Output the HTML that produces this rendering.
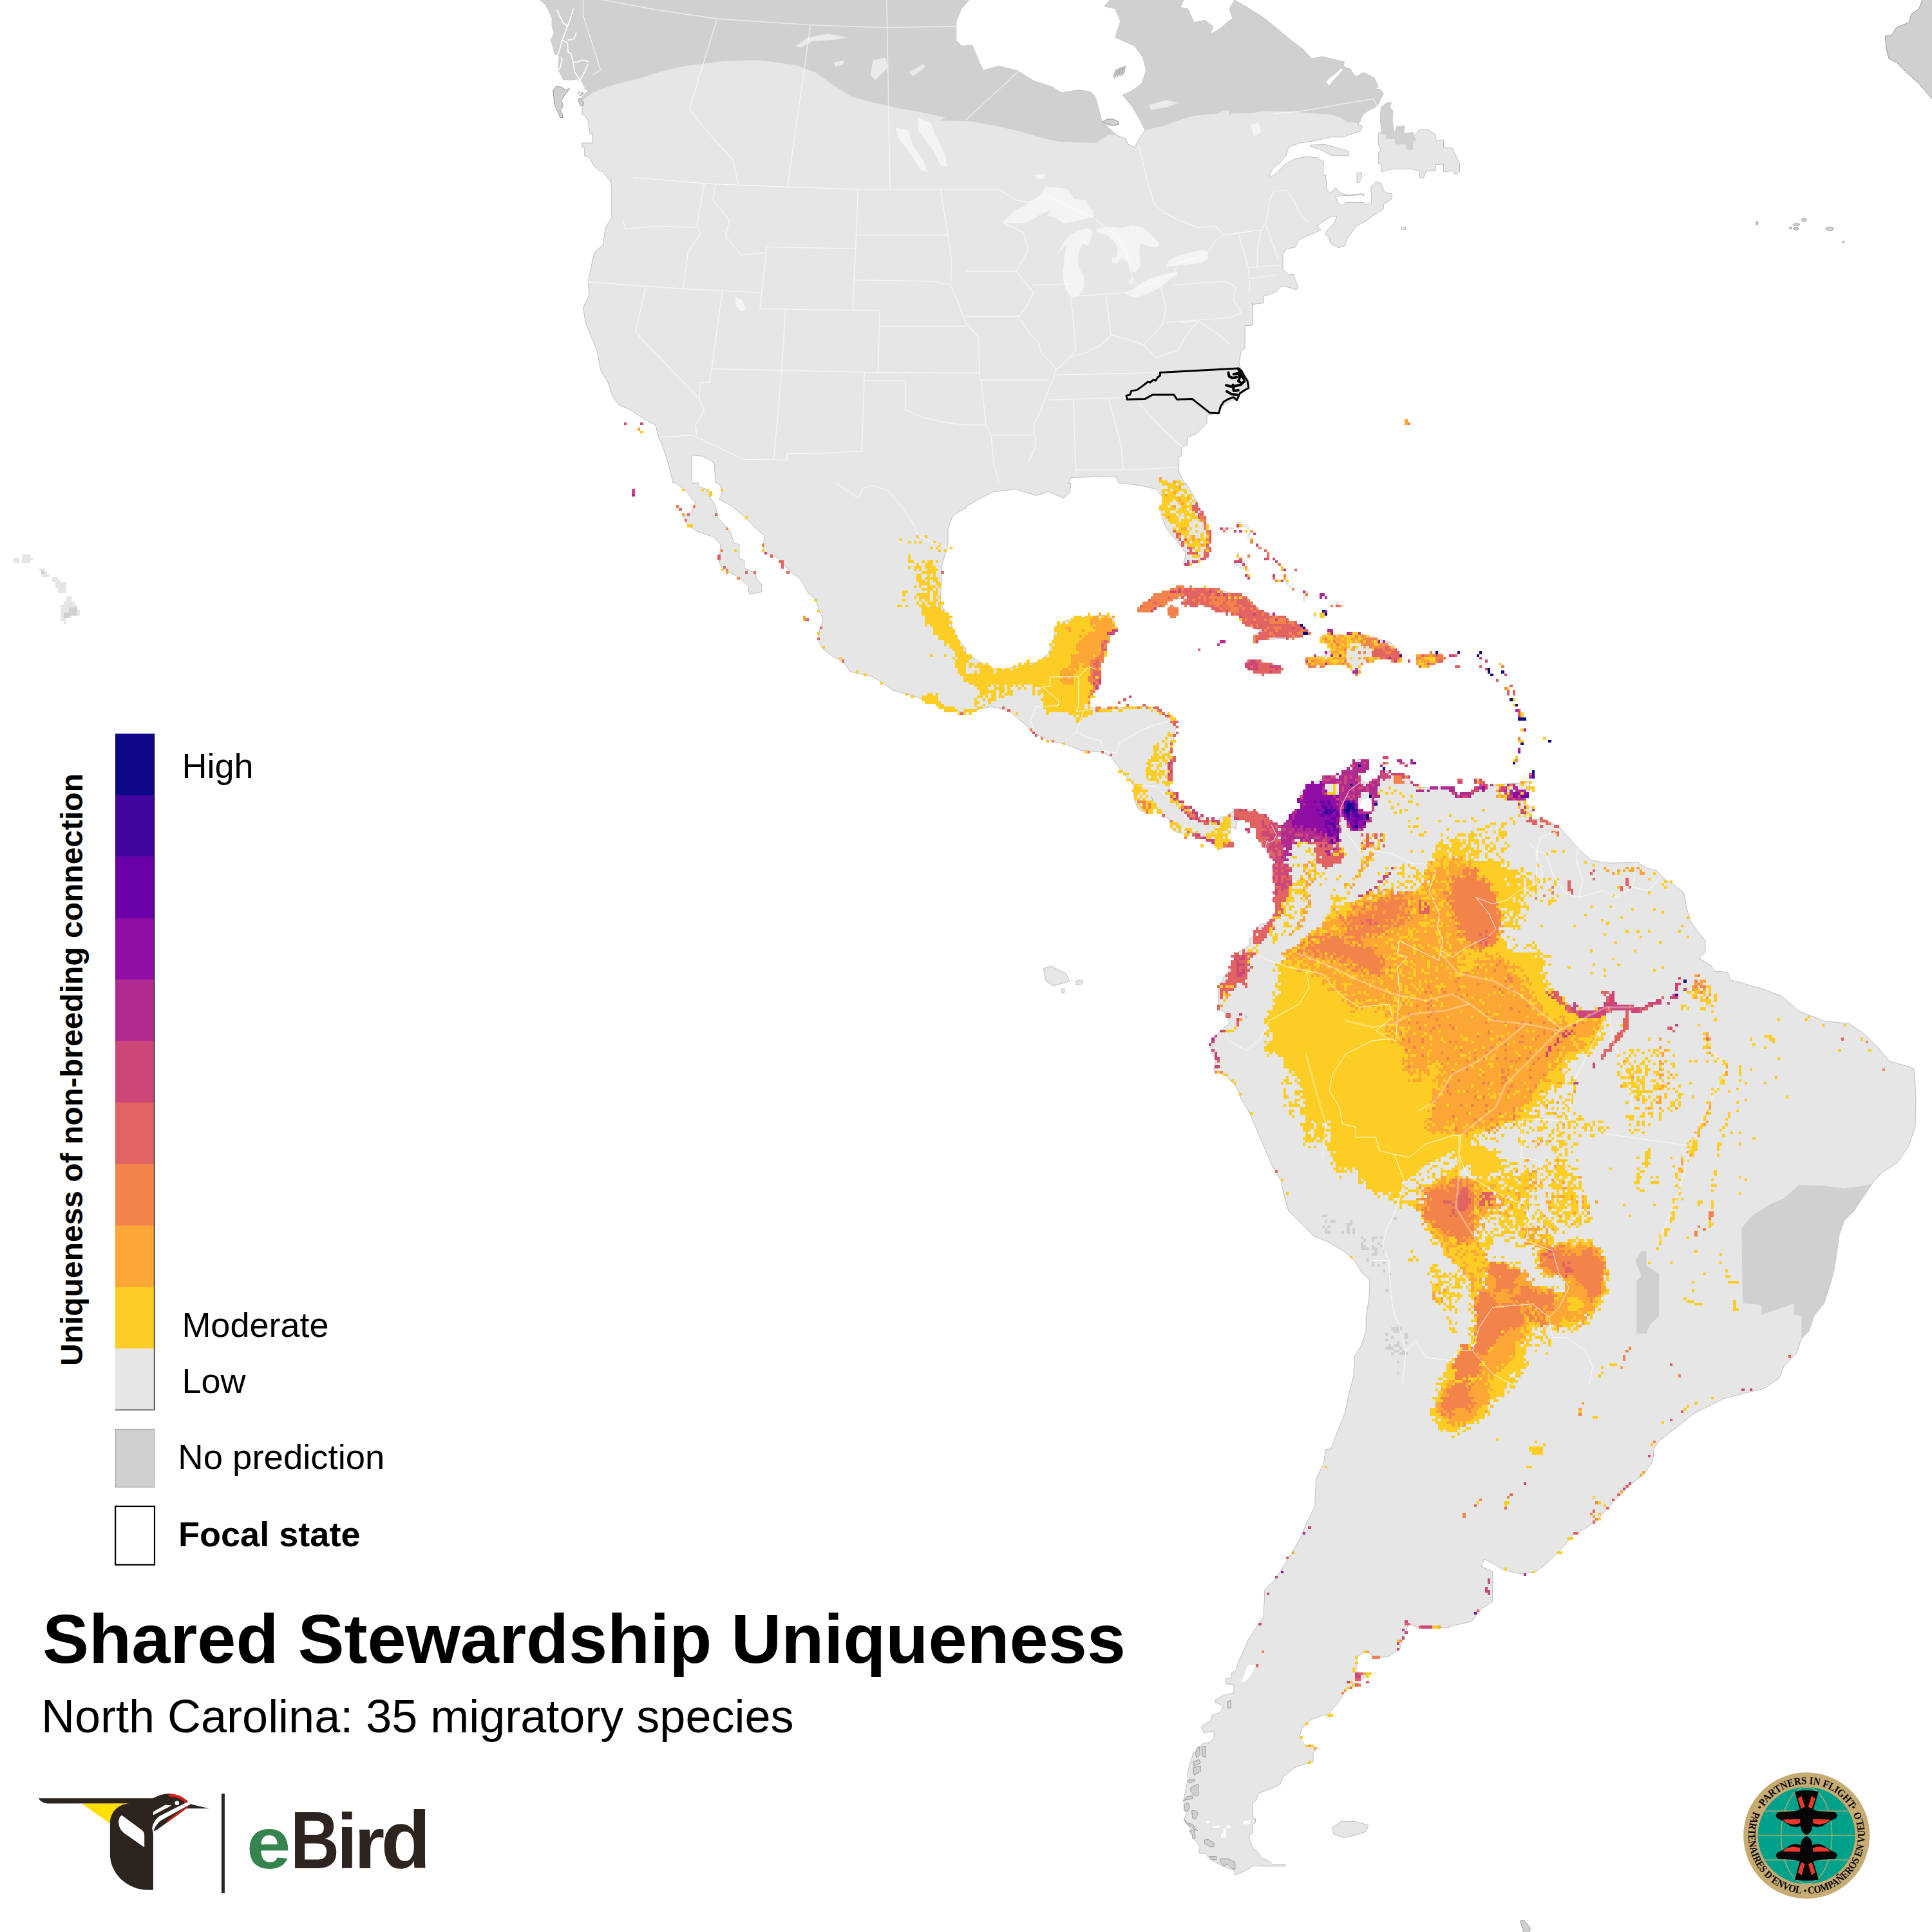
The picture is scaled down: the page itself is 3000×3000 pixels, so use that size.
<!DOCTYPE html>
<html><head><meta charset="utf-8"><title>Shared Stewardship Uniqueness</title>
<style>
html,body{margin:0;padding:0;background:#fff}
body{width:3000px;height:3000px;overflow:hidden}
svg{display:block}
text{font-family:"Liberation Sans",sans-serif;fill:#000}
.b{font-weight:bold}
</style></head><body>
<svg width="3000" height="3000" viewBox="0 0 3000 3000">
<rect width="3000" height="3000" fill="#fff"/>

<defs><clipPath id="landclip"><path d="M837.9,0 846.4,6.2 851.1,15.5 857.3,28 857,40.4 860.4,51.2 855.4,62.1 861.6,83.9 868.1,87 866.6,107.1 874.3,123.4 885.2,124.2 897.6,122.7 903.9,130.4 907.7,138.2 913.2,140.5 907,147.5 900.7,153.7 906.2,159.9 903.9,166.1 903.9,178.6 907.7,178.6 913.2,187.9 916.3,208.1 920.2,208.1 920.2,222 903.9,222 903.9,228.3 907.7,229.8 907.7,242.2 916.3,245.3 920.9,256.2 928.7,264 936.5,267.1 944.2,278 949.7,281.1 948,279.5 949.9,295 949.9,337.7 940.2,353.3 936.3,380.4 922.7,392.1 916.9,419.3 913,438.7 915,458.1 905.3,477.5 909.2,500.8 916.9,520.2 926.6,543.5 932.5,574.5 944.1,593.9 951.9,617.2 961.6,628.9 979,636.6 1002.3,652.2 1017.9,659.9 1021.7,675.5 1029.5,694.9 1037.3,718.2 1045,750 1048.9,750 1064.4,761.6 1080,781.1 1072.2,796.6 1060.6,800.5 1068.3,816 1083.9,825.7 1107.1,833.5 1118.8,845.1 1116.8,874.2 1122.7,883.9 1146,895.6 1161.5,909.2 1163.4,922.7 1182.8,918.9 1182.8,907.2 1175.1,899.5 1173.1,889.8 1155.7,882 1155.7,870.3 1147.9,866.5 1147.9,845.1 1140.1,843.2 1134.3,825.7 1114.9,804.3 1111,784.9 1103.3,773.3 1097.4,759.7 1085.8,755.8 1083.9,750 1074.1,750 1074.1,706.5 1091.6,708.5 1109.1,718.2 1111,750 1114.9,750 1122.7,761.6 1116.8,775.2 1134.3,784.9 1153.7,800.5 1173.1,819.9 1186.7,831.5 1184.8,856.8 1208.1,866.5 1227.5,887.8 1243,899.5 1254.7,920.8 1266.3,930.5 1272.1,948 1278,961.6 1272.1,979 1270.2,994.6 1278,1008.2 1293.5,1019.8 1309,1027.6 1320.7,1043.1 1355.6,1050.9 1371.1,1060.6 1386.6,1072.2 1409.9,1078 1433.2,1085.8 1460.4,1095.5 1475.9,1103.3 1500,1105.2 1500,1105.2 1538.8,1097.4 1566,1103.3 1589.3,1122.7 1604.8,1138.2 1628.1,1149.8 1655.3,1155.7 1678.6,1165.4 1709.6,1167.3 1725.2,1175.1 1740.7,1196.4 1760.1,1219.7 1759.1,1220.8 1761.7,1244.1 1768.2,1257 1779.8,1262.2 1788.9,1258.3 1790.2,1244.1 1787.6,1236.3 1796.7,1254.4 1807,1267.4 1814.9,1271.4 1818.8,1286.9 1826.6,1292.1 1836.9,1293.4 1840.8,1299.9 1843.4,1298.6 1840.8,1292.1 1852.5,1293.4 1855.1,1296 1869.3,1297.3 1873.2,1303.8 1878.3,1306.3 1887.4,1312.8 1891.3,1318 1900.3,1316.7 1914.6,1312.8 1914.6,1308.9 1909.4,1305.1 1904.2,1299.9 1909.4,1293.4 1912,1284.3 1919.8,1286.9 1919.8,1279.2 1922.3,1274 1936.6,1272.7 1946.9,1279.2 1950.8,1286.9 1950.8,1299.9 1956,1307.6 1963.7,1316.7 1967.6,1324.5 1974.1,1332.2 1978,1337.4 1975.4,1346.5 1978,1354.2 1975.4,1363.3 1979.3,1372.3 1979.3,1391.7 1975.4,1396.9 1979.3,1403.4 1987,1406 1984.5,1413.7 1979.3,1416.3 1975.4,1424.1 1971.5,1433.2 1958.6,1434.5 1950.8,1440.9 1948.2,1452.6 1939.2,1457.7 1940.5,1466.8 1930.1,1474.6 1919.8,1480 1915.4,1500 1903.7,1511.6 1892.1,1533 1892.1,1566 1903.7,1573.8 1909.5,1587.3 1899.8,1597 1886.3,1608.7 1878.5,1624.2 1888.2,1647.5 1884.3,1661.1 1903.7,1670.8 1919.3,1686.3 1927,1705.7 1940.6,1729 1952.3,1756.2 1963.9,1783.4 1975.5,1810.6 1989.1,1833.9 1995,1861 2000.8,1880.4 2020.2,1899.8 2039.6,1919.3 2062.9,1929 2086.2,1942.5 2103.6,1958.1 2115.3,1977.5 2126.9,1987.2 2125.8,2016.3 2121.1,2043.5 2121.1,2066.8 2113.4,2090.1 2103.6,2105.6 2101.7,2136.6 2093.9,2167.7 2088.1,2194.9 2078.4,2218.2 2066.8,2250 2059,2250 2055.1,2273.3 2043.5,2296.6 2041.5,2339.3 2028,2366.5 2018.2,2389.8 2004.7,2413 1993,2432.5 1977.5,2455.7 1963.9,2467.4 1962,2510.1 1954.2,2521.7 1938.7,2545 1929,2568.3 1923.2,2580 1919.6,2592.7 1912.3,2598.1 1912.3,2605.4 1903.3,2607.2 1903.3,2614.4 1915.9,2616.2 1915.9,2628.9 1899.6,2632.5 1887,2639.8 1887,2643.4 1899.6,2648.8 1894.2,2659.7 1882.4,2663.3 1879.7,2672.4 1868.8,2677.8 1865.2,2683.3 1869.7,2690.5 1885.1,2688.7 1885.1,2697.8 1879.7,2705 1868.8,2706.8 1859.8,2714.1 1852.5,2723.1 1848.9,2735.8 1844.4,2750.3 1844.4,2763 1841.7,2775.7 1838,2795.6 1838.9,2811.9 1843.5,2813.7 1838.9,2824.6 1847.1,2837.2 1854.3,2855.4 1863.4,2868 1861.6,2877.1 1872.5,2878.9 1879.7,2888 1894.2,2895.2 1901.4,2898.8 1915.9,2904.3 1917.8,2911.5 1926.8,2907.9 1941.3,2900.7 1944.9,2897 1957.6,2897.9 1970.3,2897.9 1995.7,2897.9 1995.7,2895.2 1975.7,2895.2 1970.3,2889.8 1957.6,2884.3 1953.1,2875.3 1944.9,2869.9 1941.3,2859 1939.5,2849.9 1944.9,2846.3 1944.9,2833.6 1949.5,2830 1949.5,2823.7 1944.9,2822.8 1944.9,2801 1950.4,2795.6 1954,2784.7 1973.9,2777.5 1988.4,2770.2 1992,2759.3 2001.1,2752.1 2013.8,2743 2039.1,2735.8 2039.1,2721.3 2046.4,2714.1 2026.4,2710.4 2017.4,2697.8 2021.9,2683.3 2035.5,2670.6 2050,2665.1 2062.9,2661.5 2082.3,2638.2 2090.1,2622.7 2105.6,2614.9 2125,2599.4 2105.6,2595.5 2107.5,2572.2 2121.1,2564.4 2136.6,2574.1 2156.1,2572.2 2173.5,2560.6 2179.3,2541.1 2187.1,2521.7 2202.6,2527.6 2237.6,2527.6 2250,2527.6 2250,2525.6 2284.9,2517.9 2300.5,2498.4 2317.9,2486.8 2317.9,2440.2 2300.5,2432.5 2304.3,2420.8 2319.9,2428.6 2335.4,2438.3 2362.6,2444.1 2385.9,2440.2 2405.3,2424.7 2424.7,2405.3 2444.1,2382 2459.6,2374.2 2479,2362.6 2494.6,2343.2 2514,2323.8 2533.4,2304.3 2552.8,2288.8 2566.4,2269.4 2568.3,2250 2568.3,2250 2576.1,2237.6 2591.6,2225.9 2611,2210.4 2630.4,2194.9 2653.7,2183.2 2677,2171.6 2708.1,2163.8 2739.1,2156.1 2762.4,2140.5 2770.2,2121.1 2789.6,2101.7 2797.4,2078.4 2809,2066.8 2816.8,2043.5 2832.3,2024.1 2840.1,2000.8 2847.8,1973.6 2851.7,1950.3 2855.6,1919.3 2863.4,1896 2878.9,1880.4 2894.4,1857.1 2909.9,1833.9 2925.5,1818.3 2944.9,1806.7 2964.3,1779.5 2974,1748.4 2975.2,1701.9 2972,1659.2 2960.4,1655.3 2933.2,1647.5 2917.7,1628.1 2894.4,1604.8 2871.1,1589.3 2832.3,1585.4 2793.5,1569.9 2766.3,1546.6 2735.2,1534.9 2686.7,1521.4 2682.8,1509.7 2661.5,1507.8 2657.6,1500 2657.6,1500 2638.2,1487.6 2647.9,1477.9 2647.9,1460.4 2638.2,1448.8 2626.6,1433.2 2618.8,1409.9 2614.9,1386.6 2601.3,1375 2587.7,1367.2 2572.2,1351.7 2556.7,1347.8 2543.1,1339.3 2498.4,1340.1 2471.3,1336.2 2451.9,1318.7 2436.3,1301.2 2420.8,1283.8 2397.5,1272.1 2374.2,1272.1 2380,1254.7 2366.5,1246.9 2358.7,1231.4 2376.2,1227.5 2374.2,1212 2362.6,1215.8 2327.6,1217.8 2300.5,1221.7 2284.9,1233.3 2261.6,1235.2 2250,1225.5 2250,1221.7 2222,1223.6 2198.8,1221.7 2179.3,1202.3 2159.9,1200.3 2152.2,1196.4 2140.5,1210 2121.1,1215.8 2109.5,1208.1 2121.1,1192.5 2125,1182.8 2109.5,1179 2097.8,1192.5 2074.5,1208.1 2051.2,1210 2035.7,1217.8 2019.4,1230 2016.8,1237.8 2019.4,1249.4 2018.1,1257.2 2007.7,1259.8 2000,1272.7 1992.2,1288.2 1984.5,1286.9 1979.3,1281.8 1974.1,1275.3 1966.3,1267.5 1958.6,1264.9 1949.5,1259.8 1932.7,1258.5 1927.5,1255.9 1917.2,1255.9 1915.9,1259.8 1909.4,1263.6 1904.2,1267.5 1895.2,1268.8 1890,1274.6 1870.6,1275.3 1868.6,1268.8 1856.3,1267.5 1855.7,1261.1 1848.6,1259.8 1847.3,1255.9 1840.8,1254.6 1838.2,1249.4 1831.8,1244.2 1826.6,1237.8 1822.7,1230 1814.4,1219.7 1820.3,1196.4 1818.3,1169.3 1824.1,1142.1 1826.1,1120.7 1814.4,1113 1798.9,1101.3 1779.5,1095.5 1764,1097.4 1732.9,1099.4 1701.9,1101.3 1690.2,1095.5 1694.1,1080 1701.9,1060.6 1705.7,1041.1 1711.6,1021.7 1717.4,1002.3 1729,979 1729,959.6 1717.4,955 1686.3,957.7 1655.3,963.5 1637.8,973.2 1635.9,994.6 1628.1,1014 1612.6,1027.6 1577.6,1035.3 1550.5,1041.1 1531.1,1033.4 1511.6,1021.7 1500,1017.9 1500,1006.2 1495.3,1002.3 1483.7,986.8 1472,955.7 1460.4,936.3 1462.3,878.1 1472,847 1472,819.9 1479.8,800.5 1500,788.8 1500,786.9 1519.4,775.2 1542.7,763.6 1577.6,759.7 1608.7,769.4 1628.1,763.6 1651.4,773.3 1661.1,765.5 1663,750 1659.2,750 1663,741.5 1732.9,739.5 1736.8,750 1740.7,750 1771.7,753.9 1795,759.7 1806.7,773.3 1802.8,796.6 1810.6,819.9 1826.1,839.3 1841.6,858.7 1837.7,876.2 1857.1,874.2 1872.7,862.6 1878.5,843.2 1876.6,819.9 1864.9,792.7 1853.3,769.4 1841.6,750 1841.1,752.3 1834.9,741.9 1830.7,733.6 1830.7,708.8 1834.9,707.8 1834.9,695.3 1844.2,690.2 1844.2,678.8 1857.7,673.6 1865.9,665.3 1874.2,657 1874.2,644.6 1892.9,641.5 1894.9,632.2 1911.5,621.8 1921.8,619.8 1926,611.5 1939.4,603.2 1939.4,592.9 1932.2,580.4 1926,571.1 1923.9,561.8 1928.1,543.2 1933.2,541.1 1933.2,505.9 1944.6,504.9 1944.6,470.7 1944.5,472.7 1962.1,470.6 1962.1,460.2 1974.5,456.1 1982.8,452 1989,444.7 1999.4,445.8 2012.8,449.9 2015.9,445.8 2011.8,435.4 2007.7,425.1 2001.4,427.1 1997.3,423 1992.1,418.8 1992.1,394 1997.3,386.7 2011.8,383.6 2015.9,373.3 2028.4,367.1 2042.9,360.9 2051.1,356.7 2044.9,350.5 2057.3,342.2 2067.7,336 2076,336 2071.8,346.4 2061.5,356.7 2057.3,362.9 2063.6,369.2 2065.6,377.4 2078.1,384.7 2088.4,381.6 2090.5,373.3 2098.8,360.9 2107,350.5 2119.5,344.3 2127.7,338.1 2140.2,329.8 2148.4,324.6 2148.4,317.4 2160.9,309.1 2161.9,300.8 2150.5,298.8 2144.3,284.3 2136,282.2 2128.8,290.5 2129.8,315.3 2119.5,317.4 2117.4,314.3 2090.5,314.3 2082.2,319.5 2076,311.2 2073.9,305 2086.3,303.9 2115.3,300.8 2117.4,305 2118.4,301.9 2094.6,303.9 2080.1,298.8 2073.9,291.5 2065.6,299.8 2060.5,294.6 2059.4,282.2 2058.4,271.8 2054.2,271.8 2055.3,251.1 2044.9,244.9 2028.4,242.9 2009.7,247 1993.2,257.3 1982.8,267.7 1972.5,276 1971.4,271.8 1976.6,261.5 1987,253.2 1997.3,240.8 1999.4,232.5 2005.6,226.3 2018,222.2 2044.9,218 2065.6,212.8 2086.3,212.8 2098.8,207.7 2113.3,203.5 2115.3,195.2 2109.1,194.2 2117.4,176.6 2125.7,171.4 2138.1,165.2 2148.4,145.5 2144.3,139.3 2134,137.3 2140.2,135.2 2134,120.7 2117.4,112.4 2107,118.6 2102.9,116.6 2096.7,107.2 2087.4,104.1 2086.3,100 2087.7,96.1 2066.2,91.1 2053,87.8 2036.4,91.1 2023.1,76.2 2003.3,61.3 1983.4,44.7 1963.5,28.2 1937,11.6 1917.1,0 1917.1,0 1908.9,13.3 1913.8,28.2 1894,44.7 1879,53 1884,41.4 1870.8,31.5 1854.2,34.8 1844.3,13.3 1832.7,11.6 1837.6,0 1723.4,0 1715.1,9.9 1731.6,13.3 1739.9,33.1 1731.6,58 1761.4,71.2 1774.7,89.4 1779.7,109.3 1773,129.2 1758.1,140.8 1743.2,147.4 1758.1,165.6 1769.7,185.5 1778,202.1 1771.4,212 1761.4,228.6 1751.5,223.6 1748.2,215.3 1734.9,210.4 1721.7,198.8 1710.1,185.5 1705.1,165.6 1700.2,149.1 1691.9,141.8 1672,139.8 1648.8,144.1 1632.3,134.2 1605.8,125.9 1579.3,109.3 1551.1,102.7 1526.3,109.3 1509.7,70.2 1493.1,71.2 1484.8,62.9 1484.8,33.1 1493.1,13.3 1504.7,0Z M2144.3,166.3 2152.6,160 2160.9,159 2157.8,166.3 2162.9,172.5 2161.9,187 2165,207.7 2169.2,196.3 2181.6,195.2 2179.5,207.7 2194,205.6 2195,211.8 2204.3,201.4 2216.8,201.4 2229.2,208.7 2229.2,218 2241.6,217 2241.6,229.4 2255.1,229.4 2260.2,240.8 2266.5,253.2 2266.5,266.7 2260.2,271.8 2256.1,265.6 2241.6,266.7 2241.6,255.3 2229.2,255.3 2229.2,265.6 2214.7,265.6 2210.6,276 2204.3,276 2204.3,265.6 2191.9,262.5 2160.9,262.5 2145.3,266.7 2145.3,255.3 2140.2,254.2 2140.2,236.6 2144.3,234.6 2140.2,224.2 2140.2,207.7 2145.3,203.5 2143.3,187Z M2034.6,225.3 2057.3,224.2 2086.3,232.5 2093.6,234.6 2093.6,241.8 2068.7,241.8 2051.1,232.5 2034.6,227.3Z M2107,268.7 2114.3,267.7 2114.3,276 2110.8,283.2 2107,283.2Z M2175.4,352.6 2182.6,352.2 2182.6,356.3 2176.4,356.7Z M1767.9,948 1783.4,932.5 1806.7,918.9 1833.9,913 1868.8,913 1896,916.9 1919.3,922.7 1938.7,934.4 1958.1,948 1985.2,957.7 2008.5,967.4 2031.8,979 2031.8,982.9 2004.7,990.7 1973.6,992.6 1946.4,994.6 1946.4,986.8 1958.1,979 1938.7,973.2 1927,955.7 1903.7,948 1884.3,944.1 1861,938.3 1837.7,934.4 1837.7,928.6 1818.3,932.5 1795,940.2 1787.3,948.8Z M1812.5,944.1 1822.2,941 1830,948 1828,955.7 1814.4,955.7Z M1934.8,1027.6 1950.3,1026.4 1977.5,1031.4 1991.1,1039.2 1973.6,1043.1 1954.2,1045 1938.7,1037.3Z M2049.3,988.7 2062.9,982.9 2090.1,986.8 2117.2,984.9 2136.6,990.7 2159.9,998.4 2175.5,1014 2171.6,1027.6 2152.2,1021.7 2128.9,1025.6 2109.5,1029.5 2109.5,1045 2101.7,1041.1 2090.1,1027.6 2070.7,1025.6 2043.5,1033.4 2028,1027.6 2028,1021.7 2059,1017.9 2066.8,1006.2 2051.2,994.6Z M2202.6,1017.9 2237.6,1014 2245.3,1021.7 2237.6,1029.5 2202.6,1031.4Z M2068.7,2838.1 2082.3,2828.4 2105.6,2828.4 2125,2834.2 2121.1,2843.9 2105.6,2849.8 2086.2,2853.6 2070.7,2847.8Z M1620.3,1503.9 1632,1500 1655.3,1511.6 1661.1,1523.3 1635.9,1531.1 1624.2,1523.3Z M1670.8,1523.3 1680.5,1521.4 1680.5,1528 1670.8,1529.1Z M1648.7,1534.9 1652.6,1534.9 1652.6,1541.9 1648.7,1541.9Z"/></clipPath></defs>
<path d="M837.9,0 846.4,6.2 851.1,15.5 857.3,28 857,40.4 860.4,51.2 855.4,62.1 861.6,83.9 868.1,87 866.6,107.1 874.3,123.4 885.2,124.2 897.6,122.7 903.9,130.4 907.7,138.2 913.2,140.5 907,147.5 900.7,153.7 906.2,159.9 903.9,166.1 903.9,178.6 907.7,178.6 913.2,187.9 916.3,208.1 920.2,208.1 920.2,222 903.9,222 903.9,228.3 907.7,229.8 907.7,242.2 916.3,245.3 920.9,256.2 928.7,264 936.5,267.1 944.2,278 949.7,281.1 948,279.5 949.9,295 949.9,337.7 940.2,353.3 936.3,380.4 922.7,392.1 916.9,419.3 913,438.7 915,458.1 905.3,477.5 909.2,500.8 916.9,520.2 926.6,543.5 932.5,574.5 944.1,593.9 951.9,617.2 961.6,628.9 979,636.6 1002.3,652.2 1017.9,659.9 1021.7,675.5 1029.5,694.9 1037.3,718.2 1045,750 1048.9,750 1064.4,761.6 1080,781.1 1072.2,796.6 1060.6,800.5 1068.3,816 1083.9,825.7 1107.1,833.5 1118.8,845.1 1116.8,874.2 1122.7,883.9 1146,895.6 1161.5,909.2 1163.4,922.7 1182.8,918.9 1182.8,907.2 1175.1,899.5 1173.1,889.8 1155.7,882 1155.7,870.3 1147.9,866.5 1147.9,845.1 1140.1,843.2 1134.3,825.7 1114.9,804.3 1111,784.9 1103.3,773.3 1097.4,759.7 1085.8,755.8 1083.9,750 1074.1,750 1074.1,706.5 1091.6,708.5 1109.1,718.2 1111,750 1114.9,750 1122.7,761.6 1116.8,775.2 1134.3,784.9 1153.7,800.5 1173.1,819.9 1186.7,831.5 1184.8,856.8 1208.1,866.5 1227.5,887.8 1243,899.5 1254.7,920.8 1266.3,930.5 1272.1,948 1278,961.6 1272.1,979 1270.2,994.6 1278,1008.2 1293.5,1019.8 1309,1027.6 1320.7,1043.1 1355.6,1050.9 1371.1,1060.6 1386.6,1072.2 1409.9,1078 1433.2,1085.8 1460.4,1095.5 1475.9,1103.3 1500,1105.2 1500,1105.2 1538.8,1097.4 1566,1103.3 1589.3,1122.7 1604.8,1138.2 1628.1,1149.8 1655.3,1155.7 1678.6,1165.4 1709.6,1167.3 1725.2,1175.1 1740.7,1196.4 1760.1,1219.7 1759.1,1220.8 1761.7,1244.1 1768.2,1257 1779.8,1262.2 1788.9,1258.3 1790.2,1244.1 1787.6,1236.3 1796.7,1254.4 1807,1267.4 1814.9,1271.4 1818.8,1286.9 1826.6,1292.1 1836.9,1293.4 1840.8,1299.9 1843.4,1298.6 1840.8,1292.1 1852.5,1293.4 1855.1,1296 1869.3,1297.3 1873.2,1303.8 1878.3,1306.3 1887.4,1312.8 1891.3,1318 1900.3,1316.7 1914.6,1312.8 1914.6,1308.9 1909.4,1305.1 1904.2,1299.9 1909.4,1293.4 1912,1284.3 1919.8,1286.9 1919.8,1279.2 1922.3,1274 1936.6,1272.7 1946.9,1279.2 1950.8,1286.9 1950.8,1299.9 1956,1307.6 1963.7,1316.7 1967.6,1324.5 1974.1,1332.2 1978,1337.4 1975.4,1346.5 1978,1354.2 1975.4,1363.3 1979.3,1372.3 1979.3,1391.7 1975.4,1396.9 1979.3,1403.4 1987,1406 1984.5,1413.7 1979.3,1416.3 1975.4,1424.1 1971.5,1433.2 1958.6,1434.5 1950.8,1440.9 1948.2,1452.6 1939.2,1457.7 1940.5,1466.8 1930.1,1474.6 1919.8,1480 1915.4,1500 1903.7,1511.6 1892.1,1533 1892.1,1566 1903.7,1573.8 1909.5,1587.3 1899.8,1597 1886.3,1608.7 1878.5,1624.2 1888.2,1647.5 1884.3,1661.1 1903.7,1670.8 1919.3,1686.3 1927,1705.7 1940.6,1729 1952.3,1756.2 1963.9,1783.4 1975.5,1810.6 1989.1,1833.9 1995,1861 2000.8,1880.4 2020.2,1899.8 2039.6,1919.3 2062.9,1929 2086.2,1942.5 2103.6,1958.1 2115.3,1977.5 2126.9,1987.2 2125.8,2016.3 2121.1,2043.5 2121.1,2066.8 2113.4,2090.1 2103.6,2105.6 2101.7,2136.6 2093.9,2167.7 2088.1,2194.9 2078.4,2218.2 2066.8,2250 2059,2250 2055.1,2273.3 2043.5,2296.6 2041.5,2339.3 2028,2366.5 2018.2,2389.8 2004.7,2413 1993,2432.5 1977.5,2455.7 1963.9,2467.4 1962,2510.1 1954.2,2521.7 1938.7,2545 1929,2568.3 1923.2,2580 1919.6,2592.7 1912.3,2598.1 1912.3,2605.4 1903.3,2607.2 1903.3,2614.4 1915.9,2616.2 1915.9,2628.9 1899.6,2632.5 1887,2639.8 1887,2643.4 1899.6,2648.8 1894.2,2659.7 1882.4,2663.3 1879.7,2672.4 1868.8,2677.8 1865.2,2683.3 1869.7,2690.5 1885.1,2688.7 1885.1,2697.8 1879.7,2705 1868.8,2706.8 1859.8,2714.1 1852.5,2723.1 1848.9,2735.8 1844.4,2750.3 1844.4,2763 1841.7,2775.7 1838,2795.6 1838.9,2811.9 1843.5,2813.7 1838.9,2824.6 1847.1,2837.2 1854.3,2855.4 1863.4,2868 1861.6,2877.1 1872.5,2878.9 1879.7,2888 1894.2,2895.2 1901.4,2898.8 1915.9,2904.3 1917.8,2911.5 1926.8,2907.9 1941.3,2900.7 1944.9,2897 1957.6,2897.9 1970.3,2897.9 1995.7,2897.9 1995.7,2895.2 1975.7,2895.2 1970.3,2889.8 1957.6,2884.3 1953.1,2875.3 1944.9,2869.9 1941.3,2859 1939.5,2849.9 1944.9,2846.3 1944.9,2833.6 1949.5,2830 1949.5,2823.7 1944.9,2822.8 1944.9,2801 1950.4,2795.6 1954,2784.7 1973.9,2777.5 1988.4,2770.2 1992,2759.3 2001.1,2752.1 2013.8,2743 2039.1,2735.8 2039.1,2721.3 2046.4,2714.1 2026.4,2710.4 2017.4,2697.8 2021.9,2683.3 2035.5,2670.6 2050,2665.1 2062.9,2661.5 2082.3,2638.2 2090.1,2622.7 2105.6,2614.9 2125,2599.4 2105.6,2595.5 2107.5,2572.2 2121.1,2564.4 2136.6,2574.1 2156.1,2572.2 2173.5,2560.6 2179.3,2541.1 2187.1,2521.7 2202.6,2527.6 2237.6,2527.6 2250,2527.6 2250,2525.6 2284.9,2517.9 2300.5,2498.4 2317.9,2486.8 2317.9,2440.2 2300.5,2432.5 2304.3,2420.8 2319.9,2428.6 2335.4,2438.3 2362.6,2444.1 2385.9,2440.2 2405.3,2424.7 2424.7,2405.3 2444.1,2382 2459.6,2374.2 2479,2362.6 2494.6,2343.2 2514,2323.8 2533.4,2304.3 2552.8,2288.8 2566.4,2269.4 2568.3,2250 2568.3,2250 2576.1,2237.6 2591.6,2225.9 2611,2210.4 2630.4,2194.9 2653.7,2183.2 2677,2171.6 2708.1,2163.8 2739.1,2156.1 2762.4,2140.5 2770.2,2121.1 2789.6,2101.7 2797.4,2078.4 2809,2066.8 2816.8,2043.5 2832.3,2024.1 2840.1,2000.8 2847.8,1973.6 2851.7,1950.3 2855.6,1919.3 2863.4,1896 2878.9,1880.4 2894.4,1857.1 2909.9,1833.9 2925.5,1818.3 2944.9,1806.7 2964.3,1779.5 2974,1748.4 2975.2,1701.9 2972,1659.2 2960.4,1655.3 2933.2,1647.5 2917.7,1628.1 2894.4,1604.8 2871.1,1589.3 2832.3,1585.4 2793.5,1569.9 2766.3,1546.6 2735.2,1534.9 2686.7,1521.4 2682.8,1509.7 2661.5,1507.8 2657.6,1500 2657.6,1500 2638.2,1487.6 2647.9,1477.9 2647.9,1460.4 2638.2,1448.8 2626.6,1433.2 2618.8,1409.9 2614.9,1386.6 2601.3,1375 2587.7,1367.2 2572.2,1351.7 2556.7,1347.8 2543.1,1339.3 2498.4,1340.1 2471.3,1336.2 2451.9,1318.7 2436.3,1301.2 2420.8,1283.8 2397.5,1272.1 2374.2,1272.1 2380,1254.7 2366.5,1246.9 2358.7,1231.4 2376.2,1227.5 2374.2,1212 2362.6,1215.8 2327.6,1217.8 2300.5,1221.7 2284.9,1233.3 2261.6,1235.2 2250,1225.5 2250,1221.7 2222,1223.6 2198.8,1221.7 2179.3,1202.3 2159.9,1200.3 2152.2,1196.4 2140.5,1210 2121.1,1215.8 2109.5,1208.1 2121.1,1192.5 2125,1182.8 2109.5,1179 2097.8,1192.5 2074.5,1208.1 2051.2,1210 2035.7,1217.8 2019.4,1230 2016.8,1237.8 2019.4,1249.4 2018.1,1257.2 2007.7,1259.8 2000,1272.7 1992.2,1288.2 1984.5,1286.9 1979.3,1281.8 1974.1,1275.3 1966.3,1267.5 1958.6,1264.9 1949.5,1259.8 1932.7,1258.5 1927.5,1255.9 1917.2,1255.9 1915.9,1259.8 1909.4,1263.6 1904.2,1267.5 1895.2,1268.8 1890,1274.6 1870.6,1275.3 1868.6,1268.8 1856.3,1267.5 1855.7,1261.1 1848.6,1259.8 1847.3,1255.9 1840.8,1254.6 1838.2,1249.4 1831.8,1244.2 1826.6,1237.8 1822.7,1230 1814.4,1219.7 1820.3,1196.4 1818.3,1169.3 1824.1,1142.1 1826.1,1120.7 1814.4,1113 1798.9,1101.3 1779.5,1095.5 1764,1097.4 1732.9,1099.4 1701.9,1101.3 1690.2,1095.5 1694.1,1080 1701.9,1060.6 1705.7,1041.1 1711.6,1021.7 1717.4,1002.3 1729,979 1729,959.6 1717.4,955 1686.3,957.7 1655.3,963.5 1637.8,973.2 1635.9,994.6 1628.1,1014 1612.6,1027.6 1577.6,1035.3 1550.5,1041.1 1531.1,1033.4 1511.6,1021.7 1500,1017.9 1500,1006.2 1495.3,1002.3 1483.7,986.8 1472,955.7 1460.4,936.3 1462.3,878.1 1472,847 1472,819.9 1479.8,800.5 1500,788.8 1500,786.9 1519.4,775.2 1542.7,763.6 1577.6,759.7 1608.7,769.4 1628.1,763.6 1651.4,773.3 1661.1,765.5 1663,750 1659.2,750 1663,741.5 1732.9,739.5 1736.8,750 1740.7,750 1771.7,753.9 1795,759.7 1806.7,773.3 1802.8,796.6 1810.6,819.9 1826.1,839.3 1841.6,858.7 1837.7,876.2 1857.1,874.2 1872.7,862.6 1878.5,843.2 1876.6,819.9 1864.9,792.7 1853.3,769.4 1841.6,750 1841.1,752.3 1834.9,741.9 1830.7,733.6 1830.7,708.8 1834.9,707.8 1834.9,695.3 1844.2,690.2 1844.2,678.8 1857.7,673.6 1865.9,665.3 1874.2,657 1874.2,644.6 1892.9,641.5 1894.9,632.2 1911.5,621.8 1921.8,619.8 1926,611.5 1939.4,603.2 1939.4,592.9 1932.2,580.4 1926,571.1 1923.9,561.8 1928.1,543.2 1933.2,541.1 1933.2,505.9 1944.6,504.9 1944.6,470.7 1944.5,472.7 1962.1,470.6 1962.1,460.2 1974.5,456.1 1982.8,452 1989,444.7 1999.4,445.8 2012.8,449.9 2015.9,445.8 2011.8,435.4 2007.7,425.1 2001.4,427.1 1997.3,423 1992.1,418.8 1992.1,394 1997.3,386.7 2011.8,383.6 2015.9,373.3 2028.4,367.1 2042.9,360.9 2051.1,356.7 2044.9,350.5 2057.3,342.2 2067.7,336 2076,336 2071.8,346.4 2061.5,356.7 2057.3,362.9 2063.6,369.2 2065.6,377.4 2078.1,384.7 2088.4,381.6 2090.5,373.3 2098.8,360.9 2107,350.5 2119.5,344.3 2127.7,338.1 2140.2,329.8 2148.4,324.6 2148.4,317.4 2160.9,309.1 2161.9,300.8 2150.5,298.8 2144.3,284.3 2136,282.2 2128.8,290.5 2129.8,315.3 2119.5,317.4 2117.4,314.3 2090.5,314.3 2082.2,319.5 2076,311.2 2073.9,305 2086.3,303.9 2115.3,300.8 2117.4,305 2118.4,301.9 2094.6,303.9 2080.1,298.8 2073.9,291.5 2065.6,299.8 2060.5,294.6 2059.4,282.2 2058.4,271.8 2054.2,271.8 2055.3,251.1 2044.9,244.9 2028.4,242.9 2009.7,247 1993.2,257.3 1982.8,267.7 1972.5,276 1971.4,271.8 1976.6,261.5 1987,253.2 1997.3,240.8 1999.4,232.5 2005.6,226.3 2018,222.2 2044.9,218 2065.6,212.8 2086.3,212.8 2098.8,207.7 2113.3,203.5 2115.3,195.2 2109.1,194.2 2117.4,176.6 2125.7,171.4 2138.1,165.2 2148.4,145.5 2144.3,139.3 2134,137.3 2140.2,135.2 2134,120.7 2117.4,112.4 2107,118.6 2102.9,116.6 2096.7,107.2 2087.4,104.1 2086.3,100 2087.7,96.1 2066.2,91.1 2053,87.8 2036.4,91.1 2023.1,76.2 2003.3,61.3 1983.4,44.7 1963.5,28.2 1937,11.6 1917.1,0 1917.1,0 1908.9,13.3 1913.8,28.2 1894,44.7 1879,53 1884,41.4 1870.8,31.5 1854.2,34.8 1844.3,13.3 1832.7,11.6 1837.6,0 1723.4,0 1715.1,9.9 1731.6,13.3 1739.9,33.1 1731.6,58 1761.4,71.2 1774.7,89.4 1779.7,109.3 1773,129.2 1758.1,140.8 1743.2,147.4 1758.1,165.6 1769.7,185.5 1778,202.1 1771.4,212 1761.4,228.6 1751.5,223.6 1748.2,215.3 1734.9,210.4 1721.7,198.8 1710.1,185.5 1705.1,165.6 1700.2,149.1 1691.9,141.8 1672,139.8 1648.8,144.1 1632.3,134.2 1605.8,125.9 1579.3,109.3 1551.1,102.7 1526.3,109.3 1509.7,70.2 1493.1,71.2 1484.8,62.9 1484.8,33.1 1493.1,13.3 1504.7,0Z M2144.3,166.3 2152.6,160 2160.9,159 2157.8,166.3 2162.9,172.5 2161.9,187 2165,207.7 2169.2,196.3 2181.6,195.2 2179.5,207.7 2194,205.6 2195,211.8 2204.3,201.4 2216.8,201.4 2229.2,208.7 2229.2,218 2241.6,217 2241.6,229.4 2255.1,229.4 2260.2,240.8 2266.5,253.2 2266.5,266.7 2260.2,271.8 2256.1,265.6 2241.6,266.7 2241.6,255.3 2229.2,255.3 2229.2,265.6 2214.7,265.6 2210.6,276 2204.3,276 2204.3,265.6 2191.9,262.5 2160.9,262.5 2145.3,266.7 2145.3,255.3 2140.2,254.2 2140.2,236.6 2144.3,234.6 2140.2,224.2 2140.2,207.7 2145.3,203.5 2143.3,187Z M2034.6,225.3 2057.3,224.2 2086.3,232.5 2093.6,234.6 2093.6,241.8 2068.7,241.8 2051.1,232.5 2034.6,227.3Z M2107,268.7 2114.3,267.7 2114.3,276 2110.8,283.2 2107,283.2Z M2175.4,352.6 2182.6,352.2 2182.6,356.3 2176.4,356.7Z M1767.9,948 1783.4,932.5 1806.7,918.9 1833.9,913 1868.8,913 1896,916.9 1919.3,922.7 1938.7,934.4 1958.1,948 1985.2,957.7 2008.5,967.4 2031.8,979 2031.8,982.9 2004.7,990.7 1973.6,992.6 1946.4,994.6 1946.4,986.8 1958.1,979 1938.7,973.2 1927,955.7 1903.7,948 1884.3,944.1 1861,938.3 1837.7,934.4 1837.7,928.6 1818.3,932.5 1795,940.2 1787.3,948.8Z M1812.5,944.1 1822.2,941 1830,948 1828,955.7 1814.4,955.7Z M1934.8,1027.6 1950.3,1026.4 1977.5,1031.4 1991.1,1039.2 1973.6,1043.1 1954.2,1045 1938.7,1037.3Z M2049.3,988.7 2062.9,982.9 2090.1,986.8 2117.2,984.9 2136.6,990.7 2159.9,998.4 2175.5,1014 2171.6,1027.6 2152.2,1021.7 2128.9,1025.6 2109.5,1029.5 2109.5,1045 2101.7,1041.1 2090.1,1027.6 2070.7,1025.6 2043.5,1033.4 2028,1027.6 2028,1021.7 2059,1017.9 2066.8,1006.2 2051.2,994.6Z M2202.6,1017.9 2237.6,1014 2245.3,1021.7 2237.6,1029.5 2202.6,1031.4Z M2068.7,2838.1 2082.3,2828.4 2105.6,2828.4 2125,2834.2 2121.1,2843.9 2105.6,2849.8 2086.2,2853.6 2070.7,2847.8Z M1620.3,1503.9 1632,1500 1655.3,1511.6 1661.1,1523.3 1635.9,1531.1 1624.2,1523.3Z M1670.8,1523.3 1680.5,1521.4 1680.5,1528 1670.8,1529.1Z M1648.7,1534.9 1652.6,1534.9 1652.6,1541.9 1648.7,1541.9Z" fill="#e6e6e6" stroke="#8a8a8a" stroke-opacity="0.55" stroke-width="0.9"/>
<g clip-path="url(#landclip)">
<path d="M750,0 750,160 878.1,163 889.8,161.1 901.4,157.2 905.3,155.3 920.8,143.6 951.9,132 990.7,122.3 1021.7,112.6 1060.6,102.9 1122.7,95.1 1177,93.2 1235.2,100.9 1266.3,112.6 1293.5,132 1320.7,149.5 1355.6,159.2 1390.5,166.9 1433.2,174.7 1468.2,182.5 1460,187.2 1509.7,188.8 1546.1,195.4 1582.6,203.7 1622.3,215.3 1645.5,220.3 1701.8,221.9 1721.7,208.7 1734.9,210.4 1758.1,218.6 1778,202.1 1807.8,195.4 1824.4,188.8 1850.9,180.5 1877.4,177.2 1890.6,176.6 1900,171.4 1908.3,171.4 1908.3,180.7 1912.4,176.6 1945.5,175.6 1962.1,172.5 2015.9,173.5 2028.4,175.6 2065.6,177.6 2082.2,182.8 2090.5,189 2107,191.1 2109.1,194.2 2127.7,194.2 2169.2,162.1 2300,180 2300,0Z" fill="#d0d0d0"/>
<path d="M2142.2,164.2 2152.6,158 2162.9,158 2165,172.5 2164,187 2166,203.5 2169.2,194.2 2182.6,193.2 2181.6,205.6 2195,203.5 2196.1,211.8 2200.2,218 2194,220.1 2194,232.5 2183.6,232.5 2182.6,224.2 2167.1,224.2 2165,215.9 2152.6,215.9 2151.6,209.7 2143.3,207.7Z" fill="#d0d0d0"/>
<path d="M2793.5,1839.7 2832.3,1841.6 2863.4,1845.5 2894.4,1841.6 2917.7,1833.9 2909.9,2004.7 2832.3,2024.1 2809,2066.8 2797.4,2078.4 2797.4,2043.5 2785.7,2041.5 2785.7,2024.1 2735.2,2041.5 2735.2,2026 2706.1,2024.1 2704.2,1907.6 2719.7,1888.2 2750.8,1868.8 2770.2,1861Z" fill="#d0d0d0"/>
<path d="M2548.9,1942.5 2556.7,1942.5 2556.7,1965.8 2576.1,1977.5 2576.1,2043.5 2560.6,2059 2556.7,2070.7 2541.1,2070.7 2541.1,1989.1 2548.9,1981.4 2539.2,1958.1Z" fill="#d0d0d0"/>
</g>
<path d="M2059.4,126.9 2065.6,120.7 2076,112.4 2082.2,106.2 2084.7,108.3 2078.1,116.6 2069.8,124.8 2063.6,133.1Z" fill="#fff"/>
<path d="M2115.3,1241.1 2125,1239.9 2130.8,1250.8 2126.9,1264.4 2117.2,1262.4 2111.4,1252.7Z" fill="#fff"/>
<path d="M1930.4,2828.2 1941.3,2826.4 1941.3,2832.2 1930.4,2833.1Z" fill="#fff"/>
<path d="M1899.6,2839.1 1903.6,2839.1 1903.6,2853.6 1896,2853.6 1896,2848.1 1899.6,2848.1Z" fill="#fff"/>
<path d="M1937.7,2585.4 1950.4,2585.4 1943.1,2599.9 1934.1,2610.8 1926.8,2612.6 1932.2,2599.9Z" fill="#fff"/>
<path d="M1872.5,2828.6 1877.9,2827.8 1877.9,2830.9 1873.4,2831.4Z" fill="#fff"/>
<path d="M1882.4,2835.4 1894.2,2834.5 1893.3,2838.2 1883.3,2838.7Z" fill="#fff"/>
<path d="M1904.2,2834.5 1910.5,2834.5 1910.9,2838.2 1904.7,2838.7Z" fill="#fff"/>
<path d="M2985.6,-1.9 2979.8,13.6 2968.2,21.4 2964.3,34.9 2944.9,42.7 2937.1,54.3 2927.4,56.3 2929.3,77.6 2933.2,91.2 2944.9,97 2960.4,112.6 2979.8,130 3003.1,157.2 3003.1,-1.9Z" fill="#d0d0d0" stroke="#9a9a9a" stroke-width="1"/>
<path d="M1712.4,188.8 1718.4,185.5 1728.3,184.8 1736.6,188.8 1737.6,192.8 1730,194.8 1720,193.5Z" fill="#d0d0d0" stroke="#9a9a9a" stroke-width="1"/>
<path d="M1729,118.6 1732.3,109.3 1734.9,106.7 1733.6,114.3 1731,121.2Z" fill="#d0d0d0" stroke="#9a9a9a" stroke-width="1"/>
<path d="M1733.6,116.6 1736.9,107.3 1739.6,104.7 1738.3,112.3 1735.6,119.3Z" fill="#d0d0d0" stroke="#9a9a9a" stroke-width="1"/>
<path d="M1737.6,115.3 1740.9,106 1743.6,103.4 1742.2,111 1739.6,117.9Z" fill="#d0d0d0" stroke="#9a9a9a" stroke-width="1"/>
<path d="M1741.6,114 1744.9,104.7 1747.5,102 1746.2,109.6 1743.6,116.6Z" fill="#d0d0d0" stroke="#9a9a9a" stroke-width="1"/>
<path d="M858.8,139.8 863.5,134.3 871.2,135.1 879,139.8 884.4,137.4 875.9,149.1 871.2,156.8 874.3,161.5 873.6,166.1 869.7,170.8 872.8,175.5 874.3,182.5 869.7,182.5 865,170.8 861.9,164.6 860.4,156.8 859.6,147.5Z" fill="#d0d0d0" stroke="#9a9a9a" stroke-width="1"/>
<path d="M896.9,146 900.7,142.1 905.4,143.6 904.6,147.5 899.2,148.3Z" fill="#d0d0d0" stroke="#9a9a9a" stroke-width="1"/>
<path d="M897.6,153.7 900.7,152.2 907,159.9 904.6,164.6 900.7,163Z" fill="#d0d0d0" stroke="#9a9a9a" stroke-width="1"/>
<path d="M2797,341.6 2799.1,339.3 2803.8,339.8 2805.5,341.6 2803,343.9 2798.7,343.5Z" fill="#d0d0d0" stroke="#9a9a9a" stroke-width="1"/>
<path d="M2784.2,348.6 2786.9,347 2792.9,347.4 2795,348.6 2791.8,350.2 2786.3,349.8Z" fill="#d0d0d0" stroke="#9a9a9a" stroke-width="1"/>
<path d="M2784.2,355.2 2786.5,353.3 2791.6,353.6 2793.5,355.2 2790.7,357.1 2786,356.8Z" fill="#d0d0d0" stroke="#9a9a9a" stroke-width="1"/>
<path d="M2778,354 2779.1,352.5 2781.7,352.8 2782.6,354 2781.2,355.6 2778.9,355.3Z" fill="#d0d0d0" stroke="#9a9a9a" stroke-width="1"/>
<path d="M2834.6,355.2 2837.9,352.5 2845.2,353 2847.8,355.2 2843.9,357.9 2837.3,357.4Z" fill="#d0d0d0" stroke="#9a9a9a" stroke-width="1"/>
<path d="M2726.7,346.3 2727.5,343.6 2729.2,344.1 2729.8,346.3 2728.9,349 2727.3,348.4Z" fill="#d0d0d0" stroke="#9a9a9a" stroke-width="1"/>
<path d="M2861,375.8 2861.8,374.2 2863.5,374.5 2864.1,375.8 2863.2,377.3 2861.6,377Z" fill="#d0d0d0" stroke="#9a9a9a" stroke-width="1"/>
<path d="M1858.9,2714.1 1862.5,2712.2 1863.4,2724.9 1858,2729.5 1856.2,2723.1Z" fill="#d0d0d0" stroke="#9a9a9a" stroke-width="1"/>
<path d="M1866.1,2712.2 1872.5,2711.3 1872.5,2728.6 1867,2726.7Z" fill="#d0d0d0" stroke="#9a9a9a" stroke-width="1"/>
<path d="M1852.5,2735.8 1861.6,2732.2 1864.3,2737.6 1854.3,2742.1Z" fill="#d0d0d0" stroke="#9a9a9a" stroke-width="1"/>
<path d="M1852.5,2744.9 1864.3,2742.1 1864.3,2750.3 1854.3,2756.6Z" fill="#d0d0d0" stroke="#9a9a9a" stroke-width="1"/>
<path d="M1844.4,2764.8 1854.3,2762.1 1856.2,2764.8 1847.1,2768.4Z" fill="#d0d0d0" stroke="#9a9a9a" stroke-width="1"/>
<path d="M1848.9,2775.7 1856.2,2772 1860.7,2770.2 1860.7,2788.3 1854.3,2787.4 1848.9,2781.1Z" fill="#d0d0d0" stroke="#9a9a9a" stroke-width="1"/>
<path d="M1837.1,2796.5 1842.6,2790.1 1852.5,2788.3 1851.6,2792.9 1841.7,2794.7Z" fill="#d0d0d0" stroke="#9a9a9a" stroke-width="1"/>
<path d="M1838.9,2802.8 1844.4,2799.2 1847.5,2806.4 1842.6,2813.7 1838.9,2810.1Z" fill="#d0d0d0" stroke="#9a9a9a" stroke-width="1"/>
<path d="M1850.7,2811 1856.2,2811.9 1860.7,2815.5 1856.2,2824.6 1851.6,2822.8Z" fill="#d0d0d0" stroke="#9a9a9a" stroke-width="1"/>
<path d="M1838,2824.6 1843.5,2830 1852.5,2833.6 1858,2840.9 1859.8,2842.7 1854.3,2840.9 1850.7,2836.3 1842.6,2832.7Z" fill="#d0d0d0" stroke="#9a9a9a" stroke-width="1"/>
<path d="M1847.1,2843.6 1854.3,2840.9 1856.2,2853.6 1852.5,2855.4 1850.7,2848.1Z" fill="#d0d0d0" stroke="#9a9a9a" stroke-width="1"/>
<path d="M1869.7,2857.2 1876.1,2856.3 1885.1,2861.7 1885.1,2867.1 1879.7,2868 1870.7,2862.6Z" fill="#d0d0d0" stroke="#9a9a9a" stroke-width="1"/>
<path d="M1894.2,2886.2 1906.9,2886.2 1917.8,2891.6 1917.8,2902.5 1913.2,2901.6 1906.9,2895.2 1899.6,2897 1895.1,2891.6Z" fill="#d0d0d0" stroke="#9a9a9a" stroke-width="1"/>
<path d="M1877.9,2882.5 1888.8,2882.5 1888.8,2888 1881.5,2887.1Z" fill="#d0d0d0" stroke="#9a9a9a" stroke-width="1"/>
<path d="M1906,2641.6 1911.4,2640.7 1911.4,2651.6 1906.9,2652.5Z" fill="#d0d0d0" stroke="#9a9a9a" stroke-width="1"/>
<path d="M2360.6,2982.9 2366.5,2981.8 2376.2,2993.4 2375,3001.2 2366.5,3001.2Z" fill="#d0d0d0" stroke="#9a9a9a" stroke-width="1"/>
<g fill="none" stroke="#fff" stroke-width="1.7" stroke-linejoin="round" stroke-linecap="round">
<path d="M871.2,28 874.3,35.7 881.3,40.4 885.2,31.1 889.9,14"/>
<path d="M881.3,40.4 877.5,51.2 872.8,62.1 868.1,80.7 865,87"/>
<path d="M882.1,62.1 891.4,60.6 894.5,51.2"/>
<path d="M872.8,62.1 881.3,66.8 882.1,80.7 886.8,83.9 889.9,96.3 892.2,111.8 900.7,124.2 907,136.6 897.6,149.1"/>
<path d="M871.2,88.5 872.8,93.2 869.7,105.6 866.6,108.7"/>
<path d="M889.9,96.3 897.6,96.3 903.9,93.2 913.2,95.5"/>
<path d="M900.7,124.2 904.6,118 913.2,99.4"/>
<path d="M865,15.5 868.1,23.3 871.2,28"/>
</g>
<path d="M1557.7,344.5 1577.3,325.9 1601.5,313.8 1614.5,303.5 1623.9,289.6 1657.4,293.3 1668.6,309.1 1687.2,311 1689.1,320.3 1696.5,325.9 1698.4,337.1 1689.1,338.9 1666.7,344.5 1651.8,346.4 1636.9,337.1 1625.7,335.2 1633.2,325 1614.5,333.4 1601.5,341.7 1590.3,346.4 1580.1,346.4 1558.6,345.5Z" fill="#fff" fill-opacity="0.55"/>
<path d="M1642.5,392 1651.8,376.2 1659.3,366.9 1674.2,357.6 1689.1,354.8 1696.5,359.4 1694.7,370.6 1689.1,381.8 1681.6,378.1 1676,389.3 1673.2,404.2 1676,417.2 1683.5,430.2 1682.5,447 1674.2,460.1 1663,461 1654.6,448.9 1649.9,430.2 1651.8,407.9 1653.7,389.3 1656.5,379.9 1644.3,391.1Z" fill="#fff" fill-opacity="0.55"/>
<path d="M1702.1,355.7 1718.9,352 1737.5,353.9 1758,350.1 1774.8,352.9 1787.8,365 1800.9,378.1 1795.3,384.6 1780.4,381.8 1771.1,378.1 1769.2,391.1 1771.1,413.5 1763.6,422.8 1758,421.9 1752.4,407.9 1741.2,400.4 1733.8,409.8 1726.3,407.9 1726.3,402.3 1733.8,398.6 1735.7,385.5 1730.1,374.3 1718.9,365 1704,361.3Z" fill="#fff" fill-opacity="0.55"/>
<path d="M1745,454.5 1759.9,448.9 1774.8,437.7 1787.8,432.1 1804.6,426.5 1827.9,421.9 1827.9,426.5 1813.9,435.8 1800.9,447 1782.2,456.3 1763.6,461.9 1752.4,459.1Z" fill="#fff" fill-opacity="0.55"/>
<path d="M1751.5,437.7 1756.1,433 1760.8,437.7 1756.1,442.4Z" fill="#fff" fill-opacity="0.55"/>
<path d="M1810.2,413.5 1815.8,404.2 1830.7,396.7 1853,391.1 1869.8,387.4 1876.3,392 1875.4,402.3 1864.2,408.8 1845.6,410.7 1827,412.5 1812,414.4Z" fill="#fff" fill-opacity="0.55"/>
<path d="M1605.2,271.9 1622,270 1622,277.5 1610.8,278.4Z" fill="#fff" fill-opacity="0.55"/>
<path d="M1235.2,71.8 1254.7,58.2 1285.7,52.4 1316.8,58.2 1293.5,62.1 1262.4,64.1 1243,73.8Z" fill="#fff" fill-opacity="0.55"/>
<path d="M1425.5,182.5 1444.9,190.2 1452.6,209.6 1468.2,240.7 1470.1,260.1 1460.4,256.2 1448.8,232.9 1437.1,217.4 1425.5,201.9Z" fill="#fff" fill-opacity="0.55"/>
<path d="M1390.5,198 1409.9,201.9 1417.7,225.2 1433.2,248.4 1441,267.9 1429.3,264 1417.7,244.6 1406.1,229 1394.4,213.5Z" fill="#fff" fill-opacity="0.55"/>
<path d="M1355.6,93.2 1375,89.3 1378.9,104.8 1367.2,116.5 1359.5,124.2 1351.7,116.5Z" fill="#fff" fill-opacity="0.55"/>
<path d="M1142.1,462 1153.7,465.8 1157.6,481.4 1149.8,483.3 1142.1,473.6Z" fill="#fff" fill-opacity="0.55"/>
<path d="M1295.4,97 1310.9,93.2 1309,100.2 1297.4,104Z" fill="#fff" fill-opacity="0.55"/>
<path d="M1411.9,112.6 1433.2,99 1437.1,104 1417.7,118.4Z" fill="#fff" fill-opacity="0.55"/>
<path d="M1783.4,163 1810.6,155.3 1830,159.2 1810.6,166.9 1787.3,170.8Z" fill="#fff" fill-opacity="0.55"/>
<path d="M1942.5,194.1 1954.2,190.2 1958.1,205.7 1946.4,211.6Z" fill="#fff" fill-opacity="0.55"/>
<g clip-path="url(#landclip)">
</g>
<path d="M994,669h5v4h-5zM1800,746h13v4h-13zM1826,746h8v4h-8zM1804,750h22v4h-22zM1830,750h9v4h-9zM1813,754h17v5h-17zM1059,759h4v4h-4zM1089,759h4v4h-4zM1097,759h4v4h-4zM1119,759h4v4h-4zM1804,759h13v4h-13zM1821,759h22v4h-22zM1101,763h5v4h-5zM1804,763h5v4h-5zM1813,763h8v4h-8zM1826,763h4v4h-4zM1839,763h4v4h-4zM1101,767h5v4h-5zM1804,767h5v4h-5zM1813,767h13v4h-13zM1834,767h5v4h-5zM1843,767h8v4h-8zM1804,771h26v5h-26zM1834,771h9v5h-9zM1847,771h4v5h-4zM1804,776h17v4h-17zM1826,776h4v4h-4zM1834,776h13v4h-13zM1851,776h5v4h-5zM1804,780h13v4h-13zM1830,780h4v4h-4zM1839,780h4v4h-4zM1847,780h4v4h-4zM1800,784h13v5h-13zM1817,784h4v5h-4zM1834,784h17v5h-17zM1800,789h26v4h-26zM1830,789h13v4h-13zM1847,789h4v4h-4zM1809,793h8v4h-8zM1826,793h21v4h-21zM1851,793h5v4h-5zM1804,797h22v4h-22zM1830,797h4v4h-4zM1839,797h17v4h-17zM1157,801h4v5h-4zM1809,801h4v5h-4zM1817,801h13v5h-13zM1839,801h4v5h-4zM1847,801h13v5h-13zM1813,806h17v4h-17zM1834,806h17v4h-17zM1860,806h4v4h-4zM1817,810h30v4h-30zM1067,814h9v5h-9zM1826,814h21v5h-21zM1856,814h4v5h-4zM1873,814h4v5h-4zM1924,814h5v5h-5zM1821,819h5v4h-5zM1830,819h4v4h-4zM1847,819h4v4h-4zM1873,819h4v4h-4zM1826,823h21v4h-21zM1856,823h4v4h-4zM1933,823h4v4h-4zM1834,827h13v4h-13zM1864,827h5v4h-5zM1423,831h4v5h-4zM1436,831h4v5h-4zM1839,831h4v5h-4zM1847,831h4v5h-4zM1864,831h5v5h-5zM1873,831h4v5h-4zM1397,836h4v4h-4zM1843,836h8v4h-8zM1856,836h4v4h-4zM1864,836h9v4h-9zM1410,840h4v4h-4zM1419,840h4v4h-4zM1427,840h4v4h-4zM1449,840h4v4h-4zM1839,840h4v4h-4zM1851,840h13v4h-13zM1869,840h8v4h-8zM1457,844h4v5h-4zM1843,844h21v5h-21zM1869,844h4v5h-4zM1444,849h5v4h-5zM1453,849h4v4h-4zM1474,849h5v4h-5zM1860,849h4v4h-4zM1140,853h4v4h-4zM1183,853h4v4h-4zM1457,853h4v4h-4zM1466,853h4v4h-4zM1856,853h8v4h-8zM1873,853h4v4h-4zM1410,861h4v5h-4zM1851,861h13v5h-13zM1920,861h4v5h-4zM1410,866h4v4h-4zM1410,870h9v4h-9zM1431,870h5v4h-5zM1440,870h9v4h-9zM1453,870h4v4h-4zM1860,870h4v4h-4zM1423,874h4v5h-4zM1436,874h13v5h-13zM1847,874h4v5h-4zM1410,879h4v4h-4zM1419,879h12v4h-12zM1436,879h17v4h-17zM1989,879h4v4h-4zM1119,883h4v4h-4zM1419,883h4v4h-4zM1427,883h4v4h-4zM1440,883h17v4h-17zM1933,883h4v4h-4zM1989,883h4v4h-4zM1431,887h22v4h-22zM1423,891h8v5h-8zM1440,891h4v5h-4zM1449,891h4v5h-4zM1937,891h4v5h-4zM1423,896h8v4h-8zM1436,896h21v4h-21zM1423,900h13v4h-13zM1440,900h4v4h-4zM1449,900h8v4h-8zM1984,900h5v4h-5zM1997,900h4v4h-4zM1427,904h17v5h-17zM1453,904h8v5h-8zM1419,909h4v4h-4zM1427,909h4v4h-4zM1440,909h13v4h-13zM1457,909h4v4h-4zM1869,909h4v4h-4zM1431,913h18v4h-18zM1453,913h4v4h-4zM1401,917h9v4h-9zM1440,917h4v4h-4zM1449,917h8v4h-8zM1890,917h4v4h-4zM1401,921h5v5h-5zM1423,921h21v5h-21zM1449,921h8v5h-8zM1419,926h4v4h-4zM1427,926h17v4h-17zM1449,926h4v4h-4zM1457,926h4v4h-4zM1907,926h4v4h-4zM1916,926h4v4h-4zM1924,926h5v4h-5zM1264,930h5v4h-5zM1401,930h5v4h-5zM1427,930h4v4h-4zM1436,930h8v4h-8zM1449,930h8v4h-8zM1423,934h4v5h-4zM1431,934h5v5h-5zM1440,934h13v5h-13zM1457,934h9v5h-9zM1393,939h8v4h-8zM1406,939h4v4h-4zM1427,939h13v4h-13zM1444,939h9v4h-9zM1457,939h4v4h-4zM1431,943h30v4h-30zM1269,947h4v4h-4zM1431,947h35v4h-35zM1431,951h43v5h-43zM1689,951h4v5h-4zM1719,951h4v5h-4zM2040,951h4v5h-4zM2049,951h8v5h-8zM1436,956h43v4h-43zM1667,956h13v4h-13zM1684,956h13v4h-13zM1710,956h4v4h-4zM1719,956h4v4h-4zM2049,956h8v4h-8zM1436,960h38v4h-38zM1663,960h30v4h-30zM1706,960h4v4h-4zM1924,960h5v4h-5zM1436,964h43v5h-43zM1641,964h5v5h-5zM1650,964h4v5h-4zM1659,964h34v5h-34zM1727,964h4v5h-4zM1436,969h4v4h-4zM1444,969h30v4h-30zM1641,969h52v4h-52zM1697,969h4v4h-4zM1449,973h30v4h-30zM1637,973h17v4h-17zM1663,973h34v4h-34zM1727,973h9v4h-9zM1449,977h34v4h-34zM1637,977h22v4h-22zM1663,977h17v4h-17zM1684,977h17v4h-17zM1269,981h4v5h-4zM1449,981h34v5h-34zM1641,981h48v5h-48zM2100,981h9v5h-9zM1457,986h30v4h-30zM1637,986h39v4h-39zM1680,986h4v4h-4zM2053,986h17v4h-17zM2074,986h5v4h-5zM2087,986h17v4h-17zM2109,986h4v4h-4zM2121,986h5v4h-5zM1457,990h30v4h-30zM1637,990h43v4h-43zM2049,990h4v4h-4zM2061,990h9v4h-9zM2083,990h4v4h-4zM2091,990h5v4h-5zM2109,990h4v4h-4zM1466,994h25v5h-25zM1633,994h43v5h-43zM2049,994h8v5h-8zM2066,994h4v5h-4zM2091,994h9v5h-9zM2104,994h5v5h-5zM2117,994h4v5h-4zM2134,994h5v5h-5zM1466,999h4v4h-4zM1474,999h17v4h-17zM1629,999h4v4h-4zM1637,999h34v4h-34zM2061,999h5v4h-5zM2070,999h4v4h-4zM2083,999h4v4h-4zM2091,999h5v4h-5zM2134,999h5v4h-5zM1277,1003h4v4h-4zM1474,1003h22v4h-22zM1633,1003h38v4h-38zM2061,1003h5v4h-5zM2070,1003h4v4h-4zM2079,1003h4v4h-4zM2091,1003h5v4h-5zM2104,1003h5v4h-5zM2160,1003h4v4h-4zM1479,1007h17v4h-17zM1633,1007h38v4h-38zM1706,1007h4v4h-4zM2066,1007h8v4h-8zM2096,1007h4v4h-4zM2130,1007h4v4h-4zM1483,1011h17v5h-17zM1629,1011h47v5h-47zM1714,1011h5v5h-5zM2079,1011h8v5h-8zM1444,1016h5v4h-5zM1466,1016h4v4h-4zM1483,1016h26v4h-26zM1629,1016h34v4h-34zM1697,1016h4v4h-4zM1714,1016h5v4h-5zM2070,1016h9v4h-9zM2083,1016h8v4h-8zM1303,1020h4v4h-4zM1479,1020h4v4h-4zM1487,1020h22v4h-22zM1620,1020h43v4h-43zM2036,1020h4v4h-4zM2044,1020h13v4h-13zM2061,1020h9v4h-9zM2096,1020h4v4h-4zM2126,1020h8v4h-8zM2139,1020h4v4h-4zM2211,1020h18v4h-18zM1483,1024h21v5h-21zM1594,1024h5v5h-5zM1611,1024h52v5h-52zM2031,1024h5v5h-5zM2053,1024h4v5h-4zM2066,1024h13v5h-13zM2083,1024h4v5h-4zM2126,1024h4v5h-4zM2173,1024h4v5h-4zM2203,1024h4v5h-4zM2220,1024h9v5h-9zM1483,1029h17v4h-17zM1504,1029h9v4h-9zM1517,1029h9v4h-9zM1530,1029h4v4h-4zM1581,1029h5v4h-5zM1590,1029h9v4h-9zM1603,1029h60v4h-60zM1676,1029h8v4h-8zM2036,1029h4v4h-4zM2070,1029h4v4h-4zM2203,1029h8v4h-8zM2327,1029h4v4h-4zM1483,1033h17v4h-17zM1504,1033h5v4h-5zM1513,1033h26v4h-26zM1573,1033h4v4h-4zM1581,1033h78v4h-78zM1676,1033h4v4h-4zM2096,1033h4v4h-4zM2109,1033h4v4h-4zM2207,1033h9v4h-9zM1487,1037h13v4h-13zM1521,1037h22v4h-22zM1547,1037h9v4h-9zM1560,1037h9v4h-9zM1573,1037h77v4h-77zM1659,1037h4v4h-4zM1667,1037h4v4h-4zM1676,1037h17v4h-17zM1706,1037h4v4h-4zM2096,1037h4v4h-4zM1329,1041h4v5h-4zM1487,1041h13v5h-13zM1513,1041h4v5h-4zM1521,1041h22v5h-22zM1547,1041h99v5h-99zM1671,1041h22v5h-22zM1341,1046h5v4h-5zM1491,1046h155v4h-155zM1667,1046h26v4h-26zM1496,1050h154v4h-154zM1659,1050h4v4h-4zM1667,1050h22v4h-22zM1701,1050h5v4h-5zM1496,1054h150v5h-150zM1667,1054h22v5h-22zM1367,1059h4v4h-4zM1504,1059h146v4h-146zM1667,1059h26v4h-26zM1513,1063h26v4h-26zM1543,1063h4v4h-4zM1551,1063h9v4h-9zM1564,1063h9v4h-9zM1577,1063h4v4h-4zM1586,1063h4v4h-4zM1603,1063h94v4h-94zM1517,1067h17v4h-17zM1543,1067h17v4h-17zM1564,1067h5v4h-5zM1581,1067h5v4h-5zM1590,1067h4v4h-4zM1603,1067h4v4h-4zM1616,1067h81v4h-81zM2340,1067h4v4h-4zM1521,1071h26v5h-26zM1551,1071h9v5h-9zM1564,1071h9v5h-9zM1603,1071h4v5h-4zM1611,1071h82v5h-82zM1406,1076h4v4h-4zM1440,1076h9v4h-9zM1453,1076h4v4h-4zM1521,1076h13v4h-13zM1539,1076h8v4h-8zM1551,1076h5v4h-5zM1560,1076h13v4h-13zM1603,1076h4v4h-4zM1611,1076h5v4h-5zM1620,1076h73v4h-73zM1414,1080h5v4h-5zM1431,1080h26v4h-26zM1517,1080h9v4h-9zM1530,1080h4v4h-4zM1539,1080h8v4h-8zM1551,1080h9v4h-9zM1620,1080h69v4h-69zM1693,1080h8v4h-8zM1431,1084h26v5h-26zM1513,1084h4v5h-4zM1526,1084h4v5h-4zM1534,1084h13v5h-13zM1616,1084h77v5h-77zM2349,1084h4v5h-4zM1436,1089h25v4h-25zM1513,1089h8v4h-8zM1534,1089h5v4h-5zM1620,1089h69v4h-69zM1453,1093h13v4h-13zM1513,1093h4v4h-4zM1526,1093h4v4h-4zM1620,1093h64v4h-64zM1689,1093h4v4h-4zM2349,1093h4v4h-4zM1457,1097h26v4h-26zM1517,1097h9v4h-9zM1620,1097h64v4h-64zM1689,1097h4v4h-4zM1727,1097h4v4h-4zM1744,1097h22v4h-22zM1770,1097h4v4h-4zM1783,1097h4v4h-4zM1466,1101h21v5h-21zM1496,1101h21v5h-21zM1624,1101h73v5h-73zM1706,1101h21v5h-21zM1736,1101h8v5h-8zM1787,1101h4v5h-4zM1487,1106h4v4h-4zM1496,1106h4v4h-4zM1504,1106h5v4h-5zM1577,1106h4v4h-4zM1624,1106h5v4h-5zM1659,1106h38v4h-38zM1800,1106h4v4h-4zM1813,1106h4v4h-4zM2361,1106h5v4h-5zM1667,1110h4v4h-4zM1676,1110h13v4h-13zM1817,1110h4v4h-4zM2361,1110h5v4h-5zM1671,1114h9v5h-9zM1817,1114h9v5h-9zM1671,1119h5v4h-5zM2361,1131h5v5h-5zM1813,1136h4v4h-4zM1813,1140h8v4h-8zM1809,1144h4v5h-4zM2396,1144h4v5h-4zM1624,1149h5v4h-5zM1804,1149h5v4h-5zM1817,1149h9v4h-9zM2357,1149h9v4h-9zM1650,1153h4v4h-4zM1796,1153h4v4h-4zM1809,1153h4v4h-4zM1791,1157h9v4h-9zM1809,1157h4v4h-4zM1817,1157h4v4h-4zM1791,1161h9v5h-9zM1804,1161h5v5h-5zM1684,1166h5v4h-5zM1791,1166h5v4h-5zM1800,1166h4v4h-4zM1813,1166h4v4h-4zM1791,1170h9v4h-9zM1804,1170h13v4h-13zM1787,1174h22v5h-22zM1813,1174h8v5h-8zM2353,1174h4v5h-4zM1783,1179h17v4h-17zM1804,1179h9v4h-9zM2349,1179h4v4h-4zM1779,1183h8v4h-8zM1800,1183h4v4h-4zM1809,1183h4v4h-4zM1783,1187h8v4h-8zM1796,1187h8v4h-8zM1779,1191h8v5h-8zM1796,1191h4v5h-4zM1736,1196h8v4h-8zM1779,1196h17v4h-17zM1800,1196h9v4h-9zM1813,1196h4v4h-4zM1744,1200h9v4h-9zM1779,1200h30v4h-30zM1779,1204h4v5h-4zM1787,1204h9v5h-9zM1800,1204h4v5h-4zM1809,1204h4v5h-4zM1749,1209h8v4h-8zM1783,1209h17v4h-17zM2293,1209h4v4h-4zM1757,1213h4v4h-4zM1796,1213h4v4h-4zM1804,1213h17v4h-17zM2366,1213h4v4h-4zM2374,1213h5v4h-5zM1761,1217h13v4h-13zM1809,1217h8v4h-8zM2070,1217h4v4h-4zM2323,1217h13v4h-13zM2361,1217h5v4h-5zM1761,1221h13v5h-13zM2070,1221h4v5h-4zM2156,1221h4v5h-4zM2203,1221h4v5h-4zM2340,1221h4v5h-4zM2370,1221h13v5h-13zM1757,1226h26v4h-26zM2070,1226h4v4h-4zM2143,1226h4v4h-4zM2164,1226h5v4h-5zM2379,1226h4v4h-4zM1761,1230h9v4h-9zM1774,1230h5v4h-5zM1809,1230h12v4h-12zM2061,1230h13v4h-13zM2139,1230h4v4h-4zM2151,1230h5v4h-5zM2160,1230h4v4h-4zM2173,1230h4v4h-4zM2327,1230h4v4h-4zM2340,1230h4v4h-4zM2361,1230h5v4h-5zM1761,1234h5v5h-5zM1770,1234h4v5h-4zM1779,1234h4v5h-4zM1821,1234h5v5h-5zM2177,1234h4v5h-4zM2190,1234h4v5h-4zM2327,1234h4v5h-4zM2336,1234h4v5h-4zM1761,1239h9v4h-9zM1774,1239h5v4h-5zM1817,1239h4v4h-4zM2336,1239h4v4h-4zM1779,1243h12v4h-12zM1817,1243h13v4h-13zM2156,1243h4v4h-4zM2186,1243h8v4h-8zM2357,1243h4v4h-4zM2366,1243h4v4h-4zM1766,1247h4v4h-4zM1779,1247h4v4h-4zM1787,1247h9v4h-9zM1826,1247h4v4h-4zM1834,1247h5v4h-5zM2169,1247h4v4h-4zM2199,1247h4v4h-4zM2366,1247h4v4h-4zM1770,1251h4v5h-4zM1779,1251h4v5h-4zM1787,1251h9v5h-9zM1830,1251h4v5h-4zM2160,1251h4v5h-4zM2357,1251h4v5h-4zM2370,1251h4v5h-4zM2379,1251h4v5h-4zM1774,1256h5v4h-5zM1783,1256h8v4h-8zM1796,1256h8v4h-8zM1839,1256h8v4h-8zM2173,1256h4v4h-4zM2181,1256h5v4h-5zM2301,1256h5v4h-5zM2366,1256h4v4h-4zM1783,1260h8v4h-8zM1796,1260h8v4h-8zM2164,1260h5v4h-5zM2173,1260h4v4h-4zM2370,1260h4v4h-4zM2250,1264h4v5h-4zM2357,1264h4v5h-4zM2366,1264h4v5h-4zM2374,1264h5v5h-5zM1899,1269h12v4h-12zM2199,1269h4v4h-4zM2284,1269h5v4h-5zM2344,1269h5v4h-5zM1877,1273h4v4h-4zM1899,1273h12v4h-12zM2186,1273h4v4h-4zM2233,1273h4v4h-4zM2259,1273h8v4h-8zM2271,1273h5v4h-5zM2289,1273h4v4h-4zM2349,1273h4v4h-4zM1817,1277h13v4h-13zM1881,1277h9v4h-9zM1894,1277h17v4h-17zM2314,1277h9v4h-9zM2331,1277h9v4h-9zM2349,1277h4v4h-4zM1817,1281h4v5h-4zM1826,1281h8v5h-8zM1894,1281h17v5h-17zM2186,1281h4v5h-4zM2194,1281h9v5h-9zM2306,1281h8v5h-8zM2331,1281h5v5h-5zM1821,1286h5v4h-5zM1830,1286h4v4h-4zM1839,1286h12v4h-12zM1886,1286h21v4h-21zM2246,1286h4v4h-4zM2293,1286h13v4h-13zM2327,1286h4v4h-4zM1830,1290h4v4h-4zM1847,1290h4v4h-4zM1856,1290h4v4h-4zM1881,1290h5v4h-5zM1890,1290h9v4h-9zM1907,1290h4v4h-4zM2190,1290h4v4h-4zM2211,1290h5v4h-5zM2284,1290h5v4h-5zM2306,1290h4v4h-4zM2319,1290h4v4h-4zM2327,1290h13v4h-13zM1839,1294h8v5h-8zM1873,1294h34v5h-34zM2147,1294h4v5h-4zM2203,1294h8v5h-8zM2237,1294h4v5h-4zM2263,1294h13v5h-13zM2280,1294h13v5h-13zM2297,1294h4v5h-4zM2327,1294h13v5h-13zM1873,1299h8v4h-8zM1886,1299h13v4h-13zM1903,1299h4v4h-4zM2126,1299h4v4h-4zM2147,1299h4v4h-4zM2246,1299h4v4h-4zM2259,1299h4v4h-4zM2280,1299h9v4h-9zM2306,1299h8v4h-8zM2323,1299h4v4h-4zM2331,1299h5v4h-5zM1886,1303h25v4h-25zM2117,1303h4v4h-4zM2139,1303h4v4h-4zM2147,1303h4v4h-4zM2237,1303h4v4h-4zM2250,1303h17v4h-17zM2271,1303h5v4h-5zM2280,1303h17v4h-17zM2301,1303h5v4h-5zM2323,1303h4v4h-4zM1886,1307h13v4h-13zM1903,1307h4v4h-4zM2014,1307h9v4h-9zM2027,1307h4v4h-4zM2139,1307h4v4h-4zM2233,1307h8v4h-8zM2254,1307h22v4h-22zM2280,1307h4v4h-4zM2289,1307h8v4h-8zM2301,1307h5v4h-5zM2314,1307h5v4h-5zM2336,1307h4v4h-4zM1864,1311h5v5h-5zM1886,1311h13v5h-13zM2014,1311h5v5h-5zM2113,1311h4v5h-4zM2139,1311h4v5h-4zM2229,1311h21v5h-21zM2254,1311h17v5h-17zM2276,1311h8v5h-8zM2293,1311h4v5h-4zM2306,1311h8v5h-8zM2319,1311h4v5h-4zM2340,1311h4v5h-4zM1890,1316h4v4h-4zM2031,1316h5v4h-5zM2083,1316h4v4h-4zM2134,1316h5v4h-5zM2229,1316h4v4h-4zM2237,1316h30v4h-30zM2271,1316h18v4h-18zM2293,1316h4v4h-4zM2306,1316h4v4h-4zM2314,1316h9v4h-9zM2331,1316h9v4h-9zM2027,1320h9v4h-9zM2079,1320h8v4h-8zM2113,1320h4v4h-4zM2126,1320h4v4h-4zM2190,1320h4v4h-4zM2207,1320h4v4h-4zM2229,1320h17v4h-17zM2250,1320h30v4h-30zM2284,1320h17v4h-17zM2310,1320h9v4h-9zM2331,1320h5v4h-5zM2409,1320h8v4h-8zM2426,1320h4v4h-4zM2036,1324h4v5h-4zM2070,1324h9v5h-9zM2087,1324h4v5h-4zM2224,1324h26v5h-26zM2254,1324h22v5h-22zM2280,1324h17v5h-17zM2306,1324h4v5h-4zM2323,1324h4v5h-4zM2400,1324h4v5h-4zM2006,1329h8v4h-8zM2117,1329h4v4h-4zM2224,1329h17v4h-17zM2246,1329h4v4h-4zM2263,1329h4v4h-4zM2271,1329h5v4h-5zM2280,1329h4v4h-4zM2289,1329h8v4h-8zM2306,1329h4v4h-4zM2327,1329h4v4h-4zM2040,1333h4v4h-4zM2113,1333h4v4h-4zM2126,1333h8v4h-8zM2233,1333h4v4h-4zM2241,1333h13v4h-13zM2271,1333h5v4h-5zM2280,1333h9v4h-9zM2310,1333h9v4h-9zM2331,1333h5v4h-5zM2036,1337h4v4h-4zM2113,1337h4v4h-4zM2121,1337h5v4h-5zM2216,1337h4v4h-4zM2224,1337h13v4h-13zM2241,1337h9v4h-9zM2259,1337h4v4h-4zM2267,1337h13v4h-13zM2284,1337h52v4h-52zM2340,1337h4v4h-4zM2460,1337h4v4h-4zM2006,1341h4v5h-4zM2014,1341h5v5h-5zM2040,1341h4v5h-4zM2177,1341h4v5h-4zM2186,1341h4v5h-4zM2216,1341h4v5h-4zM2224,1341h13v5h-13zM2241,1341h9v5h-9zM2263,1341h4v5h-4zM2276,1341h4v5h-4zM2284,1341h47v5h-47zM2340,1341h4v5h-4zM2387,1341h4v5h-4zM2473,1341h4v5h-4zM2023,1346h8v4h-8zM2040,1346h4v4h-4zM2117,1346h4v4h-4zM2151,1346h5v4h-5zM2164,1346h5v4h-5zM2173,1346h8v4h-8zM2190,1346h9v4h-9zM2216,1346h8v4h-8zM2241,1346h5v4h-5zM2284,1346h5v4h-5zM2293,1346h47v4h-47zM2361,1346h5v4h-5zM2031,1350h9v4h-9zM2177,1350h4v4h-4zM2199,1350h4v4h-4zM2211,1350h5v4h-5zM2220,1350h9v4h-9zM2246,1350h4v4h-4zM2297,1350h60v4h-60zM2361,1350h5v4h-5zM2031,1354h5v5h-5zM2040,1354h9v5h-9zM2053,1354h4v5h-4zM2109,1354h4v5h-4zM2139,1354h4v5h-4zM2151,1354h5v5h-5zM2169,1354h12v5h-12zM2199,1354h8v5h-8zM2246,1354h4v5h-4zM2293,1354h68v5h-68zM2370,1354h9v5h-9zM2511,1354h5v5h-5zM2567,1354h4v5h-4zM2019,1359h4v4h-4zM2040,1359h4v4h-4zM2049,1359h4v4h-4zM2079,1359h4v4h-4zM2109,1359h4v4h-4zM2177,1359h4v4h-4zM2186,1359h4v4h-4zM2194,1359h9v4h-9zM2207,1359h13v4h-13zM2224,1359h5v4h-5zM2267,1359h4v4h-4zM2297,1359h4v4h-4zM2306,1359h47v4h-47zM2361,1359h9v4h-9zM2383,1359h4v4h-4zM2023,1363h4v4h-4zM2031,1363h9v4h-9zM2057,1363h4v4h-4zM2074,1363h5v4h-5zM2100,1363h4v4h-4zM2199,1363h8v4h-8zM2211,1363h5v4h-5zM2224,1363h5v4h-5zM2250,1363h4v4h-4zM2293,1363h4v4h-4zM2310,1363h26v4h-26zM2340,1363h26v4h-26zM2370,1363h4v4h-4zM2383,1363h8v4h-8zM2396,1363h4v4h-4zM2404,1363h5v4h-5zM2417,1363h4v4h-4zM2559,1363h4v4h-4zM2014,1367h13v4h-13zM2151,1367h5v4h-5zM2169,1367h4v4h-4zM2181,1367h13v4h-13zM2203,1367h4v4h-4zM2229,1367h4v4h-4zM2237,1367h9v4h-9zM2250,1367h4v4h-4zM2306,1367h4v4h-4zM2314,1367h52v4h-52zM2370,1367h9v4h-9zM2383,1367h8v4h-8zM2396,1367h4v4h-4zM2413,1367h4v4h-4zM2584,1367h5v4h-5zM2593,1367h4v4h-4zM2006,1371h17v5h-17zM2049,1371h4v5h-4zM2091,1371h5v5h-5zM2147,1371h4v5h-4zM2160,1371h4v5h-4zM2173,1371h8v5h-8zM2194,1371h5v5h-5zM2216,1371h8v5h-8zM2246,1371h4v5h-4zM2319,1371h21v5h-21zM2344,1371h13v5h-13zM2361,1371h5v5h-5zM2370,1371h9v5h-9zM2383,1371h4v5h-4zM2413,1371h4v5h-4zM2580,1371h4v5h-4zM2001,1376h5v4h-5zM2023,1376h8v4h-8zM2087,1376h4v4h-4zM2139,1376h4v4h-4zM2160,1376h4v4h-4zM2169,1376h4v4h-4zM2181,1376h5v4h-5zM2190,1376h4v4h-4zM2203,1376h8v4h-8zM2246,1376h4v4h-4zM2314,1376h52v4h-52zM2370,1376h17v4h-17zM2391,1376h5v4h-5zM2511,1376h5v4h-5zM2584,1376h5v4h-5zM2001,1380h22v4h-22zM2070,1380h4v4h-4zM2156,1380h4v4h-4zM2199,1380h8v4h-8zM2224,1380h5v4h-5zM2233,1380h8v4h-8zM2246,1380h4v4h-4zM2314,1380h52v4h-52zM2374,1380h13v4h-13zM2404,1380h5v4h-5zM2001,1384h5v5h-5zM2010,1384h21v5h-21zM2091,1384h5v5h-5zM2126,1384h8v5h-8zM2151,1384h5v5h-5zM2177,1384h4v5h-4zM2194,1384h5v5h-5zM2203,1384h13v5h-13zM2224,1384h5v5h-5zM2250,1384h4v5h-4zM2327,1384h39v5h-39zM2370,1384h4v5h-4zM2383,1384h4v5h-4zM2559,1384h4v5h-4zM2001,1389h5v4h-5zM2027,1389h4v4h-4zM2066,1389h4v4h-4zM2074,1389h5v4h-5zM2117,1389h4v4h-4zM2126,1389h4v4h-4zM2139,1389h12v4h-12zM2216,1389h4v4h-4zM2229,1389h4v4h-4zM2327,1389h34v4h-34zM2366,1389h4v4h-4zM2374,1389h5v4h-5zM2417,1389h4v4h-4zM2503,1389h4v4h-4zM1997,1393h13v4h-13zM2019,1393h4v4h-4zM2066,1393h25v4h-25zM2113,1393h4v4h-4zM2121,1393h5v4h-5zM2134,1393h5v4h-5zM2207,1393h13v4h-13zM2224,1393h5v4h-5zM2323,1393h26v4h-26zM2353,1393h13v4h-13zM2409,1393h4v4h-4zM1997,1397h13v4h-13zM2023,1397h4v4h-4zM2070,1397h13v4h-13zM2104,1397h5v4h-5zM2130,1397h9v4h-9zM2186,1397h4v4h-4zM2194,1397h5v4h-5zM2237,1397h9v4h-9zM2323,1397h26v4h-26zM2353,1397h4v4h-4zM2361,1397h5v4h-5zM2391,1397h5v4h-5zM2404,1397h13v4h-13zM1989,1401h4v5h-4zM1997,1401h4v5h-4zM2070,1401h4v5h-4zM2087,1401h9v5h-9zM2100,1401h4v5h-4zM2109,1401h8v5h-8zM2186,1401h4v5h-4zM2207,1401h4v5h-4zM2216,1401h4v5h-4zM2233,1401h8v5h-8zM2246,1401h4v5h-4zM2327,1401h34v5h-34zM2366,1401h4v5h-4zM2404,1401h5v5h-5zM1989,1406h8v4h-8zM2001,1406h9v4h-9zM2031,1406h5v4h-5zM2066,1406h30v4h-30zM2121,1406h5v4h-5zM2229,1406h4v4h-4zM2237,1406h4v4h-4zM2250,1406h4v4h-4zM2323,1406h51v4h-51zM2469,1406h4v4h-4zM2499,1406h4v4h-4zM1993,1410h4v4h-4zM2001,1410h5v4h-5zM2019,1410h4v4h-4zM2066,1410h4v4h-4zM2079,1410h21v4h-21zM2194,1410h5v4h-5zM2207,1410h4v4h-4zM2224,1410h5v4h-5zM2233,1410h4v4h-4zM2327,1410h4v4h-4zM2340,1410h21v4h-21zM2370,1410h4v4h-4zM2533,1410h4v4h-4zM2567,1410h4v4h-4zM1984,1414h5v5h-5zM1993,1414h4v5h-4zM2010,1414h4v5h-4zM2019,1414h4v5h-4zM2066,1414h8v5h-8zM2079,1414h12v5h-12zM2100,1414h4v5h-4zM2190,1414h9v5h-9zM2246,1414h4v5h-4zM2331,1414h13v5h-13zM2349,1414h12v5h-12zM2580,1414h4v5h-4zM1993,1419h13v4h-13zM2019,1419h4v4h-4zM2061,1419h18v4h-18zM2083,1419h8v4h-8zM2211,1419h5v4h-5zM2246,1419h8v4h-8zM2340,1419h4v4h-4zM2349,1419h8v4h-8zM2366,1419h4v4h-4zM2460,1419h4v4h-4zM1976,1423h13v4h-13zM2001,1423h9v4h-9zM2057,1423h4v4h-4zM2066,1423h8v4h-8zM2087,1423h4v4h-4zM2186,1423h4v4h-4zM2211,1423h5v4h-5zM2331,1423h9v4h-9zM2344,1423h9v4h-9zM2357,1423h9v4h-9zM2516,1423h4v4h-4zM2619,1423h4v4h-4zM2057,1427h9v4h-9zM2220,1427h9v4h-9zM2233,1427h4v4h-4zM2250,1427h4v4h-4zM2331,1427h5v4h-5zM2344,1427h5v4h-5zM2353,1427h4v4h-4zM2366,1427h4v4h-4zM2486,1427h4v4h-4zM1993,1431h8v5h-8zM2203,1431h17v5h-17zM2237,1431h4v5h-4zM2259,1431h4v5h-4zM2336,1431h13v5h-13zM2353,1431h4v5h-4zM2494,1431h5v5h-5zM1976,1436h4v4h-4zM1993,1436h13v4h-13zM2070,1436h4v4h-4zM2139,1436h4v4h-4zM2207,1436h9v4h-9zM2220,1436h9v4h-9zM2233,1436h8v4h-8zM2246,1436h4v4h-4zM2336,1436h25v4h-25zM2391,1436h5v4h-5zM2443,1436h4v4h-4zM2610,1436h4v4h-4zM1971,1440h5v4h-5zM2010,1440h9v4h-9zM2049,1440h4v4h-4zM2066,1440h13v4h-13zM2087,1440h4v4h-4zM2173,1440h4v4h-4zM2186,1440h4v4h-4zM2194,1440h5v4h-5zM2349,1440h4v4h-4zM2357,1440h4v4h-4zM1971,1444h5v5h-5zM1993,1444h4v5h-4zM2036,1444h8v5h-8zM2049,1444h12v5h-12zM2079,1444h4v5h-4zM2151,1444h5v5h-5zM2160,1444h4v5h-4zM2186,1444h8v5h-8zM2199,1444h4v5h-4zM2211,1444h5v5h-5zM2229,1444h8v5h-8zM2263,1444h4v5h-4zM2327,1444h4v5h-4zM2524,1444h5v5h-5zM2541,1444h5v5h-5zM2559,1444h4v5h-4zM2606,1444h4v5h-4zM1971,1449h5v4h-5zM1980,1449h4v4h-4zM1989,1449h4v4h-4zM2036,1449h4v4h-4zM2049,1449h4v4h-4zM2066,1449h4v4h-4zM2121,1449h5v4h-5zM2147,1449h4v4h-4zM2169,1449h4v4h-4zM2186,1449h8v4h-8zM2229,1449h8v4h-8zM2246,1449h8v4h-8zM2490,1449h4v4h-4zM1976,1453h8v4h-8zM2027,1453h4v4h-4zM2079,1453h4v4h-4zM2096,1453h4v4h-4zM2130,1453h4v4h-4zM2139,1453h8v4h-8zM2173,1453h13v4h-13zM2190,1453h4v4h-4zM2237,1453h4v4h-4zM2246,1453h4v4h-4zM2323,1453h8v4h-8zM2340,1453h4v4h-4zM2546,1453h4v4h-4zM2619,1453h4v4h-4zM1976,1457h8v4h-8zM2019,1457h4v4h-4zM2027,1457h4v4h-4zM2036,1457h8v4h-8zM2156,1457h8v4h-8zM2173,1457h4v4h-4zM2186,1457h4v4h-4zM2194,1457h9v4h-9zM2233,1457h4v4h-4zM2263,1457h13v4h-13zM2327,1457h9v4h-9zM2349,1457h4v4h-4zM1976,1461h4v5h-4zM2027,1461h4v5h-4zM2044,1461h5v5h-5zM2100,1461h4v5h-4zM2151,1461h5v5h-5zM2169,1461h4v5h-4zM2177,1461h4v5h-4zM2233,1461h4v5h-4zM2246,1461h4v5h-4zM2267,1461h4v5h-4zM2323,1461h17v5h-17zM2379,1461h4v5h-4zM2507,1461h4v5h-4zM2576,1461h4v5h-4zM1950,1466h4v4h-4zM2027,1466h4v4h-4zM2109,1466h4v4h-4zM2134,1466h5v4h-5zM2160,1466h4v4h-4zM2194,1466h5v4h-5zM2203,1466h4v4h-4zM2216,1466h4v4h-4zM2250,1466h4v4h-4zM2319,1466h21v4h-21zM2353,1466h4v4h-4zM2370,1466h9v4h-9zM2383,1466h4v4h-4zM1946,1470h4v4h-4zM2014,1470h5v4h-5zM2023,1470h4v4h-4zM2160,1470h9v4h-9zM2194,1470h5v4h-5zM2207,1470h4v4h-4zM2224,1470h9v4h-9zM2237,1470h4v4h-4zM2250,1470h4v4h-4zM2306,1470h34v4h-34zM2349,1470h4v4h-4zM2366,1470h4v4h-4zM2379,1470h8v4h-8zM1937,1474h9v5h-9zM1950,1474h4v5h-4zM2006,1474h8v5h-8zM2169,1474h4v5h-4zM2194,1474h5v5h-5zM2229,1474h8v5h-8zM2241,1474h5v5h-5zM2271,1474h18v5h-18zM2293,1474h4v5h-4zM2301,1474h48v5h-48zM2387,1474h4v5h-4zM2469,1474h4v5h-4zM2537,1474h4v5h-4zM1950,1479h4v4h-4zM2001,1479h5v4h-5zM2023,1479h4v4h-4zM2057,1479h4v4h-4zM2164,1479h5v4h-5zM2194,1479h5v4h-5zM2233,1479h4v4h-4zM2246,1479h8v4h-8zM2259,1479h4v4h-4zM2271,1479h9v4h-9zM2284,1479h22v4h-22zM2310,1479h13v4h-13zM2327,1479h69v4h-69zM1937,1483h4v4h-4zM1993,1483h8v4h-8zM2066,1483h4v4h-4zM2147,1483h4v4h-4zM2156,1483h4v4h-4zM2169,1483h12v4h-12zM2207,1483h4v4h-4zM2224,1483h5v4h-5zM2241,1483h9v4h-9zM2263,1483h8v4h-8zM2276,1483h30v4h-30zM2319,1483h8v4h-8zM2331,1483h52v4h-52zM2387,1483h4v4h-4zM2396,1483h13v4h-13zM2010,1487h4v4h-4zM2023,1487h4v4h-4zM2031,1487h5v4h-5zM2044,1487h5v4h-5zM2151,1487h5v4h-5zM2160,1487h9v4h-9zM2263,1487h4v4h-4zM2276,1487h17v4h-17zM2297,1487h17v4h-17zM2319,1487h4v4h-4zM2336,1487h60v4h-60zM2503,1487h4v4h-4zM1937,1491h4v5h-4zM1993,1491h13v5h-13zM2014,1491h9v5h-9zM2044,1491h5v5h-5zM2053,1491h4v5h-4zM2061,1491h5v5h-5zM2070,1491h4v5h-4zM2177,1491h9v5h-9zM2190,1491h4v5h-4zM2216,1491h4v5h-4zM2263,1491h26v5h-26zM2336,1491h4v5h-4zM2344,1491h56v5h-56zM1980,1496h17v4h-17zM2001,1496h5v4h-5zM2010,1496h9v4h-9zM2023,1496h8v4h-8zM2040,1496h9v4h-9zM2079,1496h4v4h-4zM2087,1496h4v4h-4zM2100,1496h4v4h-4zM2164,1496h5v4h-5zM2181,1496h5v4h-5zM2194,1496h5v4h-5zM2216,1496h4v4h-4zM2237,1496h4v4h-4zM2276,1496h21v4h-21zM2301,1496h5v4h-5zM2314,1496h5v4h-5zM2344,1496h5v4h-5zM2353,1496h47v4h-47zM2404,1496h5v4h-5zM2473,1496h4v4h-4zM2511,1496h5v4h-5zM1984,1500h35v4h-35zM2031,1500h5v4h-5zM2044,1500h5v4h-5zM2061,1500h5v4h-5zM2169,1500h4v4h-4zM2190,1500h4v4h-4zM2216,1500h4v4h-4zM2229,1500h4v4h-4zM2246,1500h4v4h-4zM2263,1500h26v4h-26zM2297,1500h4v4h-4zM2361,1500h35v4h-35zM2434,1500h5v4h-5zM2580,1500h4v4h-4zM1976,1504h4v5h-4zM1984,1504h30v5h-30zM2023,1504h13v5h-13zM2040,1504h4v5h-4zM2074,1504h5v5h-5zM2091,1504h5v5h-5zM2117,1504h4v5h-4zM2151,1504h5v5h-5zM2160,1504h9v5h-9zM2173,1504h4v5h-4zM2194,1504h5v5h-5zM2207,1504h4v5h-4zM2229,1504h4v5h-4zM2267,1504h17v5h-17zM2306,1504h4v5h-4zM2340,1504h9v5h-9zM2353,1504h8v5h-8zM2366,1504h30v5h-30zM2490,1504h4v5h-4zM2567,1504h4v5h-4zM1989,1509h51v4h-51zM2070,1509h4v4h-4zM2079,1509h4v4h-4zM2087,1509h4v4h-4zM2121,1509h5v4h-5zM2151,1509h5v4h-5zM2173,1509h4v4h-4zM2186,1509h4v4h-4zM2194,1509h5v4h-5zM2211,1509h9v4h-9zM2250,1509h4v4h-4zM2259,1509h4v4h-4zM2267,1509h4v4h-4zM2284,1509h5v4h-5zM2293,1509h4v4h-4zM2349,1509h42v4h-42zM2396,1509h8v4h-8zM2469,1509h4v4h-4zM1984,1513h52v4h-52zM2040,1513h4v4h-4zM2049,1513h4v4h-4zM2057,1513h4v4h-4zM2083,1513h4v4h-4zM2091,1513h5v4h-5zM2100,1513h9v4h-9zM2113,1513h4v4h-4zM2130,1513h4v4h-4zM2156,1513h8v4h-8zM2177,1513h4v4h-4zM2194,1513h5v4h-5zM2259,1513h12v4h-12zM2357,1513h9v4h-9zM2370,1513h30v4h-30zM2490,1513h4v4h-4zM1984,1517h73v4h-73zM2061,1517h5v4h-5zM2096,1517h8v4h-8zM2139,1517h4v4h-4zM2160,1517h4v4h-4zM2169,1517h4v4h-4zM2186,1517h8v4h-8zM2229,1517h4v4h-4zM2250,1517h4v4h-4zM2306,1517h4v4h-4zM2314,1517h5v4h-5zM2336,1517h4v4h-4zM2361,1517h9v4h-9zM2374,1517h26v4h-26zM1984,1521h69v5h-69zM2070,1521h4v5h-4zM2117,1521h4v5h-4zM2130,1521h4v5h-4zM2143,1521h4v5h-4zM2203,1521h4v5h-4zM2211,1521h5v5h-5zM2220,1521h4v5h-4zM2366,1521h4v5h-4zM2374,1521h22v5h-22zM2400,1521h4v5h-4zM1980,1526h4v4h-4zM1989,1526h64v4h-64zM2057,1526h9v4h-9zM2070,1526h4v4h-4zM2083,1526h17v4h-17zM2126,1526h4v4h-4zM2143,1526h4v4h-4zM2169,1526h8v4h-8zM2190,1526h4v4h-4zM2203,1526h4v4h-4zM2237,1526h4v4h-4zM2361,1526h13v4h-13zM2379,1526h30v4h-30zM1894,1530h5v4h-5zM1903,1530h4v4h-4zM1911,1530h5v4h-5zM1980,1530h94v4h-94zM2087,1530h4v4h-4zM2126,1530h4v4h-4zM2173,1530h4v4h-4zM2181,1530h5v4h-5zM2194,1530h5v4h-5zM2203,1530h4v4h-4zM2229,1530h17v4h-17zM2267,1530h9v4h-9zM2344,1530h5v4h-5zM2370,1530h34v4h-34zM2649,1530h8v4h-8zM1984,1534h77v5h-77zM2087,1534h4v5h-4zM2151,1534h5v5h-5zM2173,1534h4v5h-4zM2181,1534h5v5h-5zM2199,1534h4v5h-4zM2207,1534h4v5h-4zM2233,1534h4v5h-4zM2361,1534h5v5h-5zM2374,1534h26v5h-26zM2404,1534h9v5h-9zM2636,1534h4v5h-4zM2653,1534h4v5h-4zM1899,1539h4v4h-4zM1976,1539h4v4h-4zM1989,1539h94v4h-94zM2109,1539h4v4h-4zM2117,1539h4v4h-4zM2156,1539h4v4h-4zM2181,1539h9v4h-9zM2203,1539h4v4h-4zM2233,1539h4v4h-4zM2319,1539h4v4h-4zM2327,1539h4v4h-4zM2340,1539h4v4h-4zM2374,1539h5v4h-5zM2383,1539h17v4h-17zM2404,1539h5v4h-5zM2619,1539h8v4h-8zM2631,1539h5v4h-5zM2644,1539h5v4h-5zM2653,1539h4v4h-4zM1899,1543h4v4h-4zM1976,1543h4v4h-4zM1984,1543h95v4h-95zM2083,1543h8v4h-8zM2100,1543h4v4h-4zM2121,1543h5v4h-5zM2147,1543h4v4h-4zM2190,1543h9v4h-9zM2220,1543h4v4h-4zM2271,1543h5v4h-5zM2310,1543h4v4h-4zM2331,1543h5v4h-5zM2349,1543h4v4h-4zM2361,1543h5v4h-5zM2379,1543h25v4h-25zM2409,1543h4v4h-4zM2627,1543h9v4h-9zM2644,1543h5v4h-5zM2661,1543h5v4h-5zM1980,1547h107v4h-107zM2147,1547h4v4h-4zM2164,1547h5v4h-5zM2177,1547h9v4h-9zM2190,1547h9v4h-9zM2220,1547h4v4h-4zM2284,1547h5v4h-5zM2361,1547h5v4h-5zM2379,1547h4v4h-4zM2387,1547h22v4h-22zM2426,1547h4v4h-4zM2627,1547h4v4h-4zM2640,1547h4v4h-4zM2661,1547h5v4h-5zM1899,1551h4v5h-4zM1976,1551h107v5h-107zM2087,1551h4v5h-4zM2104,1551h5v5h-5zM2121,1551h9v5h-9zM2134,1551h5v5h-5zM2164,1551h9v5h-9zM2177,1551h4v5h-4zM2186,1551h4v5h-4zM2211,1551h5v5h-5zM2229,1551h4v5h-4zM2297,1551h4v5h-4zM2374,1551h5v5h-5zM2387,1551h30v5h-30zM2426,1551h4v5h-4zM2640,1551h17v5h-17zM2661,1551h5v5h-5zM1980,1556h111v4h-111zM2100,1556h17v4h-17zM2143,1556h8v4h-8zM2173,1556h4v4h-4zM2181,1556h5v4h-5zM2190,1556h4v4h-4zM2237,1556h4v4h-4zM2301,1556h5v4h-5zM2374,1556h13v4h-13zM2391,1556h30v4h-30zM2430,1556h4v4h-4zM2649,1556h8v4h-8zM1976,1560h120v4h-120zM2104,1560h5v4h-5zM2117,1560h4v4h-4zM2134,1560h13v4h-13zM2151,1560h5v4h-5zM2160,1560h9v4h-9zM2173,1560h4v4h-4zM2190,1560h4v4h-4zM2224,1560h5v4h-5zM2237,1560h4v4h-4zM2327,1560h4v4h-4zM2396,1560h34v4h-34zM2610,1560h9v4h-9zM2657,1560h4v4h-4zM1976,1564h128v5h-128zM2109,1564h4v5h-4zM2117,1564h22v5h-22zM2143,1564h4v5h-4zM2151,1564h13v5h-13zM2169,1564h4v5h-4zM2379,1564h4v5h-4zM2396,1564h34v5h-34zM2451,1564h5v5h-5zM2477,1564h4v5h-4zM2610,1564h4v5h-4zM2619,1564h4v5h-4zM2640,1564h9v5h-9zM1967,1569h129v4h-129zM2104,1569h30v4h-30zM2139,1569h12v4h-12zM2160,1569h9v4h-9zM2203,1569h4v4h-4zM2267,1569h4v4h-4zM2297,1569h4v4h-4zM2310,1569h4v4h-4zM2396,1569h38v4h-38zM2657,1569h4v4h-4zM1971,1573h180v4h-180zM2160,1573h4v4h-4zM2169,1573h4v4h-4zM2301,1573h5v4h-5zM2319,1573h8v4h-8zM2387,1573h13v4h-13zM2404,1573h43v4h-43zM1967,1577h184v4h-184zM2156,1577h4v4h-4zM2177,1577h4v4h-4zM2246,1577h4v4h-4zM2284,1577h5v4h-5zM2370,1577h4v4h-4zM2404,1577h17v4h-17zM2430,1577h21v4h-21zM2486,1577h8v4h-8zM2807,1577h4v4h-4zM1963,1581h201v5h-201zM2173,1581h4v5h-4zM2186,1581h4v5h-4zM2310,1581h4v5h-4zM2404,1581h9v5h-9zM2417,1581h9v5h-9zM2430,1581h34v5h-34zM2473,1581h8v5h-8zM2486,1581h8v5h-8zM2661,1581h5v5h-5zM2760,1581h4v5h-4zM2803,1581h4v5h-4zM1963,1586h193v4h-193zM2413,1586h4v4h-4zM2421,1586h5v4h-5zM2434,1586h9v4h-9zM2447,1586h4v4h-4zM2486,1586h4v4h-4zM1967,1590h184v4h-184zM2156,1590h13v4h-13zM2211,1590h5v4h-5zM2336,1590h4v4h-4zM2434,1590h5v4h-5zM2481,1590h9v4h-9zM2494,1590h5v4h-5zM2516,1590h4v4h-4zM2636,1590h4v4h-4zM2829,1590h4v4h-4zM2863,1590h4v4h-4zM1916,1594h4v5h-4zM1971,1594h180v5h-180zM2156,1594h4v5h-4zM2173,1594h8v5h-8zM2186,1594h4v5h-4zM2259,1594h4v5h-4zM2421,1594h5v5h-5zM2473,1594h4v5h-4zM2486,1594h4v5h-4zM1903,1599h13v4h-13zM1967,1599h184v4h-184zM2160,1599h4v4h-4zM2177,1599h9v4h-9zM2233,1599h4v4h-4zM2314,1599h5v4h-5zM2370,1599h4v4h-4zM2379,1599h4v4h-4zM2477,1599h9v4h-9zM1963,1603h8v4h-8zM1976,1603h184v4h-184zM2164,1603h9v4h-9zM2177,1603h4v4h-4zM2194,1603h5v4h-5zM2211,1603h5v4h-5zM2293,1603h4v4h-4zM2340,1603h4v4h-4zM2413,1603h4v4h-4zM2477,1603h4v4h-4zM2486,1603h8v4h-8zM2644,1603h5v4h-5zM1967,1607h4v4h-4zM1976,1607h175v4h-175zM2160,1607h4v4h-4zM2169,1607h4v4h-4zM2177,1607h4v4h-4zM2207,1607h4v4h-4zM2220,1607h4v4h-4zM2267,1607h4v4h-4zM2323,1607h4v4h-4zM2331,1607h5v4h-5zM2443,1607h4v4h-4zM2469,1607h12v4h-12zM2486,1607h4v4h-4zM2739,1607h12v4h-12zM1976,1611h188v5h-188zM2169,1611h8v5h-8zM2220,1611h4v5h-4zM2237,1611h4v5h-4zM2271,1611h9v5h-9zM2314,1611h5v5h-5zM2379,1611h4v5h-4zM2439,1611h4v5h-4zM2451,1611h22v5h-22zM2477,1611h13v5h-13zM2559,1611h4v5h-4zM2644,1611h5v5h-5zM2717,1611h4v5h-4zM2747,1611h9v5h-9zM2889,1611h4v5h-4zM1963,1616h4v4h-4zM1971,1616h189v4h-189zM2164,1616h5v4h-5zM2241,1616h5v4h-5zM2284,1616h5v4h-5zM2327,1616h4v4h-4zM2349,1616h4v4h-4zM2443,1616h4v4h-4zM2460,1616h9v4h-9zM2473,1616h8v4h-8zM2589,1616h4v4h-4zM2649,1616h4v4h-4zM2751,1616h5v4h-5zM1967,1620h206v4h-206zM2220,1620h4v4h-4zM2323,1620h4v4h-4zM2340,1620h4v4h-4zM2443,1620h8v4h-8zM2464,1620h17v4h-17zM2649,1620h8v4h-8zM2721,1620h5v4h-5zM1963,1624h218v5h-218zM2207,1624h4v5h-4zM2259,1624h4v5h-4zM2267,1624h4v5h-4zM2301,1624h5v5h-5zM2366,1624h4v5h-4zM2374,1624h5v5h-5zM2426,1624h4v5h-4zM2447,1624h4v5h-4zM2460,1624h17v5h-17zM2644,1624h9v5h-9zM2739,1624h4v5h-4zM1963,1629h218v4h-218zM2186,1629h4v4h-4zM2220,1629h4v4h-4zM2289,1629h4v4h-4zM2383,1629h4v4h-4zM2451,1629h18v4h-18zM2529,1629h8v4h-8zM2541,1629h5v4h-5zM2559,1629h4v4h-4zM2567,1629h9v4h-9zM2589,1629h4v4h-4zM2854,1629h5v4h-5zM2901,1629h5v4h-5zM1971,1633h5v4h-5zM1980,1633h201v4h-201zM2216,1633h4v4h-4zM2280,1633h4v4h-4zM2353,1633h4v4h-4zM2421,1633h5v4h-5zM2434,1633h22v4h-22zM2460,1633h13v4h-13zM2520,1633h4v4h-4zM2533,1633h4v4h-4zM2550,1633h4v4h-4zM2567,1633h4v4h-4zM2576,1633h4v4h-4zM2649,1633h4v4h-4zM1967,1637h4v4h-4zM1984,1637h202v4h-202zM2190,1637h9v4h-9zM2216,1637h4v4h-4zM2267,1637h9v4h-9zM2319,1637h4v4h-4zM2357,1637h4v4h-4zM2421,1637h5v4h-5zM2430,1637h17v4h-17zM2464,1637h5v4h-5zM2511,1637h5v4h-5zM2529,1637h4v4h-4zM2537,1637h4v4h-4zM2563,1637h4v4h-4zM2571,1637h5v4h-5zM2597,1637h4v4h-4zM2657,1637h4v4h-4zM1993,1641h184v5h-184zM2181,1641h5v5h-5zM2280,1641h4v5h-4zM2293,1641h4v5h-4zM2306,1641h4v5h-4zM2314,1641h5v5h-5zM2417,1641h4v5h-4zM2426,1641h25v5h-25zM2524,1641h5v5h-5zM2554,1641h5v5h-5zM2666,1641h4v5h-4zM2760,1641h4v5h-4zM1993,1646h184v4h-184zM2216,1646h4v4h-4zM2229,1646h4v4h-4zM2293,1646h4v4h-4zM2413,1646h8v4h-8zM2426,1646h4v4h-4zM2434,1646h5v4h-5zM2524,1646h5v4h-5zM2537,1646h4v4h-4zM2550,1646h4v4h-4zM2559,1646h4v4h-4zM2584,1646h5v4h-5zM2623,1646h4v4h-4zM2631,1646h5v4h-5zM2649,1646h4v4h-4zM2661,1646h5v4h-5zM2674,1646h5v4h-5zM1993,1650h184v4h-184zM2181,1650h5v4h-5zM2190,1650h4v4h-4zM2224,1650h13v4h-13zM2246,1650h4v4h-4zM2259,1650h4v4h-4zM2310,1650h9v4h-9zM2404,1650h5v4h-5zM2421,1650h13v4h-13zM2511,1650h5v4h-5zM2520,1650h4v4h-4zM2529,1650h4v4h-4zM2546,1650h8v4h-8zM2567,1650h4v4h-4zM2593,1650h8v4h-8zM2674,1650h9v4h-9zM1993,1654h188v5h-188zM2216,1654h13v5h-13zM2233,1654h8v5h-8zM2284,1654h5v5h-5zM2314,1654h5v5h-5zM2344,1654h5v5h-5zM2370,1654h4v5h-4zM2404,1654h5v5h-5zM2417,1654h17v5h-17zM2516,1654h4v5h-4zM2533,1654h4v5h-4zM2541,1654h5v5h-5zM2554,1654h5v5h-5zM2576,1654h4v5h-4zM2597,1654h4v5h-4zM2700,1654h4v5h-4zM2001,1659h176v4h-176zM2190,1659h4v4h-4zM2199,1659h4v4h-4zM2220,1659h13v4h-13zM2254,1659h5v4h-5zM2297,1659h4v4h-4zM2353,1659h4v4h-4zM2413,1659h8v4h-8zM2434,1659h5v4h-5zM2524,1659h13v4h-13zM2541,1659h9v4h-9zM2554,1659h9v4h-9zM2580,1659h4v4h-4zM2700,1659h4v4h-4zM2717,1659h4v4h-4zM1890,1663h4v4h-4zM2001,1663h5v4h-5zM2010,1663h176v4h-176zM2199,1663h4v4h-4zM2207,1663h4v4h-4zM2220,1663h17v4h-17zM2241,1663h5v4h-5zM2301,1663h5v4h-5zM2404,1663h22v4h-22zM2430,1663h4v4h-4zM2511,1663h5v4h-5zM2524,1663h9v4h-9zM2537,1663h13v4h-13zM2554,1663h5v4h-5zM2567,1663h9v4h-9zM2589,1663h4v4h-4zM2700,1663h4v4h-4zM1899,1667h8v4h-8zM2006,1667h184v4h-184zM2194,1667h9v4h-9zM2207,1667h9v4h-9zM2220,1667h13v4h-13zM2237,1667h4v4h-4zM2297,1667h4v4h-4zM2327,1667h4v4h-4zM2404,1667h26v4h-26zM2511,1667h5v4h-5zM2529,1667h8v4h-8zM2554,1667h5v4h-5zM2571,1667h5v4h-5zM2601,1667h5v4h-5zM2674,1667h5v4h-5zM2700,1667h4v4h-4zM1997,1671h4v5h-4zM2014,1671h189v5h-189zM2207,1671h22v5h-22zM2250,1671h4v5h-4zM2340,1671h4v5h-4zM2400,1671h30v5h-30zM2439,1671h4v5h-4zM2516,1671h17v5h-17zM2541,1671h5v5h-5zM2550,1671h4v5h-4zM2589,1671h4v5h-4zM2597,1671h4v5h-4zM2670,1671h4v5h-4zM2756,1671h4v5h-4zM1911,1676h5v4h-5zM1993,1676h8v4h-8zM2010,1676h4v4h-4zM2019,1676h167v4h-167zM2190,1676h4v4h-4zM2207,1676h17v4h-17zM2229,1676h4v4h-4zM2241,1676h5v4h-5zM2344,1676h5v4h-5zM2391,1676h5v4h-5zM2409,1676h21v4h-21zM2439,1676h8v4h-8zM2533,1676h4v4h-4zM2541,1676h13v4h-13zM2563,1676h8v4h-8zM2580,1676h4v4h-4zM2670,1676h9v4h-9zM2700,1676h4v4h-4zM1916,1680h4v4h-4zM1989,1680h4v4h-4zM1997,1680h9v4h-9zM2014,1680h219v4h-219zM2314,1680h5v4h-5zM2366,1680h4v4h-4zM2391,1680h26v4h-26zM2426,1680h4v4h-4zM2434,1680h9v4h-9zM2520,1680h21v4h-21zM2546,1680h8v4h-8zM2571,1680h5v4h-5zM2623,1680h4v4h-4zM2670,1680h9v4h-9zM2709,1680h4v4h-4zM2739,1680h4v4h-4zM2019,1684h214v5h-214zM2237,1684h4v5h-4zM2284,1684h5v5h-5zM2387,1684h22v5h-22zM2413,1684h13v5h-13zM2443,1684h4v5h-4zM2520,1684h9v5h-9zM2533,1684h13v5h-13zM2550,1684h4v5h-4zM2567,1684h13v5h-13zM2584,1684h5v5h-5zM2606,1684h4v5h-4zM1993,1689h4v4h-4zM2023,1689h201v4h-201zM2229,1689h8v4h-8zM2310,1689h4v4h-4zM2370,1689h4v4h-4zM2387,1689h22v4h-22zM2413,1689h4v4h-4zM2443,1689h4v4h-4zM2529,1689h4v4h-4zM2541,1689h5v4h-5zM2550,1689h4v4h-4zM2567,1689h9v4h-9zM2580,1689h4v4h-4zM2589,1689h4v4h-4zM2597,1689h4v4h-4zM2657,1689h4v4h-4zM2666,1689h4v4h-4zM2696,1689h4v4h-4zM1993,1693h4v4h-4zM2010,1693h214v4h-214zM2263,1693h4v4h-4zM2271,1693h5v4h-5zM2293,1693h4v4h-4zM2353,1693h8v4h-8zM2383,1693h8v4h-8zM2396,1693h8v4h-8zM2413,1693h4v4h-4zM2533,1693h34v4h-34zM2601,1693h5v4h-5zM2661,1693h5v4h-5zM2683,1693h4v4h-4zM1924,1697h5v4h-5zM1993,1697h4v4h-4zM2010,1697h9v4h-9zM2023,1697h201v4h-201zM2233,1697h8v4h-8zM2310,1697h4v4h-4zM2319,1697h4v4h-4zM2327,1697h4v4h-4zM2349,1697h4v4h-4zM2379,1697h12v4h-12zM2400,1697h4v4h-4zM2434,1697h9v4h-9zM2529,1697h4v4h-4zM2541,1697h9v4h-9zM2584,1697h5v4h-5zM2606,1697h8v4h-8zM2657,1697h4v4h-4zM1993,1701h8v5h-8zM2019,1701h205v5h-205zM2293,1701h8v5h-8zM2314,1701h9v5h-9zM2340,1701h4v5h-4zM2366,1701h4v5h-4zM2379,1701h21v5h-21zM2421,1701h5v5h-5zM2439,1701h4v5h-4zM2537,1701h9v5h-9zM2550,1701h4v5h-4zM2559,1701h4v5h-4zM2571,1701h5v5h-5zM2584,1701h5v5h-5zM2606,1701h4v5h-4zM2627,1701h4v5h-4zM2773,1701h4v5h-4zM2010,1706h9v4h-9zM2027,1706h197v4h-197zM2379,1706h17v4h-17zM2400,1706h4v4h-4zM2409,1706h4v4h-4zM2430,1706h13v4h-13zM2550,1706h9v4h-9zM2567,1706h4v4h-4zM2601,1706h5v4h-5zM2709,1706h4v4h-4zM2001,1710h5v4h-5zM2010,1710h4v4h-4zM2023,1710h197v4h-197zM2374,1710h13v4h-13zM2391,1710h9v4h-9zM2404,1710h9v4h-9zM2426,1710h4v4h-4zM2439,1710h4v4h-4zM2524,1710h5v4h-5zM2550,1710h4v4h-4zM2563,1710h4v4h-4zM2593,1710h8v4h-8zM2606,1710h4v4h-4zM2649,1710h4v4h-4zM2696,1710h4v4h-4zM1993,1714h4v5h-4zM2001,1714h18v5h-18zM2027,1714h202v5h-202zM2246,1714h4v5h-4zM2276,1714h4v5h-4zM2366,1714h25v5h-25zM2396,1714h4v5h-4zM2430,1714h4v5h-4zM2563,1714h4v5h-4zM2593,1714h8v5h-8zM2606,1714h4v5h-4zM2019,1719h205v4h-205zM2353,1719h4v4h-4zM2361,1719h18v4h-18zM2400,1719h4v4h-4zM2409,1719h4v4h-4zM2417,1719h4v4h-4zM2426,1719h4v4h-4zM2434,1719h5v4h-5zM2537,1719h9v4h-9zM2554,1719h5v4h-5zM2563,1719h4v4h-4zM2589,1719h4v4h-4zM2001,1723h9v4h-9zM2019,1723h197v4h-197zM2220,1723h4v4h-4zM2310,1723h4v4h-4zM2353,1723h4v4h-4zM2370,1723h9v4h-9zM2387,1723h4v4h-4zM2434,1723h5v4h-5zM2580,1723h4v4h-4zM2593,1723h4v4h-4zM2649,1723h4v4h-4zM2696,1723h4v4h-4zM1941,1727h5v4h-5zM2001,1727h5v4h-5zM2019,1727h205v4h-205zM2280,1727h4v4h-4zM2336,1727h4v4h-4zM2353,1727h21v4h-21zM2387,1727h4v4h-4zM2400,1727h13v4h-13zM2426,1727h4v4h-4zM2443,1727h4v4h-4zM2550,1727h4v4h-4zM2559,1727h8v4h-8zM2576,1727h4v4h-4zM2653,1727h4v4h-4zM2683,1727h4v4h-4zM2006,1731h4v5h-4zM2027,1731h197v5h-197zM2327,1731h9v5h-9zM2344,1731h5v5h-5zM2361,1731h30v5h-30zM2417,1731h9v5h-9zM2430,1731h4v5h-4zM2451,1731h5v5h-5zM2524,1731h13v5h-13zM2546,1731h8v5h-8zM2563,1731h4v5h-4zM2576,1731h4v5h-4zM2644,1731h5v5h-5zM2683,1731h4v5h-4zM2027,1736h189v4h-189zM2259,1736h4v4h-4zM2297,1736h4v4h-4zM2353,1736h30v4h-30zM2391,1736h5v4h-5zM2430,1736h4v4h-4zM2447,1736h13v4h-13zM2529,1736h8v4h-8zM2576,1736h4v4h-4zM2644,1736h5v4h-5zM2679,1736h4v4h-4zM2027,1740h9v4h-9zM2040,1740h21v4h-21zM2066,1740h145v4h-145zM2216,1740h8v4h-8zM2246,1740h4v4h-4zM2301,1740h5v4h-5zM2327,1740h9v4h-9zM2340,1740h9v4h-9zM2353,1740h4v4h-4zM2366,1740h4v4h-4zM2374,1740h5v4h-5zM2391,1740h5v4h-5zM2400,1740h4v4h-4zM2421,1740h5v4h-5zM2434,1740h13v4h-13zM2473,1740h4v4h-4zM2481,1740h9v4h-9zM2541,1740h5v4h-5zM2550,1740h4v4h-4zM2019,1744h21v5h-21zM2044,1744h9v5h-9zM2061,1744h155v5h-155zM2224,1744h5v5h-5zM2254,1744h5v5h-5zM2276,1744h4v5h-4zM2314,1744h9v5h-9zM2327,1744h9v5h-9zM2353,1744h4v5h-4zM2361,1744h9v5h-9zM2396,1744h4v5h-4zM2417,1744h4v5h-4zM2434,1744h5v5h-5zM2447,1744h4v5h-4zM2460,1744h9v5h-9zM2473,1744h4v5h-4zM2529,1744h4v5h-4zM2541,1744h5v5h-5zM2550,1744h4v5h-4zM2559,1744h4v5h-4zM2640,1744h4v5h-4zM2679,1744h4v5h-4zM2023,1749h17v4h-17zM2044,1749h13v4h-13zM2066,1749h145v4h-145zM2216,1749h4v4h-4zM2241,1749h18v4h-18zM2271,1749h5v4h-5zM2284,1749h5v4h-5zM2293,1749h4v4h-4zM2301,1749h5v4h-5zM2310,1749h4v4h-4zM2336,1749h4v4h-4zM2344,1749h5v4h-5zM2357,1749h4v4h-4zM2374,1749h5v4h-5zM2387,1749h17v4h-17zM2417,1749h4v4h-4zM2426,1749h4v4h-4zM2434,1749h5v4h-5zM2443,1749h4v4h-4zM2456,1749h8v4h-8zM2469,1749h4v4h-4zM2481,1749h9v4h-9zM2494,1749h5v4h-5zM2640,1749h4v4h-4zM2674,1749h5v4h-5zM2023,1753h13v4h-13zM2040,1753h176v4h-176zM2250,1753h4v4h-4zM2289,1753h17v4h-17zM2314,1753h5v4h-5zM2361,1753h5v4h-5zM2379,1753h4v4h-4zM2387,1753h9v4h-9zM2409,1753h4v4h-4zM2417,1753h4v4h-4zM2460,1753h4v4h-4zM2469,1753h4v4h-4zM2481,1753h5v4h-5zM2490,1753h4v4h-4zM2529,1753h4v4h-4zM2537,1753h9v4h-9zM2670,1753h4v4h-4zM2027,1757h4v4h-4zM2040,1757h17v4h-17zM2066,1757h158v4h-158zM2229,1757h8v4h-8zM2241,1757h5v4h-5zM2254,1757h5v4h-5zM2280,1757h21v4h-21zM2361,1757h5v4h-5zM2370,1757h4v4h-4zM2409,1757h4v4h-4zM2421,1757h9v4h-9zM2443,1757h4v4h-4zM2486,1757h4v4h-4zM2533,1757h4v4h-4zM2550,1757h4v4h-4zM2636,1757h4v4h-4zM2687,1757h4v4h-4zM2700,1757h4v4h-4zM2027,1761h9v5h-9zM2040,1761h21v5h-21zM2066,1761h210v5h-210zM2280,1761h9v5h-9zM2293,1761h4v5h-4zM2301,1761h5v5h-5zM2331,1761h5v5h-5zM2404,1761h5v5h-5zM2417,1761h9v5h-9zM2434,1761h5v5h-5zM2451,1761h5v5h-5zM2469,1761h8v5h-8zM2674,1761h5v5h-5zM2023,1766h21v4h-21zM2049,1766h8v4h-8zM2066,1766h227v4h-227zM2306,1766h4v4h-4zM2314,1766h9v4h-9zM2357,1766h4v4h-4zM2387,1766h9v4h-9zM2409,1766h4v4h-4zM2434,1766h5v4h-5zM2627,1766h4v4h-4zM2721,1766h5v4h-5zM2027,1770h13v4h-13zM2044,1770h9v4h-9zM2057,1770h4v4h-4zM2066,1770h218v4h-218zM2289,1770h8v4h-8zM2323,1770h4v4h-4zM2357,1770h13v4h-13zM2383,1770h4v4h-4zM2400,1770h4v4h-4zM2417,1770h13v4h-13zM2623,1770h13v4h-13zM2023,1774h4v5h-4zM2057,1774h227v5h-227zM2293,1774h4v5h-4zM2361,1774h5v5h-5zM2400,1774h4v5h-4zM2421,1774h13v5h-13zM2443,1774h8v5h-8zM2619,1774h4v5h-4zM2627,1774h9v5h-9zM2666,1774h8v5h-8zM2700,1774h4v5h-4zM2031,1779h5v4h-5zM2040,1779h4v4h-4zM2061,1779h245v4h-245zM2370,1779h4v4h-4zM2383,1779h4v4h-4zM2409,1779h8v4h-8zM2421,1779h5v4h-5zM2439,1779h4v4h-4zM2619,1779h17v4h-17zM2666,1779h4v4h-4zM2061,1783h249v4h-249zM2319,1783h4v4h-4zM2409,1783h12v4h-12zM2430,1783h4v4h-4zM2559,1783h4v4h-4zM2623,1783h13v4h-13zM2666,1783h4v4h-4zM2066,1787h4v4h-4zM2074,1787h180v4h-180zM2259,1787h72v4h-72zM2413,1787h4v4h-4zM2430,1787h4v4h-4zM2439,1787h4v4h-4zM2554,1787h9v4h-9zM2623,1787h8v4h-8zM2066,1791h180v5h-180zM2254,1791h69v5h-69zM2421,1791h5v5h-5zM2430,1791h4v5h-4zM2554,1791h9v5h-9zM2627,1791h4v5h-4zM2666,1791h4v5h-4zM2070,1796h167v4h-167zM2250,1796h9v4h-9zM2263,1796h64v4h-64zM2417,1796h4v4h-4zM2541,1796h5v4h-5zM2554,1796h9v4h-9zM2593,1796h4v4h-4zM2610,1796h4v4h-4zM2070,1800h159v4h-159zM2233,1800h4v4h-4zM2263,1800h77v4h-77zM2366,1800h4v4h-4zM2400,1800h4v4h-4zM2413,1800h4v4h-4zM2421,1800h13v4h-13zM2447,1800h4v4h-4zM2554,1800h5v4h-5zM2619,1800h4v4h-4zM2066,1804h4v5h-4zM2074,1804h146v5h-146zM2241,1804h9v5h-9zM2263,1804h68v5h-68zM2344,1804h13v5h-13zM2404,1804h5v5h-5zM2417,1804h4v5h-4zM2426,1804h4v5h-4zM2550,1804h13v5h-13zM2074,1809h137v4h-137zM2224,1809h9v4h-9zM2259,1809h17v4h-17zM2284,1809h60v4h-60zM2366,1809h4v4h-4zM2379,1809h4v4h-4zM2396,1809h8v4h-8zM2417,1809h13v4h-13zM2434,1809h5v4h-5zM2554,1809h5v4h-5zM2597,1809h4v4h-4zM2070,1813h9v4h-9zM2083,1813h4v4h-4zM2091,1813h9v4h-9zM2104,1813h103v4h-103zM2220,1813h4v4h-4zM2237,1813h4v4h-4zM2254,1813h17v4h-17zM2280,1813h56v4h-56zM2349,1813h8v4h-8zM2370,1813h4v4h-4zM2387,1813h9v4h-9zM2400,1813h4v4h-4zM2413,1813h17v4h-17zM2439,1813h12v4h-12zM2499,1813h4v4h-4zM2541,1813h5v4h-5zM2610,1813h4v4h-4zM2074,1817h17v4h-17zM2096,1817h4v4h-4zM2109,1817h94v4h-94zM2216,1817h4v4h-4zM2237,1817h22v4h-22zM2263,1817h4v4h-4zM2284,1817h43v4h-43zM2331,1817h5v4h-5zM2344,1817h5v4h-5zM2366,1817h8v4h-8zM2400,1817h13v4h-13zM2417,1817h17v4h-17zM2546,1817h8v4h-8zM2606,1817h4v4h-4zM2661,1817h5v4h-5zM2109,1821h90v5h-90zM2203,1821h4v5h-4zM2224,1821h5v5h-5zM2237,1821h4v5h-4zM2246,1821h21v5h-21zM2284,1821h30v5h-30zM2331,1821h18v5h-18zM2361,1821h13v5h-13zM2379,1821h8v5h-8zM2391,1821h5v5h-5zM2404,1821h5v5h-5zM2413,1821h30v5h-30zM2541,1821h5v5h-5zM2601,1821h5v5h-5zM2661,1821h5v5h-5zM2079,1826h4v4h-4zM2109,1826h81v4h-81zM2216,1826h4v4h-4zM2224,1826h5v4h-5zM2246,1826h13v4h-13zM2267,1826h4v4h-4zM2293,1826h4v4h-4zM2301,1826h9v4h-9zM2314,1826h5v4h-5zM2323,1826h4v4h-4zM2336,1826h4v4h-4zM2344,1826h43v4h-43zM2400,1826h4v4h-4zM2413,1826h8v4h-8zM2426,1826h8v4h-8zM2439,1826h12v4h-12zM2541,1826h9v4h-9zM2563,1826h4v4h-4zM2571,1826h5v4h-5zM2601,1826h5v4h-5zM2700,1826h4v4h-4zM1989,1830h4v4h-4zM2109,1830h4v4h-4zM2117,1830h69v4h-69zM2190,1830h9v4h-9zM2207,1830h4v4h-4zM2233,1830h4v4h-4zM2246,1830h4v4h-4zM2284,1830h26v4h-26zM2314,1830h39v4h-39zM2361,1830h13v4h-13zM2383,1830h4v4h-4zM2391,1830h9v4h-9zM2417,1830h13v4h-13zM2439,1830h8v4h-8zM2541,1830h5v4h-5zM2606,1830h4v4h-4zM2657,1830h4v4h-4zM2709,1830h4v4h-4zM2109,1834h8v5h-8zM2121,1834h56v5h-56zM2199,1834h4v5h-4zM2224,1834h9v5h-9zM2246,1834h4v5h-4zM2297,1834h30v5h-30zM2336,1834h21v5h-21zM2361,1834h13v5h-13zM2409,1834h8v5h-8zM2421,1834h5v5h-5zM2434,1834h9v5h-9zM2451,1834h5v5h-5zM2537,1834h9v5h-9zM2563,1834h13v5h-13zM2121,1839h60v4h-60zM2207,1839h17v4h-17zM2289,1839h4v4h-4zM2297,1839h17v4h-17zM2323,1839h13v4h-13zM2340,1839h34v4h-34zM2379,1839h4v4h-4zM2387,1839h9v4h-9zM2404,1839h22v4h-22zM2434,1839h5v4h-5zM2443,1839h4v4h-4zM2451,1839h5v4h-5zM2601,1839h5v4h-5zM2657,1839h9v4h-9zM2121,1843h56v4h-56zM2181,1843h5v4h-5zM2199,1843h4v4h-4zM2289,1843h8v4h-8zM2301,1843h5v4h-5zM2319,1843h12v4h-12zM2336,1843h8v4h-8zM2349,1843h17v4h-17zM2374,1843h9v4h-9zM2391,1843h5v4h-5zM2409,1843h17v4h-17zM2434,1843h22v4h-22zM2541,1843h5v4h-5zM2606,1843h4v4h-4zM2130,1847h47v4h-47zM2186,1847h17v4h-17zM2301,1847h39v4h-39zM2344,1847h9v4h-9zM2357,1847h13v4h-13zM2374,1847h5v4h-5zM2383,1847h4v4h-4zM2417,1847h4v4h-4zM2426,1847h4v4h-4zM2434,1847h9v4h-9zM2456,1847h4v4h-4zM2546,1847h8v4h-8zM2657,1847h4v4h-4zM1997,1851h4v5h-4zM2134,1851h5v5h-5zM2147,1851h9v5h-9zM2160,1851h13v5h-13zM2181,1851h5v5h-5zM2199,1851h4v5h-4zM2207,1851h4v5h-4zM2289,1851h4v5h-4zM2327,1851h26v5h-26zM2361,1851h13v5h-13zM2409,1851h4v5h-4zM2417,1851h4v5h-4zM2426,1851h21v5h-21zM2606,1851h4v5h-4zM2700,1851h4v5h-4zM2139,1856h4v4h-4zM2156,1856h25v4h-25zM2207,1856h4v4h-4zM2293,1856h4v4h-4zM2323,1856h4v4h-4zM2331,1856h5v4h-5zM2344,1856h13v4h-13zM2361,1856h18v4h-18zM2383,1856h4v4h-4zM2400,1856h4v4h-4zM2413,1856h8v4h-8zM2430,1856h9v4h-9zM2443,1856h8v4h-8zM2460,1856h4v4h-4zM2156,1860h8v4h-8zM2173,1860h4v4h-4zM2289,1860h4v4h-4zM2297,1860h4v4h-4zM2336,1860h4v4h-4zM2349,1860h8v4h-8zM2370,1860h4v4h-4zM2383,1860h4v4h-4zM2409,1860h4v4h-4zM2417,1860h4v4h-4zM2426,1860h13v4h-13zM2443,1860h4v4h-4zM2456,1860h8v4h-8zM2597,1860h9v4h-9zM2610,1860h4v4h-4zM2164,1864h5v5h-5zM2173,1864h30v5h-30zM2306,1864h4v5h-4zM2314,1864h5v5h-5zM2336,1864h25v5h-25zM2366,1864h8v5h-8zM2409,1864h4v5h-4zM2417,1864h17v5h-17zM2439,1864h8v5h-8zM2460,1864h4v5h-4zM2597,1864h4v5h-4zM2636,1864h8v5h-8zM2657,1864h4v5h-4zM2173,1869h4v4h-4zM2186,1869h13v4h-13zM2306,1869h4v4h-4zM2336,1869h4v4h-4zM2349,1869h8v4h-8zM2366,1869h13v4h-13zM2383,1869h8v4h-8zM2404,1869h13v4h-13zM2421,1869h9v4h-9zM2434,1869h17v4h-17zM2456,1869h13v4h-13zM2520,1869h4v4h-4zM2567,1869h4v4h-4zM2636,1869h4v4h-4zM2657,1869h4v4h-4zM2173,1873h4v4h-4zM2194,1873h5v4h-5zM2203,1873h4v4h-4zM2289,1873h4v4h-4zM2323,1873h4v4h-4zM2340,1873h4v4h-4zM2349,1873h8v4h-8zM2361,1873h9v4h-9zM2409,1873h25v4h-25zM2439,1873h12v4h-12zM2460,1873h4v4h-4zM2597,1873h9v4h-9zM2657,1873h4v4h-4zM2203,1877h4v4h-4zM2289,1877h8v4h-8zM2314,1877h5v4h-5zM2323,1877h4v4h-4zM2336,1877h30v4h-30zM2370,1877h4v4h-4zM2387,1877h4v4h-4zM2404,1877h5v4h-5zM2417,1877h9v4h-9zM2439,1877h12v4h-12zM2460,1877h4v4h-4zM2207,1881h4v5h-4zM2289,1881h8v5h-8zM2310,1881h4v5h-4zM2319,1881h8v5h-8zM2331,1881h5v5h-5zM2340,1881h4v5h-4zM2349,1881h17v5h-17zM2383,1881h4v5h-4zM2391,1881h5v5h-5zM2409,1881h12v5h-12zM2426,1881h17v5h-17zM2447,1881h4v5h-4zM2456,1881h4v5h-4zM2593,1881h8v5h-8zM2297,1886h4v4h-4zM2306,1886h8v4h-8zM2331,1886h9v4h-9zM2344,1886h26v4h-26zM2379,1886h4v4h-4zM2391,1886h5v4h-5zM2417,1886h4v4h-4zM2430,1886h9v4h-9zM2443,1886h4v4h-4zM2451,1886h5v4h-5zM2460,1886h4v4h-4zM2529,1886h4v4h-4zM2597,1886h4v4h-4zM2207,1890h4v4h-4zM2306,1890h4v4h-4zM2314,1890h9v4h-9zM2327,1890h4v4h-4zM2336,1890h8v4h-8zM2353,1890h21v4h-21zM2379,1890h4v4h-4zM2387,1890h9v4h-9zM2400,1890h4v4h-4zM2409,1890h4v4h-4zM2421,1890h5v4h-5zM2430,1890h9v4h-9zM2447,1890h9v4h-9zM2464,1890h9v4h-9zM2593,1890h8v4h-8zM2289,1894h4v5h-4zM2310,1894h4v5h-4zM2327,1894h22v5h-22zM2353,1894h13v5h-13zM2370,1894h4v5h-4zM2387,1894h4v5h-4zM2396,1894h13v5h-13zM2417,1894h17v5h-17zM2443,1894h13v5h-13zM2460,1894h9v5h-9zM2593,1894h4v5h-4zM2653,1894h4v5h-4zM2216,1899h4v4h-4zM2297,1899h4v4h-4zM2319,1899h4v4h-4zM2327,1899h9v4h-9zM2340,1899h9v4h-9zM2353,1899h17v4h-17zM2374,1899h5v4h-5zM2396,1899h17v4h-17zM2430,1899h4v4h-4zM2443,1899h4v4h-4zM2451,1899h5v4h-5zM2653,1899h8v4h-8zM2216,1903h8v4h-8zM2289,1903h4v4h-4zM2331,1903h9v4h-9zM2344,1903h13v4h-13zM2361,1903h5v4h-5zM2370,1903h4v4h-4zM2379,1903h4v4h-4zM2404,1903h13v4h-13zM2434,1903h5v4h-5zM2447,1903h4v4h-4zM2653,1903h4v4h-4zM2211,1907h18v4h-18zM2301,1907h5v4h-5zM2319,1907h8v4h-8zM2336,1907h8v4h-8zM2353,1907h4v4h-4zM2391,1907h5v4h-5zM2413,1907h8v4h-8zM2584,1907h9v4h-9zM2229,1911h4v5h-4zM2297,1911h4v5h-4zM2306,1911h4v5h-4zM2314,1911h5v5h-5zM2331,1911h22v5h-22zM2357,1911h13v5h-13zM2379,1911h4v5h-4zM2413,1911h4v5h-4zM2426,1911h4v5h-4zM2584,1911h5v5h-5zM2224,1916h5v4h-5zM2233,1916h4v4h-4zM2297,1916h4v4h-4zM2310,1916h4v4h-4zM2319,1916h17v4h-17zM2357,1916h9v4h-9zM2370,1916h4v4h-4zM2387,1916h4v4h-4zM2396,1916h13v4h-13zM2576,1916h4v4h-4zM2584,1916h5v4h-5zM2224,1920h5v4h-5zM2237,1920h4v4h-4zM2250,1920h9v4h-9zM2293,1920h8v4h-8zM2306,1920h13v4h-13zM2344,1920h9v4h-9zM2361,1920h5v4h-5zM2391,1920h5v4h-5zM2400,1920h13v4h-13zM2447,1920h4v4h-4zM2576,1920h4v4h-4zM2619,1920h4v4h-4zM2220,1924h4v5h-4zM2233,1924h8v5h-8zM2250,1924h13v5h-13zM2293,1924h4v5h-4zM2306,1924h13v5h-13zM2336,1924h8v5h-8zM2374,1924h5v5h-5zM2383,1924h8v5h-8zM2404,1924h9v5h-9zM2434,1924h13v5h-13zM2451,1924h9v5h-9zM2464,1924h9v5h-9zM2576,1924h4v5h-4zM2224,1929h9v4h-9zM2241,1929h9v4h-9zM2254,1929h5v4h-5zM2271,1929h5v4h-5zM2284,1929h9v4h-9zM2297,1929h22v4h-22zM2353,1929h4v4h-4zM2379,1929h8v4h-8zM2396,1929h4v4h-4zM2404,1929h9v4h-9zM2417,1929h4v4h-4zM2426,1929h8v4h-8zM2439,1929h4v4h-4zM2447,1929h4v4h-4zM2456,1929h13v4h-13zM2576,1929h4v4h-4zM2241,1933h5v4h-5zM2263,1933h13v4h-13zM2280,1933h13v4h-13zM2297,1933h17v4h-17zM2353,1933h17v4h-17zM2439,1933h8v4h-8zM2464,1933h5v4h-5zM2473,1933h4v4h-4zM2241,1937h5v4h-5zM2250,1937h17v4h-17zM2271,1937h26v4h-26zM2306,1937h8v4h-8zM2391,1937h5v4h-5zM2571,1937h5v4h-5zM2190,1941h4v5h-4zM2241,1941h5v5h-5zM2250,1941h13v5h-13zM2267,1941h9v5h-9zM2280,1941h4v5h-4zM2293,1941h13v5h-13zM2387,1941h4v5h-4zM2481,1941h9v5h-9zM2631,1941h5v5h-5zM2241,1946h18v4h-18zM2263,1946h8v4h-8zM2276,1946h13v4h-13zM2297,1946h4v4h-4zM2379,1946h4v4h-4zM2670,1946h4v4h-4zM2096,1950h4v4h-4zM2194,1950h5v4h-5zM2246,1950h4v4h-4zM2254,1950h13v4h-13zM2271,1950h35v4h-35zM2319,1950h4v4h-4zM2331,1950h5v4h-5zM2387,1950h4v4h-4zM2490,1950h4v4h-4zM2186,1954h8v5h-8zM2199,1954h4v5h-4zM2259,1954h30v5h-30zM2293,1954h13v5h-13zM2383,1954h8v5h-8zM2490,1954h4v5h-4zM2254,1959h17v4h-17zM2276,1959h25v4h-25zM2306,1959h8v4h-8zM2323,1959h8v4h-8zM2336,1959h4v4h-4zM2344,1959h5v4h-5zM2353,1959h8v4h-8zM2383,1959h4v4h-4zM2559,1959h4v4h-4zM2593,1959h4v4h-4zM2670,1959h4v4h-4zM2224,1963h9v4h-9zM2263,1963h13v4h-13zM2280,1963h30v4h-30zM2349,1963h4v4h-4zM2220,1967h9v4h-9zM2276,1967h17v4h-17zM2297,1967h4v4h-4zM2344,1967h5v4h-5zM2353,1967h8v4h-8zM2383,1967h8v4h-8zM2220,1971h17v5h-17zM2263,1971h4v5h-4zM2276,1971h17v5h-17zM2301,1971h5v5h-5zM2490,1971h9v5h-9zM2679,1971h4v5h-4zM2216,1976h4v4h-4zM2229,1976h4v4h-4zM2241,1976h5v4h-5zM2250,1976h4v4h-4zM2259,1976h4v4h-4zM2276,1976h4v4h-4zM2289,1976h17v4h-17zM2391,1976h9v4h-9zM2644,1976h5v4h-5zM2224,1980h26v4h-26zM2254,1980h9v4h-9zM2267,1980h4v4h-4zM2276,1980h8v4h-8zM2289,1980h21v4h-21zM2396,1980h4v4h-4zM2404,1980h5v4h-5zM2494,1980h5v4h-5zM2679,1980h8v4h-8zM2233,1984h4v5h-4zM2250,1984h4v5h-4zM2259,1984h17v5h-17zM2293,1984h4v5h-4zM2494,1984h5v5h-5zM2220,1989h4v4h-4zM2233,1989h17v4h-17zM2259,1989h8v4h-8zM2271,1989h5v4h-5zM2289,1989h8v4h-8zM2301,1989h5v4h-5zM2434,1989h5v4h-5zM2490,1989h4v4h-4zM2627,1989h4v4h-4zM2683,1989h17v4h-17zM2224,1993h5v4h-5zM2233,1993h8v4h-8zM2250,1993h4v4h-4zM2259,1993h8v4h-8zM2280,1993h4v4h-4zM2289,1993h12v4h-12zM2490,1993h4v4h-4zM2224,1997h13v4h-13zM2246,1997h4v4h-4zM2254,1997h17v4h-17zM2276,1997h4v4h-4zM2289,1997h12v4h-12zM2391,1997h13v4h-13zM2409,1997h4v4h-4zM2417,1997h4v4h-4zM2224,2001h13v5h-13zM2246,2001h4v5h-4zM2280,2001h4v5h-4zM2289,2001h4v5h-4zM2396,2001h4v5h-4zM2494,2001h5v5h-5zM2627,2001h4v5h-4zM2237,2006h22v4h-22zM2263,2006h4v4h-4zM2284,2006h9v4h-9zM2400,2006h4v4h-4zM2413,2006h13v4h-13zM2490,2006h9v4h-9zM2241,2010h5v4h-5zM2250,2010h21v4h-21zM2280,2010h13v4h-13zM2421,2010h5v4h-5zM2486,2010h4v4h-4zM2229,2014h8v5h-8zM2246,2014h8v5h-8zM2263,2014h4v5h-4zM2284,2014h5v5h-5zM2413,2014h8v5h-8zM2434,2014h17v5h-17zM2477,2014h9v5h-9zM2614,2014h5v5h-5zM2233,2019h4v4h-4zM2250,2019h4v4h-4zM2259,2019h4v4h-4zM2434,2019h22v4h-22zM2481,2019h9v4h-9zM2619,2019h12v4h-12zM2691,2019h5v4h-5zM2233,2023h4v4h-4zM2241,2023h5v4h-5zM2250,2023h4v4h-4zM2280,2023h4v4h-4zM2439,2023h21v4h-21zM2473,2023h13v4h-13zM2631,2023h13v4h-13zM2691,2023h5v4h-5zM2246,2027h13v4h-13zM2284,2027h5v4h-5zM2374,2027h5v4h-5zM2434,2027h26v4h-26zM2477,2027h4v4h-4zM2691,2027h5v4h-5zM2241,2031h5v5h-5zM2250,2031h4v5h-4zM2259,2031h4v5h-4zM2280,2031h4v5h-4zM2383,2031h4v5h-4zM2434,2031h17v5h-17zM2481,2031h5v5h-5zM2691,2031h9v5h-9zM2259,2036h4v4h-4zM2284,2036h5v4h-5zM2379,2036h4v4h-4zM2451,2036h5v4h-5zM2464,2036h13v4h-13zM2366,2040h4v4h-4zM2469,2040h4v4h-4zM2246,2044h4v5h-4zM2289,2044h4v5h-4zM2370,2044h4v5h-4zM2383,2044h4v5h-4zM2400,2044h4v5h-4zM2426,2044h4v5h-4zM2443,2044h4v5h-4zM2469,2044h4v5h-4zM2250,2049h4v4h-4zM2284,2049h9v4h-9zM2370,2049h4v4h-4zM2400,2049h4v4h-4zM2426,2049h8v4h-8zM2439,2049h4v4h-4zM2451,2049h5v4h-5zM2460,2049h4v4h-4zM2250,2053h4v4h-4zM2259,2053h4v4h-4zM2374,2053h9v4h-9zM2387,2053h4v4h-4zM2421,2053h30v4h-30zM2460,2053h9v4h-9zM2370,2057h21v4h-21zM2400,2057h4v4h-4zM2413,2057h4v4h-4zM2426,2057h17v4h-17zM2447,2057h4v4h-4zM2250,2061h9v5h-9zM2280,2061h9v5h-9zM2361,2061h5v5h-5zM2370,2061h9v5h-9zM2383,2061h4v5h-4zM2396,2061h4v5h-4zM2409,2061h8v5h-8zM2434,2061h5v5h-5zM2443,2061h8v5h-8zM2254,2066h9v4h-9zM2284,2066h5v4h-5zM2331,2066h5v4h-5zM2361,2066h5v4h-5zM2374,2066h5v4h-5zM2391,2066h9v4h-9zM2417,2066h4v4h-4zM2426,2066h4v4h-4zM2439,2066h4v4h-4zM2280,2070h4v4h-4zM2366,2070h17v4h-17zM2396,2070h4v4h-4zM2284,2074h9v5h-9zM2374,2074h5v5h-5zM2383,2074h13v5h-13zM2400,2074h4v5h-4zM2284,2079h5v4h-5zM2361,2079h18v4h-18zM2391,2079h5v4h-5zM2404,2079h5v4h-5zM2284,2083h9v4h-9zM2353,2083h8v4h-8zM2370,2083h4v4h-4zM2396,2083h4v4h-4zM2404,2083h5v4h-5zM2280,2087h4v4h-4zM2353,2087h8v4h-8zM2366,2087h13v4h-13zM2383,2087h8v4h-8zM2404,2087h5v4h-5zM2267,2091h4v5h-4zM2280,2091h4v5h-4zM2314,2091h5v5h-5zM2353,2091h17v5h-17zM2263,2096h4v4h-4zM2310,2096h4v4h-4zM2353,2096h17v4h-17zM2383,2096h4v4h-4zM2263,2100h4v4h-4zM2353,2100h17v4h-17zM2400,2100h4v4h-4zM2344,2104h5v5h-5zM2353,2104h13v5h-13zM2254,2109h5v4h-5zM2349,2109h21v4h-21zM2250,2113h4v4h-4zM2301,2113h5v4h-5zM2344,2113h22v4h-22zM2370,2113h4v4h-4zM2246,2117h8v4h-8zM2297,2117h9v4h-9zM2331,2117h5v4h-5zM2340,2117h34v4h-34zM2499,2117h12v4h-12zM2246,2121h8v5h-8zM2323,2121h4v5h-4zM2336,2121h34v5h-34zM2486,2121h4v5h-4zM2246,2126h17v4h-17zM2331,2126h30v4h-30zM2241,2130h18v4h-18zM2301,2130h5v4h-5zM2323,2130h26v4h-26zM2353,2130h13v4h-13zM2486,2130h4v4h-4zM2241,2134h18v5h-18zM2293,2134h4v5h-4zM2310,2134h4v5h-4zM2319,2134h25v5h-25zM2353,2134h8v5h-8zM2481,2134h5v5h-5zM2233,2139h8v4h-8zM2246,2139h13v4h-13zM2271,2139h5v4h-5zM2280,2139h13v4h-13zM2297,2139h4v4h-4zM2310,2139h4v4h-4zM2319,2139h34v4h-34zM2241,2143h9v4h-9zM2259,2143h12v4h-12zM2284,2143h5v4h-5zM2310,2143h47v4h-47zM2229,2147h17v4h-17zM2254,2147h5v4h-5zM2280,2147h4v4h-4zM2306,2147h4v4h-4zM2314,2147h26v4h-26zM2344,2147h5v4h-5zM2237,2151h9v5h-9zM2314,2151h26v5h-26zM2344,2151h9v5h-9zM2229,2156h4v4h-4zM2310,2156h4v4h-4zM2319,2156h17v4h-17zM2233,2160h8v4h-8zM2310,2160h26v4h-26zM2340,2160h4v4h-4zM2233,2164h4v5h-4zM2314,2164h22v5h-22zM2224,2169h13v4h-13zM2314,2169h9v4h-9zM2657,2169h4v4h-4zM2229,2173h12v4h-12zM2310,2173h4v4h-4zM2319,2173h8v4h-8zM2631,2177h5v4h-5zM2301,2181h9v5h-9zM2314,2181h5v5h-5zM2619,2181h4v5h-4zM2220,2186h13v4h-13zM2297,2186h13v4h-13zM2614,2186h5v4h-5zM2220,2190h9v4h-9zM2293,2190h13v4h-13zM2310,2190h4v4h-4zM2451,2190h5v4h-5zM2220,2194h17v5h-17zM2293,2194h13v5h-13zM2310,2194h4v5h-4zM2229,2199h12v4h-12zM2289,2199h17v4h-17zM2473,2199h8v4h-8zM2224,2203h9v4h-9zM2237,2203h13v4h-13zM2284,2203h13v4h-13zM2229,2207h17v4h-17zM2259,2207h4v4h-4zM2267,2207h4v4h-4zM2276,2207h13v4h-13zM2293,2207h4v4h-4zM2580,2207h4v4h-4zM2233,2211h21v5h-21zM2259,2211h4v5h-4zM2267,2211h4v5h-4zM2233,2216h34v4h-34zM2276,2216h8v4h-8zM2237,2220h4v4h-4zM2246,2220h17v4h-17zM2271,2220h5v4h-5zM2263,2224h4v5h-4zM2254,2229h5v4h-5zM2323,2233h4v4h-4zM2383,2237h4v4h-4zM2396,2241h4v5h-4zM2563,2241h4v5h-4zM2374,2246h22v4h-22zM2374,2250h22v4h-22zM2379,2254h17v5h-17zM2057,2276h4v4h-4zM2370,2276h9v4h-9zM2473,2323h4v4h-4zM2293,2331h4v5h-4zM2336,2331h8v5h-8zM2481,2331h5v5h-5zM2336,2336h4v4h-4zM2490,2336h4v4h-4zM2481,2349h5v4h-5zM2481,2357h5v4h-5zM2434,2387h9v4h-9zM2417,2409h9v4h-9zM2336,2434h4v5h-4zM2379,2439h4v4h-4zM2224,2524h9v5h-9zM2169,2546h4v4h-4zM2117,2563h4v4h-4zM2104,2571h5v5h-5zM2104,2580h5v4h-5zM2100,2589h4v4h-4zM2100,2593h4v4h-4zM2121,2597h9v4h-9zM2121,2601h5v5h-5zM2096,2610h4v4h-4zM2100,2614h4v5h-4zM2091,2619h5v4h-5zM2061,2661h9v5h-9zM2027,2674h4v5h-4zM2019,2696h4v4h-4zM2027,2709h4v4h-4zM2036,2709h4v4h-4zM2031,2734h5v5h-5z" fill="#fcce25" shape-rendering="crispEdges"/>
<path d="M2181,651h5v5h-5zM2181,656h5v4h-5zM990,664h4v5h-4zM1800,741h4v5h-4zM1821,746h5v4h-5zM1830,754h4v5h-4zM1821,763h5v4h-5zM1809,767h4v4h-4zM1830,771h4v5h-4zM1843,771h4v5h-4zM1830,776h4v4h-4zM1834,780h5v4h-5zM1821,784h5v5h-5zM1059,797h4v4h-4zM1813,801h4v5h-4zM1834,819h9v4h-9zM1941,823h5v4h-5zM1873,827h4v4h-4zM1830,831h4v5h-4zM1851,831h5v5h-5zM1851,836h5v4h-5zM1860,836h4v4h-4zM1941,836h5v4h-5zM1843,840h4v4h-4zM1864,844h5v5h-5zM1851,849h5v4h-5zM1933,879h4v4h-4zM1127,887h4v4h-4zM1993,896h4v4h-4zM1706,951h4v5h-4zM1247,956h4v4h-4zM1697,956h9v4h-9zM1714,956h5v4h-5zM1727,956h4v4h-4zM1247,960h4v4h-4zM1693,960h13v4h-13zM1710,960h17v4h-17zM1693,964h34v5h-34zM1693,969h4v4h-4zM1701,969h30v4h-30zM1654,973h9v4h-9zM1697,973h30v4h-30zM1659,977h4v4h-4zM1680,977h4v4h-4zM1701,977h26v4h-26zM1689,981h30v5h-30zM2061,981h5v5h-5zM1676,986h4v4h-4zM1684,986h39v4h-39zM2079,986h8v4h-8zM2117,986h4v4h-4zM1680,990h43v4h-43zM2053,990h4v4h-4zM2070,990h13v4h-13zM2087,990h4v4h-4zM2096,990h13v4h-13zM2113,990h4v4h-4zM1676,994h34v5h-34zM2057,994h9v5h-9zM2074,994h17v5h-17zM2100,994h4v5h-4zM2109,994h4v5h-4zM2130,994h4v5h-4zM1671,999h39v4h-39zM2066,999h4v4h-4zM2079,999h4v4h-4zM2087,999h4v4h-4zM2113,999h4v4h-4zM2139,999h4v4h-4zM2147,999h4v4h-4zM1671,1003h39v4h-39zM2066,1003h4v4h-4zM2074,1003h5v4h-5zM2083,1003h8v4h-8zM2100,1003h4v4h-4zM2117,1003h4v4h-4zM2130,1003h4v4h-4zM1671,1007h35v4h-35zM2074,1007h13v4h-13zM2100,1007h4v4h-4zM1676,1011h34v5h-34zM2066,1011h13v5h-13zM2087,1011h4v5h-4zM1663,1016h34v4h-34zM1701,1016h5v4h-5zM2199,1016h8v4h-8zM2220,1016h4v4h-4zM1663,1020h38v4h-38zM2027,1020h9v4h-9zM2040,1020h4v4h-4zM2070,1020h21v4h-21zM2109,1020h4v4h-4zM2117,1020h9v4h-9zM2134,1020h5v4h-5zM2173,1020h4v4h-4zM2207,1020h4v4h-4zM1663,1024h30v5h-30zM2040,1024h13v5h-13zM2057,1024h9v5h-9zM2079,1024h4v5h-4zM2130,1024h4v5h-4zM2169,1024h4v5h-4zM2199,1024h4v5h-4zM2207,1024h13v5h-13zM1663,1029h13v4h-13zM1684,1029h9v4h-9zM2027,1029h4v4h-4zM2040,1029h17v4h-17zM2061,1029h9v4h-9zM2074,1029h9v4h-9zM2087,1029h9v4h-9zM2199,1029h4v4h-4zM2211,1029h5v4h-5zM1659,1033h17v4h-17zM1680,1033h13v4h-13zM2091,1033h5v4h-5zM2216,1033h4v4h-4zM1650,1037h9v4h-9zM1663,1037h4v4h-4zM1671,1037h5v4h-5zM1646,1041h25v5h-25zM2109,1041h4v5h-4zM1646,1046h21v4h-21zM1650,1050h9v4h-9zM1663,1050h4v4h-4zM1646,1054h21v5h-21zM1650,1059h17v4h-17zM2293,1213h4v4h-4zM2361,1213h5v4h-5zM2323,1226h4v4h-4zM2323,1234h4v5h-4zM2331,1234h5v5h-5zM2130,1294h4v5h-4zM2117,1311h4v5h-4zM2126,1311h8v5h-8zM2113,1316h4v4h-4zM2139,1316h4v4h-4zM2126,1324h8v5h-8zM2121,1329h9v4h-9zM2241,1329h5v4h-5zM2254,1329h5v4h-5zM2267,1329h4v4h-4zM2121,1333h5v4h-5zM2229,1333h4v4h-4zM2237,1333h4v4h-4zM2254,1333h17v4h-17zM2031,1337h5v4h-5zM2117,1337h4v4h-4zM2220,1337h4v4h-4zM2237,1337h4v4h-4zM2250,1337h9v4h-9zM2263,1337h4v4h-4zM2280,1337h4v4h-4zM2023,1341h8v5h-8zM2036,1341h4v5h-4zM2113,1341h4v5h-4zM2121,1341h5v5h-5zM2220,1341h4v5h-4zM2237,1341h4v5h-4zM2250,1341h13v5h-13zM2267,1341h9v5h-9zM2280,1341h4v5h-4zM2113,1346h4v4h-4zM2224,1346h17v4h-17zM2246,1346h30v4h-30zM2280,1346h4v4h-4zM2490,1346h4v4h-4zM2524,1346h5v4h-5zM2533,1346h4v4h-4zM2541,1346h5v4h-5zM2023,1350h4v4h-4zM2040,1350h4v4h-4zM2109,1350h8v4h-8zM2216,1350h4v4h-4zM2229,1350h17v4h-17zM2250,1350h21v4h-21zM2494,1350h5v4h-5zM2511,1350h5v4h-5zM2520,1350h4v4h-4zM2529,1350h8v4h-8zM2546,1350h4v4h-4zM2027,1354h4v5h-4zM2211,1354h35v5h-35zM2250,1354h21v5h-21zM2280,1354h4v5h-4zM2503,1354h4v5h-4zM2546,1354h8v5h-8zM2031,1359h5v4h-5zM2104,1359h5v4h-5zM2220,1359h4v4h-4zM2229,1359h25v4h-25zM2259,1359h4v4h-4zM2271,1359h5v4h-5zM2293,1359h4v4h-4zM2301,1359h5v4h-5zM2019,1363h4v4h-4zM2040,1363h4v4h-4zM2216,1363h8v4h-8zM2229,1363h17v4h-17zM2297,1363h4v4h-4zM2306,1363h4v4h-4zM2027,1367h4v4h-4zM2036,1367h4v4h-4zM2211,1367h5v4h-5zM2220,1367h9v4h-9zM2233,1367h4v4h-4zM2246,1367h4v4h-4zM2254,1367h5v4h-5zM2310,1367h4v4h-4zM2027,1371h9v5h-9zM2087,1371h4v5h-4zM2100,1371h4v5h-4zM2207,1371h9v5h-9zM2224,1371h22v5h-22zM2314,1371h5v5h-5zM2096,1376h4v4h-4zM2211,1376h35v4h-35zM2250,1376h4v4h-4zM2023,1380h4v4h-4zM2139,1380h4v4h-4zM2147,1380h9v4h-9zM2160,1380h4v4h-4zM2207,1380h17v4h-17zM2229,1380h4v4h-4zM2241,1380h5v4h-5zM2250,1380h4v4h-4zM2139,1384h8v5h-8zM2156,1384h4v5h-4zM2173,1384h4v5h-4zM2186,1384h8v5h-8zM2199,1384h4v5h-4zM2216,1384h8v5h-8zM2229,1384h12v5h-12zM2319,1384h8v5h-8zM2023,1389h4v4h-4zM2031,1389h5v4h-5zM2121,1389h5v4h-5zM2130,1389h9v4h-9zM2151,1389h9v4h-9zM2181,1389h35v4h-35zM2220,1389h9v4h-9zM2233,1389h17v4h-17zM2323,1389h4v4h-4zM2027,1393h4v4h-4zM2117,1393h4v4h-4zM2130,1393h4v4h-4zM2139,1393h4v4h-4zM2147,1393h4v4h-4zM2156,1393h4v4h-4zM2164,1393h9v4h-9zM2177,1393h13v4h-13zM2194,1393h13v4h-13zM2220,1393h4v4h-4zM2229,1393h17v4h-17zM2031,1397h5v4h-5zM2109,1397h21v4h-21zM2151,1397h5v4h-5zM2190,1397h4v4h-4zM2199,1397h4v4h-4zM2207,1397h30v4h-30zM2250,1397h9v4h-9zM2031,1401h5v5h-5zM2096,1401h4v5h-4zM2104,1401h5v5h-5zM2126,1401h4v5h-4zM2177,1401h4v5h-4zM2190,1401h13v5h-13zM2220,1401h13v5h-13zM2241,1401h5v5h-5zM2027,1406h4v4h-4zM2096,1406h4v4h-4zM2109,1406h8v4h-8zM2126,1406h4v4h-4zM2134,1406h5v4h-5zM2173,1406h4v4h-4zM2186,1406h4v4h-4zM2194,1406h9v4h-9zM2207,1406h9v4h-9zM2220,1406h9v4h-9zM2233,1406h4v4h-4zM2241,1406h9v4h-9zM2023,1410h4v4h-4zM2070,1410h4v4h-4zM2104,1410h9v4h-9zM2121,1410h9v4h-9zM2134,1410h5v4h-5zM2173,1410h4v4h-4zM2181,1410h13v4h-13zM2199,1410h4v4h-4zM2220,1410h4v4h-4zM2229,1410h4v4h-4zM2237,1410h17v4h-17zM2023,1414h8v5h-8zM2074,1414h5v5h-5zM2091,1414h9v5h-9zM2104,1414h5v5h-5zM2113,1414h8v5h-8zM2147,1414h4v5h-4zM2181,1414h5v5h-5zM2199,1414h4v5h-4zM2220,1414h26v5h-26zM2250,1414h9v5h-9zM2323,1414h4v5h-4zM2091,1419h5v4h-5zM2100,1419h9v4h-9zM2130,1419h4v4h-4zM2169,1419h4v4h-4zM2190,1419h21v4h-21zM2216,1419h30v4h-30zM2254,1419h5v4h-5zM2331,1419h5v4h-5zM2023,1423h4v4h-4zM2061,1423h5v4h-5zM2074,1423h5v4h-5zM2130,1423h4v4h-4zM2169,1423h12v4h-12zM2194,1423h17v4h-17zM2216,1423h38v4h-38zM2259,1423h4v4h-4zM2019,1427h8v4h-8zM2066,1427h17v4h-17zM2087,1427h4v4h-4zM2096,1427h4v4h-4zM2151,1427h5v4h-5zM2160,1427h4v4h-4zM2169,1427h4v4h-4zM2181,1427h5v4h-5zM2190,1427h30v4h-30zM2229,1427h4v4h-4zM2237,1427h13v4h-13zM2254,1427h5v4h-5zM2327,1427h4v4h-4zM2014,1431h5v5h-5zM2053,1431h34v5h-34zM2091,1431h5v5h-5zM2164,1431h5v5h-5zM2181,1431h22v5h-22zM2220,1431h17v5h-17zM2241,1431h18v5h-18zM2263,1431h4v5h-4zM2014,1436h9v4h-9zM2053,1436h17v4h-17zM2074,1436h9v4h-9zM2087,1436h4v4h-4zM2104,1436h5v4h-5zM2113,1436h4v4h-4zM2147,1436h9v4h-9zM2160,1436h4v4h-4zM2173,1436h34v4h-34zM2216,1436h4v4h-4zM2229,1436h4v4h-4zM2241,1436h5v4h-5zM2250,1436h9v4h-9zM2327,1436h9v4h-9zM2044,1440h5v4h-5zM2053,1440h13v4h-13zM2079,1440h8v4h-8zM2096,1440h4v4h-4zM2104,1440h5v4h-5zM2130,1440h4v4h-4zM2147,1440h4v4h-4zM2156,1440h17v4h-17zM2177,1440h9v4h-9zM2190,1440h4v4h-4zM2199,1440h64v4h-64zM2006,1444h4v5h-4zM2044,1444h5v5h-5zM2061,1444h18v5h-18zM2083,1444h8v5h-8zM2156,1444h4v5h-4zM2164,1444h22v5h-22zM2194,1444h5v5h-5zM2203,1444h8v5h-8zM2216,1444h13v5h-13zM2237,1444h26v5h-26zM2267,1444h9v5h-9zM2331,1444h5v5h-5zM2001,1449h5v4h-5zM2031,1449h5v4h-5zM2040,1449h9v4h-9zM2053,1449h4v4h-4zM2070,1449h17v4h-17zM2130,1449h9v4h-9zM2143,1449h4v4h-4zM2156,1449h13v4h-13zM2173,1449h13v4h-13zM2194,1449h35v4h-35zM2237,1449h9v4h-9zM2254,1449h9v4h-9zM2267,1449h4v4h-4zM2323,1449h8v4h-8zM2061,1453h5v4h-5zM2087,1453h9v4h-9zM2100,1453h4v4h-4zM2113,1453h4v4h-4zM2121,1453h5v4h-5zM2147,1453h26v4h-26zM2186,1453h4v4h-4zM2194,1453h43v4h-43zM2241,1453h5v4h-5zM2250,1453h17v4h-17zM2271,1453h5v4h-5zM2023,1457h4v4h-4zM2044,1457h5v4h-5zM2053,1457h4v4h-4zM2087,1457h4v4h-4zM2113,1457h43v4h-43zM2164,1457h9v4h-9zM2177,1457h9v4h-9zM2190,1457h4v4h-4zM2203,1457h30v4h-30zM2237,1457h26v4h-26zM2019,1461h4v5h-4zM2031,1461h5v5h-5zM2040,1461h4v5h-4zM2087,1461h9v5h-9zM2104,1461h5v5h-5zM2117,1461h34v5h-34zM2156,1461h13v5h-13zM2173,1461h4v5h-4zM2181,1461h52v5h-52zM2237,1461h9v5h-9zM2250,1461h17v5h-17zM2271,1461h13v5h-13zM2289,1461h4v5h-4zM2014,1466h5v4h-5zM2023,1466h4v4h-4zM2036,1466h4v4h-4zM2096,1466h8v4h-8zM2117,1466h17v4h-17zM2139,1466h21v4h-21zM2164,1466h30v4h-30zM2199,1466h4v4h-4zM2207,1466h9v4h-9zM2220,1466h30v4h-30zM2254,1466h30v4h-30zM2289,1466h4v4h-4zM2310,1466h4v4h-4zM2006,1470h8v4h-8zM2019,1470h4v4h-4zM2117,1470h4v4h-4zM2130,1470h4v4h-4zM2139,1470h21v4h-21zM2169,1470h25v4h-25zM2199,1470h8v4h-8zM2211,1470h13v4h-13zM2233,1470h4v4h-4zM2241,1470h9v4h-9zM2254,1470h30v4h-30zM2289,1470h8v4h-8zM1997,1474h9v5h-9zM2023,1474h4v5h-4zM2031,1474h5v5h-5zM2044,1474h5v5h-5zM2134,1474h35v5h-35zM2173,1474h21v5h-21zM2199,1474h30v5h-30zM2237,1474h4v5h-4zM2246,1474h25v5h-25zM2289,1474h4v5h-4zM1989,1479h12v4h-12zM2006,1479h13v4h-13zM2027,1479h4v4h-4zM2036,1479h4v4h-4zM2049,1479h4v4h-4zM2070,1479h4v4h-4zM2134,1479h30v4h-30zM2169,1479h25v4h-25zM2199,1479h34v4h-34zM2237,1479h9v4h-9zM2254,1479h5v4h-5zM2263,1479h8v4h-8zM2280,1479h4v4h-4zM2306,1479h4v4h-4zM2323,1479h4v4h-4zM2001,1483h22v4h-22zM2027,1483h13v4h-13zM2049,1483h4v4h-4zM2057,1483h4v4h-4zM2083,1483h4v4h-4zM2139,1483h4v4h-4zM2151,1483h5v4h-5zM2160,1483h9v4h-9zM2181,1483h26v4h-26zM2211,1483h13v4h-13zM2229,1483h12v4h-12zM2250,1483h13v4h-13zM2271,1483h5v4h-5zM2306,1483h13v4h-13zM2327,1483h4v4h-4zM1997,1487h13v4h-13zM2014,1487h9v4h-9zM2027,1487h4v4h-4zM2036,1487h8v4h-8zM2049,1487h4v4h-4zM2057,1487h13v4h-13zM2074,1487h9v4h-9zM2091,1487h5v4h-5zM2156,1487h4v4h-4zM2169,1487h94v4h-94zM2267,1487h9v4h-9zM2293,1487h4v4h-4zM2314,1487h5v4h-5zM2323,1487h13v4h-13zM1989,1491h4v5h-4zM2006,1491h8v5h-8zM2023,1491h21v5h-21zM2049,1491h4v5h-4zM2057,1491h4v5h-4zM2074,1491h5v5h-5zM2091,1491h9v5h-9zM2143,1491h4v5h-4zM2151,1491h26v5h-26zM2186,1491h4v5h-4zM2194,1491h22v5h-22zM2220,1491h43v5h-43zM2289,1491h38v5h-38zM2331,1491h5v5h-5zM2340,1491h4v5h-4zM1997,1496h4v4h-4zM2006,1496h4v4h-4zM2019,1496h4v4h-4zM2031,1496h9v4h-9zM2049,1496h30v4h-30zM2083,1496h4v4h-4zM2091,1496h5v4h-5zM2104,1496h5v4h-5zM2151,1496h13v4h-13zM2169,1496h12v4h-12zM2186,1496h8v4h-8zM2199,1496h17v4h-17zM2220,1496h17v4h-17zM2241,1496h35v4h-35zM2297,1496h4v4h-4zM2306,1496h8v4h-8zM2319,1496h4v4h-4zM2327,1496h17v4h-17zM2349,1496h4v4h-4zM2019,1500h12v4h-12zM2036,1500h8v4h-8zM2049,1500h12v4h-12zM2066,1500h25v4h-25zM2096,1500h8v4h-8zM2113,1500h4v4h-4zM2147,1500h9v4h-9zM2160,1500h9v4h-9zM2173,1500h17v4h-17zM2194,1500h22v4h-22zM2220,1500h9v4h-9zM2233,1500h13v4h-13zM2250,1500h13v4h-13zM2289,1500h4v4h-4zM2301,1500h35v4h-35zM2340,1500h21v4h-21zM2014,1504h9v5h-9zM2036,1504h4v5h-4zM2044,1504h30v5h-30zM2079,1504h12v5h-12zM2096,1504h4v5h-4zM2109,1504h4v5h-4zM2121,1504h5v5h-5zM2143,1504h8v5h-8zM2156,1504h4v5h-4zM2169,1504h4v5h-4zM2177,1504h17v5h-17zM2199,1504h8v5h-8zM2211,1504h18v5h-18zM2233,1504h34v5h-34zM2284,1504h22v5h-22zM2310,1504h9v5h-9zM2323,1504h17v5h-17zM2349,1504h4v5h-4zM2361,1504h5v5h-5zM2040,1509h30v4h-30zM2074,1509h5v4h-5zM2083,1509h4v4h-4zM2091,1509h26v4h-26zM2160,1509h13v4h-13zM2177,1509h9v4h-9zM2190,1509h4v4h-4zM2199,1509h12v4h-12zM2220,1509h30v4h-30zM2254,1509h5v4h-5zM2263,1509h4v4h-4zM2271,1509h5v4h-5zM2280,1509h4v4h-4zM2289,1509h4v4h-4zM2297,1509h52v4h-52zM2036,1513h4v4h-4zM2044,1513h5v4h-5zM2053,1513h4v4h-4zM2061,1513h22v4h-22zM2087,1513h4v4h-4zM2096,1513h4v4h-4zM2109,1513h4v4h-4zM2117,1513h13v4h-13zM2134,1513h5v4h-5zM2143,1513h13v4h-13zM2164,1513h13v4h-13zM2181,1513h13v4h-13zM2199,1513h60v4h-60zM2271,1513h69v4h-69zM2344,1513h13v4h-13zM2366,1513h4v4h-4zM2631,1513h5v4h-5zM2057,1517h4v4h-4zM2066,1517h30v4h-30zM2104,1517h35v4h-35zM2143,1517h17v4h-17zM2164,1517h5v4h-5zM2173,1517h13v4h-13zM2194,1517h35v4h-35zM2233,1517h17v4h-17zM2254,1517h9v4h-9zM2267,1517h39v4h-39zM2310,1517h4v4h-4zM2319,1517h17v4h-17zM2349,1517h12v4h-12zM2370,1517h4v4h-4zM2053,1521h17v5h-17zM2074,1521h43v5h-43zM2121,1521h9v5h-9zM2134,1521h9v5h-9zM2147,1521h56v5h-56zM2207,1521h4v5h-4zM2216,1521h4v5h-4zM2224,1521h35v5h-35zM2263,1521h73v5h-73zM2340,1521h4v5h-4zM2349,1521h17v5h-17zM2370,1521h4v5h-4zM2640,1521h9v5h-9zM2053,1526h4v4h-4zM2066,1526h4v4h-4zM2074,1526h9v4h-9zM2100,1526h26v4h-26zM2130,1526h13v4h-13zM2147,1526h22v4h-22zM2177,1526h13v4h-13zM2194,1526h9v4h-9zM2207,1526h30v4h-30zM2241,1526h52v4h-52zM2297,1526h64v4h-64zM2374,1526h5v4h-5zM2631,1526h5v4h-5zM2640,1526h4v4h-4zM1907,1530h4v4h-4zM2074,1530h13v4h-13zM2091,1530h35v4h-35zM2130,1530h43v4h-43zM2177,1530h4v4h-4zM2186,1530h8v4h-8zM2199,1530h4v4h-4zM2207,1530h9v4h-9zM2220,1530h9v4h-9zM2246,1530h21v4h-21zM2276,1530h43v4h-43zM2323,1530h13v4h-13zM2340,1530h4v4h-4zM2349,1530h21v4h-21zM2627,1530h4v4h-4zM2061,1534h26v5h-26zM2091,1534h60v5h-60zM2156,1534h17v5h-17zM2177,1534h4v5h-4zM2186,1534h13v5h-13zM2203,1534h4v5h-4zM2211,1534h22v5h-22zM2241,1534h22v5h-22zM2267,1534h60v5h-60zM2331,1534h13v5h-13zM2349,1534h12v5h-12zM2366,1534h8v5h-8zM2627,1534h9v5h-9zM2644,1534h5v5h-5zM2083,1539h26v4h-26zM2113,1539h4v4h-4zM2121,1539h35v4h-35zM2160,1539h21v4h-21zM2190,1539h13v4h-13zM2207,1539h4v4h-4zM2216,1539h4v4h-4zM2224,1539h9v4h-9zM2237,1539h4v4h-4zM2246,1539h73v4h-73zM2323,1539h4v4h-4zM2336,1539h4v4h-4zM2344,1539h30v4h-30zM2379,1539h4v4h-4zM2636,1539h4v4h-4zM1903,1543h8v4h-8zM2079,1543h4v4h-4zM2091,1543h9v4h-9zM2104,1543h17v4h-17zM2126,1543h21v4h-21zM2151,1543h39v4h-39zM2199,1543h21v4h-21zM2224,1543h35v4h-35zM2263,1543h8v4h-8zM2280,1543h30v4h-30zM2314,1543h17v4h-17zM2336,1543h13v4h-13zM2353,1543h8v4h-8zM2366,1543h13v4h-13zM2653,1543h4v4h-4zM1903,1547h4v4h-4zM2087,1547h60v4h-60zM2151,1547h13v4h-13zM2169,1547h8v4h-8zM2186,1547h4v4h-4zM2199,1547h21v4h-21zM2224,1547h43v4h-43zM2271,1547h13v4h-13zM2289,1547h72v4h-72zM2366,1547h13v4h-13zM2383,1547h4v4h-4zM2631,1547h5v4h-5zM2649,1547h4v4h-4zM2083,1551h4v5h-4zM2091,1551h13v5h-13zM2109,1551h12v5h-12zM2130,1551h4v5h-4zM2139,1551h25v5h-25zM2173,1551h4v5h-4zM2181,1551h5v5h-5zM2190,1551h21v5h-21zM2216,1551h4v5h-4zM2224,1551h5v5h-5zM2233,1551h64v5h-64zM2301,1551h73v5h-73zM2379,1551h8v5h-8zM2091,1556h9v4h-9zM2117,1556h26v4h-26zM2151,1556h22v4h-22zM2186,1556h4v4h-4zM2194,1556h22v4h-22zM2220,1556h17v4h-17zM2241,1556h60v4h-60zM2306,1556h68v4h-68zM2387,1556h4v4h-4zM1894,1560h5v4h-5zM2096,1560h8v4h-8zM2109,1560h8v4h-8zM2121,1560h13v4h-13zM2147,1560h4v4h-4zM2156,1560h4v4h-4zM2169,1560h4v4h-4zM2177,1560h13v4h-13zM2194,1560h5v4h-5zM2203,1560h17v4h-17zM2229,1560h8v4h-8zM2241,1560h86v4h-86zM2331,1560h39v4h-39zM2374,1560h22v4h-22zM2104,1564h5v5h-5zM2113,1564h4v5h-4zM2139,1564h4v5h-4zM2147,1564h4v5h-4zM2164,1564h5v5h-5zM2173,1564h43v5h-43zM2220,1564h124v5h-124zM2349,1564h30v5h-30zM2383,1564h13v5h-13zM2096,1569h8v4h-8zM2134,1569h5v4h-5zM2151,1569h9v4h-9zM2169,1569h34v4h-34zM2207,1569h17v4h-17zM2229,1569h38v4h-38zM2271,1569h26v4h-26zM2301,1569h9v4h-9zM2314,1569h43v4h-43zM2361,1569h35v4h-35zM2151,1573h9v4h-9zM2164,1573h5v4h-5zM2173,1573h13v4h-13zM2190,1573h30v4h-30zM2224,1573h77v4h-77zM2310,1573h9v4h-9zM2327,1573h60v4h-60zM2400,1573h4v4h-4zM2151,1577h5v4h-5zM2160,1577h17v4h-17zM2181,1577h35v4h-35zM2220,1577h26v4h-26zM2250,1577h34v4h-34zM2289,1577h81v4h-81zM2374,1577h30v4h-30zM2421,1577h9v4h-9zM1924,1581h5v5h-5zM2164,1581h9v5h-9zM2177,1581h9v5h-9zM2190,1581h39v5h-39zM2233,1581h77v5h-77zM2314,1581h5v5h-5zM2323,1581h81v5h-81zM2413,1581h4v5h-4zM2426,1581h4v5h-4zM2464,1581h9v5h-9zM2481,1581h5v5h-5zM2156,1586h30v4h-30zM2190,1586h9v4h-9zM2203,1586h103v4h-103zM2310,1586h26v4h-26zM2340,1586h21v4h-21zM2366,1586h8v4h-8zM2379,1586h17v4h-17zM2400,1586h13v4h-13zM2417,1586h4v4h-4zM2426,1586h8v4h-8zM2443,1586h4v4h-4zM2451,1586h5v4h-5zM2460,1586h26v4h-26zM2151,1590h5v4h-5zM2169,1590h42v4h-42zM2216,1590h17v4h-17zM2237,1590h13v4h-13zM2254,1590h82v4h-82zM2340,1590h94v4h-94zM2439,1590h4v4h-4zM2447,1590h34v4h-34zM2151,1594h5v5h-5zM2160,1594h13v5h-13zM2181,1594h5v5h-5zM2190,1594h13v5h-13zM2207,1594h17v5h-17zM2229,1594h25v5h-25zM2263,1594h90v5h-90zM2357,1594h60v5h-60zM2426,1594h47v5h-47zM2477,1594h9v5h-9zM2151,1599h9v4h-9zM2164,1599h13v4h-13zM2186,1599h34v4h-34zM2224,1599h9v4h-9zM2237,1599h73v4h-73zM2319,1599h51v4h-51zM2374,1599h5v4h-5zM2383,1599h13v4h-13zM2400,1599h30v4h-30zM2434,1599h5v4h-5zM2443,1599h34v4h-34zM2160,1603h4v4h-4zM2181,1603h13v4h-13zM2199,1603h12v4h-12zM2216,1603h77v4h-77zM2297,1603h13v4h-13zM2314,1603h26v4h-26zM2344,1603h52v4h-52zM2400,1603h9v4h-9zM2417,1603h4v4h-4zM2430,1603h4v4h-4zM2439,1603h4v4h-4zM2447,1603h30v4h-30zM2649,1603h4v4h-4zM2151,1607h9v4h-9zM2164,1607h5v4h-5zM2173,1607h4v4h-4zM2181,1607h26v4h-26zM2211,1607h9v4h-9zM2224,1607h43v4h-43zM2271,1607h22v4h-22zM2297,1607h26v4h-26zM2327,1607h4v4h-4zM2336,1607h25v4h-25zM2366,1607h21v4h-21zM2391,1607h35v4h-35zM2434,1607h9v4h-9zM2447,1607h22v4h-22zM2649,1607h4v4h-4zM2164,1611h5v5h-5zM2181,1611h5v5h-5zM2190,1611h17v5h-17zM2211,1611h9v5h-9zM2224,1611h13v5h-13zM2241,1611h30v5h-30zM2280,1611h34v5h-34zM2319,1611h8v5h-8zM2331,1611h48v5h-48zM2387,1611h30v5h-30zM2421,1611h18v5h-18zM2443,1611h8v5h-8zM2473,1611h4v5h-4zM2576,1611h4v5h-4zM2653,1611h4v5h-4zM2160,1616h4v4h-4zM2169,1616h17v4h-17zM2190,1616h17v4h-17zM2211,1616h30v4h-30zM2246,1616h4v4h-4zM2254,1616h5v4h-5zM2263,1616h21v4h-21zM2289,1616h38v4h-38zM2331,1616h18v4h-18zM2353,1616h4v4h-4zM2366,1616h51v4h-51zM2426,1616h17v4h-17zM2447,1616h13v4h-13zM2469,1616h4v4h-4zM2173,1620h47v4h-47zM2224,1620h99v4h-99zM2327,1620h9v4h-9zM2344,1620h69v4h-69zM2417,1620h26v4h-26zM2451,1620h13v4h-13zM2181,1624h13v5h-13zM2199,1624h8v5h-8zM2211,1624h48v5h-48zM2263,1624h4v5h-4zM2271,1624h30v5h-30zM2306,1624h8v5h-8zM2319,1624h47v5h-47zM2370,1624h4v5h-4zM2379,1624h25v5h-25zM2409,1624h17v5h-17zM2430,1624h17v5h-17zM2451,1624h9v5h-9zM2576,1624h4v5h-4zM2653,1624h4v5h-4zM2190,1629h30v4h-30zM2224,1629h43v4h-43zM2271,1629h18v4h-18zM2293,1629h43v4h-43zM2340,1629h43v4h-43zM2387,1629h17v4h-17zM2409,1629h8v4h-8zM2421,1629h30v4h-30zM2584,1629h5v4h-5zM2181,1633h35v4h-35zM2220,1633h17v4h-17zM2241,1633h39v4h-39zM2284,1633h5v4h-5zM2293,1633h13v4h-13zM2310,1633h43v4h-43zM2357,1633h17v4h-17zM2379,1633h21v4h-21zM2404,1633h17v4h-17zM2426,1633h8v4h-8zM2580,1633h4v4h-4zM2653,1633h4v4h-4zM2186,1637h4v4h-4zM2199,1637h8v4h-8zM2211,1637h5v4h-5zM2220,1637h47v4h-47zM2276,1637h43v4h-43zM2323,1637h34v4h-34zM2361,1637h39v4h-39zM2404,1637h17v4h-17zM2426,1637h4v4h-4zM2580,1637h4v4h-4zM2177,1641h4v5h-4zM2186,1641h60v5h-60zM2250,1641h30v5h-30zM2284,1641h5v5h-5zM2297,1641h4v5h-4zM2310,1641h4v5h-4zM2319,1641h4v5h-4zM2327,1641h9v5h-9zM2340,1641h17v5h-17zM2361,1641h9v5h-9zM2374,1641h13v5h-13zM2391,1641h26v5h-26zM2421,1641h5v5h-5zM2177,1646h39v4h-39zM2220,1646h9v4h-9zM2233,1646h43v4h-43zM2280,1646h13v4h-13zM2297,1646h47v4h-47zM2349,1646h4v4h-4zM2357,1646h56v4h-56zM2421,1646h5v4h-5zM2520,1646h4v4h-4zM2576,1646h4v4h-4zM2177,1650h4v4h-4zM2186,1650h4v4h-4zM2194,1650h30v4h-30zM2241,1650h5v4h-5zM2250,1650h9v4h-9zM2263,1650h47v4h-47zM2319,1650h60v4h-60zM2383,1650h21v4h-21zM2409,1650h12v4h-12zM2576,1650h8v4h-8zM2181,1654h5v5h-5zM2190,1654h26v5h-26zM2229,1654h4v5h-4zM2241,1654h35v5h-35zM2280,1654h4v5h-4zM2289,1654h25v5h-25zM2319,1654h25v5h-25zM2349,1654h21v5h-21zM2374,1654h30v5h-30zM2409,1654h8v5h-8zM2679,1654h4v5h-4zM2177,1659h13v4h-13zM2194,1659h5v4h-5zM2203,1659h17v4h-17zM2233,1659h21v4h-21zM2259,1659h17v4h-17zM2280,1659h17v4h-17zM2301,1659h30v4h-30zM2336,1659h4v4h-4zM2344,1659h9v4h-9zM2357,1659h17v4h-17zM2379,1659h34v4h-34zM2421,1659h5v4h-5zM2576,1659h4v4h-4zM2186,1663h13v4h-13zM2203,1663h4v4h-4zM2211,1663h9v4h-9zM2237,1663h4v4h-4zM2246,1663h8v4h-8zM2259,1663h42v4h-42zM2306,1663h25v4h-25zM2336,1663h68v4h-68zM2679,1663h4v4h-4zM2190,1667h4v4h-4zM2203,1667h4v4h-4zM2216,1667h4v4h-4zM2233,1667h4v4h-4zM2241,1667h56v4h-56zM2306,1667h21v4h-21zM2331,1667h9v4h-9zM2344,1667h52v4h-52zM2400,1667h4v4h-4zM2576,1667h8v4h-8zM2593,1667h4v4h-4zM2679,1667h4v4h-4zM2203,1671h4v5h-4zM2229,1671h21v5h-21zM2254,1671h77v5h-77zM2344,1671h30v5h-30zM2379,1671h21v5h-21zM2533,1671h4v5h-4zM2576,1671h4v5h-4zM2186,1676h4v4h-4zM2194,1676h13v4h-13zM2224,1676h5v4h-5zM2233,1676h8v4h-8zM2246,1676h17v4h-17zM2267,1676h69v4h-69zM2340,1676h4v4h-4zM2349,1676h42v4h-42zM2396,1676h13v4h-13zM2233,1680h68v4h-68zM2306,1680h4v4h-4zM2319,1680h12v4h-12zM2336,1680h30v4h-30zM2370,1680h21v4h-21zM2417,1680h9v4h-9zM2589,1680h4v4h-4zM2233,1684h4v5h-4zM2241,1684h5v5h-5zM2250,1684h34v5h-34zM2289,1684h55v5h-55zM2349,1684h34v5h-34zM2516,1684h4v5h-4zM2580,1684h4v5h-4zM2224,1689h5v4h-5zM2237,1689h73v4h-73zM2314,1689h56v4h-56zM2374,1689h13v4h-13zM2576,1689h4v4h-4zM2224,1693h22v4h-22zM2250,1693h13v4h-13zM2267,1693h4v4h-4zM2280,1693h13v4h-13zM2297,1693h43v4h-43zM2344,1693h9v4h-9zM2361,1693h13v4h-13zM2379,1693h4v4h-4zM2391,1693h5v4h-5zM2443,1693h4v4h-4zM2224,1697h9v4h-9zM2241,1697h9v4h-9zM2254,1697h56v4h-56zM2314,1697h5v4h-5zM2323,1697h4v4h-4zM2331,1697h18v4h-18zM2353,1697h26v4h-26zM2224,1701h65v5h-65zM2306,1701h8v5h-8zM2323,1701h17v5h-17zM2344,1701h22v5h-22zM2370,1701h9v5h-9zM2576,1701h4v5h-4zM2224,1706h5v4h-5zM2233,1706h60v4h-60zM2297,1706h82v4h-82zM2541,1706h5v4h-5zM2576,1706h4v4h-4zM2220,1710h154v4h-154zM2417,1710h4v4h-4zM2571,1710h9v4h-9zM2653,1710h4v4h-4zM2229,1714h17v5h-17zM2250,1714h17v5h-17zM2271,1714h5v5h-5zM2280,1714h4v5h-4zM2289,1714h17v5h-17zM2310,1714h56v5h-56zM2400,1714h4v5h-4zM2653,1714h4v5h-4zM2229,1719h120v4h-120zM2357,1719h4v4h-4zM2559,1719h4v4h-4zM2576,1719h4v4h-4zM2601,1719h5v4h-5zM2653,1719h4v4h-4zM2216,1723h4v4h-4zM2224,1723h82v4h-82zM2314,1723h35v4h-35zM2357,1723h9v4h-9zM2383,1723h4v4h-4zM2224,1727h52v4h-52zM2284,1727h43v4h-43zM2331,1727h5v4h-5zM2340,1727h13v4h-13zM2413,1727h4v4h-4zM2649,1727h4v4h-4zM2224,1731h30v5h-30zM2259,1731h68v5h-68zM2336,1731h8v5h-8zM2353,1731h8v5h-8zM2216,1736h4v4h-4zM2224,1736h35v4h-35zM2263,1736h26v4h-26zM2293,1736h4v4h-4zM2301,1736h13v4h-13zM2319,1736h30v4h-30zM2211,1740h5v4h-5zM2224,1740h22v4h-22zM2250,1740h43v4h-43zM2297,1740h4v4h-4zM2306,1740h21v4h-21zM2336,1740h4v4h-4zM2649,1740h4v4h-4zM2216,1744h8v5h-8zM2229,1744h25v5h-25zM2259,1744h17v5h-17zM2280,1744h34v5h-34zM2349,1744h4v5h-4zM2426,1744h4v5h-4zM2644,1744h5v5h-5zM2211,1749h5v4h-5zM2220,1749h21v4h-21zM2263,1749h8v4h-8zM2276,1749h8v4h-8zM2289,1749h4v4h-4zM2297,1749h4v4h-4zM2306,1749h4v4h-4zM2319,1749h4v4h-4zM2327,1749h4v4h-4zM2636,1749h4v4h-4zM2216,1753h34v4h-34zM2254,1753h5v4h-5zM2263,1753h26v4h-26zM2306,1753h4v4h-4zM2323,1753h4v4h-4zM2636,1753h4v4h-4zM2224,1757h5v4h-5zM2237,1757h4v4h-4zM2246,1757h8v4h-8zM2259,1757h21v4h-21zM2310,1757h4v4h-4zM2319,1757h4v4h-4zM2631,1757h5v4h-5zM2276,1761h4v5h-4zM2636,1761h4v5h-4zM2379,1770h4v4h-4zM2391,1770h5v4h-5zM2404,1770h5v4h-5zM2387,1774h4v5h-4zM2619,1787h4v4h-4zM2623,1791h4v5h-4zM2370,1800h4v4h-4zM2417,1800h4v4h-4zM2610,1800h4v4h-4zM2610,1804h4v5h-4zM2413,1809h4v4h-4zM2606,1813h4v4h-4zM2259,1817h4v4h-4zM2353,1817h4v4h-4zM2379,1817h8v4h-8zM2610,1817h4v4h-4zM2374,1821h5v5h-5zM2237,1826h9v4h-9zM2259,1826h8v4h-8zM2276,1826h4v4h-4zM2327,1826h4v4h-4zM2451,1826h5v4h-5zM2229,1830h4v4h-4zM2237,1830h9v4h-9zM2250,1830h4v4h-4zM2263,1830h4v4h-4zM2271,1830h5v4h-5zM2280,1830h4v4h-4zM2357,1830h4v4h-4zM2374,1830h5v4h-5zM2409,1830h4v4h-4zM2233,1834h13v5h-13zM2271,1834h5v5h-5zM2280,1834h17v5h-17zM2379,1834h8v5h-8zM2391,1834h5v5h-5zM2426,1834h4v5h-4zM2203,1839h4v4h-4zM2224,1839h13v4h-13zM2241,1839h5v4h-5zM2250,1839h9v4h-9zM2271,1839h5v4h-5zM2293,1839h4v4h-4zM2314,1839h9v4h-9zM2374,1839h5v4h-5zM2203,1843h4v4h-4zM2211,1843h5v4h-5zM2220,1843h9v4h-9zM2233,1843h4v4h-4zM2241,1843h5v4h-5zM2280,1843h9v4h-9zM2297,1843h4v4h-4zM2306,1843h4v4h-4zM2314,1843h5v4h-5zM2366,1843h8v4h-8zM2383,1843h4v4h-4zM2426,1843h8v4h-8zM2207,1847h13v4h-13zM2246,1847h4v4h-4zM2284,1847h17v4h-17zM2340,1847h4v4h-4zM2293,1851h8v5h-8zM2323,1851h4v5h-4zM2353,1851h8v5h-8zM2400,1851h4v5h-4zM2301,1856h5v4h-5zM2314,1856h9v4h-9zM2327,1856h4v4h-4zM2336,1856h4v4h-4zM2357,1856h4v4h-4zM2409,1856h4v4h-4zM2421,1856h9v4h-9zM2439,1856h4v4h-4zM2456,1856h4v4h-4zM2199,1860h8v4h-8zM2220,1860h4v4h-4zM2327,1860h9v4h-9zM2340,1860h4v4h-4zM2357,1860h4v4h-4zM2439,1860h4v4h-4zM2211,1864h5v5h-5zM2289,1864h8v5h-8zM2319,1864h4v5h-4zM2331,1864h5v5h-5zM2400,1864h9v5h-9zM2447,1864h4v5h-4zM2456,1864h4v5h-4zM2477,1864h4v5h-4zM2199,1869h17v4h-17zM2289,1869h8v4h-8zM2319,1869h17v4h-17zM2344,1869h5v4h-5zM2361,1869h5v4h-5zM2199,1873h4v4h-4zM2207,1873h4v4h-4zM2216,1873h4v4h-4zM2297,1873h26v4h-26zM2327,1873h4v4h-4zM2344,1873h5v4h-5zM2370,1873h4v4h-4zM2404,1873h5v4h-5zM2456,1873h4v4h-4zM2464,1873h5v4h-5zM2199,1877h4v4h-4zM2216,1877h4v4h-4zM2301,1877h9v4h-9zM2284,1881h5v5h-5zM2297,1881h13v5h-13zM2314,1881h5v5h-5zM2327,1881h4v5h-4zM2336,1881h4v5h-4zM2366,1881h4v5h-4zM2443,1881h4v5h-4zM2464,1881h5v5h-5zM2280,1886h4v4h-4zM2293,1886h4v4h-4zM2301,1886h5v4h-5zM2340,1886h4v4h-4zM2396,1886h4v4h-4zM2421,1886h5v4h-5zM2289,1890h12v4h-12zM2211,1894h9v5h-9zM2224,1894h5v5h-5zM2284,1894h5v5h-5zM2293,1894h4v5h-4zM2207,1899h4v4h-4zM2220,1899h4v4h-4zM2280,1899h4v4h-4zM2289,1899h8v4h-8zM2301,1899h5v4h-5zM2439,1899h4v4h-4zM2293,1903h4v4h-4zM2301,1903h5v4h-5zM2387,1903h4v4h-4zM2396,1903h4v4h-4zM2229,1907h8v4h-8zM2289,1907h4v4h-4zM2361,1907h30v4h-30zM2400,1907h4v4h-4zM2409,1907h4v4h-4zM2220,1911h9v5h-9zM2233,1911h8v5h-8zM2246,1911h4v5h-4zM2284,1911h5v5h-5zM2293,1911h4v5h-4zM2370,1911h4v5h-4zM2383,1911h4v5h-4zM2400,1911h4v5h-4zM2229,1916h4v4h-4zM2237,1916h9v4h-9zM2366,1916h4v4h-4zM2374,1916h9v4h-9zM2391,1916h5v4h-5zM2229,1920h8v4h-8zM2241,1920h9v4h-9zM2271,1920h5v4h-5zM2280,1920h4v4h-4zM2289,1920h4v4h-4zM2366,1920h4v4h-4zM2374,1920h9v4h-9zM2396,1920h4v4h-4zM2241,1924h9v5h-9zM2276,1924h17v5h-17zM2370,1924h4v5h-4zM2379,1924h4v5h-4zM2391,1924h5v5h-5zM2400,1924h4v5h-4zM2237,1929h4v4h-4zM2250,1929h4v4h-4zM2259,1929h4v4h-4zM2267,1929h4v4h-4zM2280,1929h4v4h-4zM2293,1929h4v4h-4zM2366,1929h13v4h-13zM2387,1929h9v4h-9zM2400,1929h4v4h-4zM2421,1929h5v4h-5zM2434,1929h5v4h-5zM2451,1929h5v4h-5zM2469,1929h4v4h-4zM2237,1933h4v4h-4zM2246,1933h17v4h-17zM2276,1933h4v4h-4zM2293,1933h4v4h-4zM2383,1933h26v4h-26zM2413,1933h8v4h-8zM2430,1933h9v4h-9zM2447,1933h17v4h-17zM2469,1933h4v4h-4zM2246,1937h4v4h-4zM2267,1937h4v4h-4zM2297,1937h4v4h-4zM2379,1937h4v4h-4zM2396,1937h4v4h-4zM2413,1937h4v4h-4zM2421,1937h43v4h-43zM2473,1937h13v4h-13zM2246,1941h4v5h-4zM2263,1941h4v5h-4zM2276,1941h4v5h-4zM2284,1941h9v5h-9zM2391,1941h13v5h-13zM2430,1941h4v5h-4zM2439,1941h17v5h-17zM2473,1941h4v5h-4zM2259,1946h4v4h-4zM2271,1946h5v4h-5zM2289,1946h8v4h-8zM2301,1946h9v4h-9zM2387,1946h4v4h-4zM2426,1946h4v4h-4zM2434,1946h5v4h-5zM2447,1946h9v4h-9zM2473,1946h13v4h-13zM2250,1950h4v4h-4zM2267,1950h4v4h-4zM2481,1950h5v4h-5zM2254,1954h5v5h-5zM2289,1954h4v5h-4zM2306,1954h4v5h-4zM2396,1954h4v5h-4zM2486,1954h4v5h-4zM2271,1959h5v4h-5zM2301,1959h5v4h-5zM2391,1959h5v4h-5zM2276,1963h4v4h-4zM2310,1963h4v4h-4zM2340,1963h4v4h-4zM2387,1963h4v4h-4zM2490,1963h4v4h-4zM2267,1967h9v4h-9zM2293,1967h4v4h-4zM2301,1967h13v4h-13zM2340,1967h4v4h-4zM2349,1967h4v4h-4zM2391,1967h13v4h-13zM2271,1971h5v5h-5zM2293,1971h8v5h-8zM2306,1971h4v5h-4zM2366,1971h4v5h-4zM2396,1971h13v5h-13zM2271,1976h5v4h-5zM2280,1976h9v4h-9zM2310,1976h4v4h-4zM2361,1976h13v4h-13zM2400,1976h17v4h-17zM2490,1976h9v4h-9zM2284,1980h5v4h-5zM2310,1980h9v4h-9zM2327,1980h4v4h-4zM2357,1980h17v4h-17zM2409,1980h4v4h-4zM2421,1980h5v4h-5zM2434,1980h9v4h-9zM2486,1980h4v4h-4zM2280,1984h13v5h-13zM2297,1984h4v5h-4zM2306,1984h17v5h-17zM2353,1984h17v5h-17zM2379,1984h4v5h-4zM2426,1984h21v5h-21zM2284,1989h5v4h-5zM2297,1989h4v4h-4zM2306,1989h17v4h-17zM2349,1989h30v4h-30zM2430,1989h4v4h-4zM2439,1989h12v4h-12zM2486,1989h4v4h-4zM2229,1993h4v4h-4zM2284,1993h5v4h-5zM2306,1993h17v4h-17zM2357,1993h22v4h-22zM2430,1993h17v4h-17zM2451,1993h5v4h-5zM2486,1993h4v4h-4zM2284,1997h5v4h-5zM2301,1997h5v4h-5zM2310,1997h13v4h-13zM2353,1997h8v4h-8zM2374,1997h17v4h-17zM2430,1997h30v4h-30zM2486,1997h8v4h-8zM2241,2001h5v5h-5zM2284,2001h5v5h-5zM2293,2001h26v5h-26zM2331,2001h13v5h-13zM2349,2001h12v5h-12zM2379,2001h4v5h-4zM2387,2001h9v5h-9zM2400,2001h4v5h-4zM2409,2001h4v5h-4zM2430,2001h34v5h-34zM2486,2001h8v5h-8zM2224,2006h5v4h-5zM2233,2006h4v4h-4zM2314,2006h26v4h-26zM2349,2006h12v4h-12zM2387,2006h4v4h-4zM2409,2006h4v4h-4zM2426,2006h38v4h-38zM2486,2006h4v4h-4zM2224,2010h5v4h-5zM2293,2010h4v4h-4zM2314,2010h5v4h-5zM2323,2010h30v4h-30zM2417,2010h4v4h-4zM2426,2010h38v4h-38zM2481,2010h5v4h-5zM2224,2014h5v5h-5zM2237,2014h4v5h-4zM2293,2014h4v5h-4zM2319,2014h25v5h-25zM2421,2014h13v5h-13zM2451,2014h18v5h-18zM2473,2014h4v5h-4zM2229,2019h4v4h-4zM2237,2019h4v4h-4zM2289,2019h8v4h-8zM2323,2019h26v4h-26zM2353,2019h4v4h-4zM2370,2019h4v4h-4zM2413,2019h21v4h-21zM2456,2019h13v4h-13zM2473,2019h8v4h-8zM2289,2023h4v4h-4zM2327,2023h4v4h-4zM2349,2023h4v4h-4zM2361,2023h5v4h-5zM2379,2023h4v4h-4zM2409,2023h30v4h-30zM2460,2023h13v4h-13zM2323,2027h13v4h-13zM2361,2027h5v4h-5zM2370,2027h4v4h-4zM2396,2027h8v4h-8zM2413,2027h21v4h-21zM2460,2027h17v4h-17zM2361,2031h9v5h-9zM2374,2031h5v5h-5zM2396,2031h4v5h-4zM2413,2031h21v5h-21zM2451,2031h26v5h-26zM2361,2036h5v4h-5zM2374,2036h5v4h-5zM2387,2036h9v4h-9zM2400,2036h51v4h-51zM2456,2036h8v4h-8zM2289,2040h8v4h-8zM2379,2040h4v4h-4zM2387,2040h4v4h-4zM2400,2040h60v4h-60zM2464,2040h5v4h-5zM2366,2044h4v5h-4zM2391,2044h5v5h-5zM2404,2044h22v5h-22zM2430,2044h13v5h-13zM2447,2044h17v5h-17zM2366,2049h4v4h-4zM2379,2049h4v4h-4zM2404,2049h22v4h-22zM2434,2049h5v4h-5zM2443,2049h8v4h-8zM2456,2049h4v4h-4zM2366,2053h8v4h-8zM2383,2053h4v4h-4zM2404,2053h17v4h-17zM2456,2053h4v4h-4zM2289,2057h4v4h-4zM2361,2057h9v4h-9zM2417,2057h9v4h-9zM2451,2057h5v4h-5zM2289,2061h4v5h-4zM2344,2061h5v5h-5zM2353,2061h8v5h-8zM2366,2061h4v5h-4zM2417,2061h4v5h-4zM2289,2066h4v4h-4zM2340,2066h21v4h-21zM2366,2066h8v4h-8zM2336,2070h30v4h-30zM2327,2074h43v5h-43zM2323,2079h38v4h-38zM2323,2083h30v4h-30zM2361,2083h5v4h-5zM2319,2087h34v4h-34zM2319,2091h34v5h-34zM2314,2096h39v4h-39zM2293,2100h4v4h-4zM2310,2100h43v4h-43zM2297,2104h47v5h-47zM2349,2104h4v5h-4zM2301,2109h48v4h-48zM2306,2113h38v4h-38zM2306,2117h25v4h-25zM2336,2117h4v4h-4zM2301,2121h22v5h-22zM2327,2121h9v5h-9zM2516,2121h4v5h-4zM2297,2126h34v4h-34zM2306,2130h17v4h-17zM2280,2134h4v5h-4zM2297,2134h13v5h-13zM2314,2134h5v5h-5zM2293,2139h4v4h-4zM2301,2139h9v4h-9zM2314,2139h5v4h-5zM2250,2143h9v4h-9zM2289,2143h21v4h-21zM2246,2147h8v4h-8zM2276,2147h4v4h-4zM2289,2147h17v4h-17zM2310,2147h4v4h-4zM2246,2151h8v5h-8zM2276,2151h4v5h-4zM2284,2151h30v5h-30zM2237,2156h9v4h-9zM2284,2156h26v4h-26zM2314,2156h5v4h-5zM2241,2160h5v4h-5zM2280,2160h30v4h-30zM2237,2164h13v5h-13zM2280,2164h34v5h-34zM2289,2169h25v4h-25zM2284,2173h26v4h-26zM2229,2177h8v4h-8zM2293,2177h21v4h-21zM2456,2177h4v4h-4zM2229,2181h8v5h-8zM2280,2181h4v5h-4zM2289,2181h12v5h-12zM2233,2186h8v4h-8zM2259,2186h17v4h-17zM2284,2186h13v4h-13zM2451,2186h5v4h-5zM2229,2190h8v4h-8zM2241,2190h5v4h-5zM2254,2190h26v4h-26zM2284,2190h9v4h-9zM2306,2190h4v4h-4zM2246,2194h4v5h-4zM2259,2194h34v5h-34zM2241,2199h9v4h-9zM2254,2199h35v4h-35zM2250,2203h34v4h-34zM2246,2207h13v4h-13zM2263,2207h4v4h-4zM2271,2207h5v4h-5zM2254,2211h5v5h-5zM2263,2211h4v5h-4zM2271,2211h5v5h-5zM2550,2284h4v5h-4zM2546,2289h4v4h-4zM2516,2314h4v5h-4zM2473,2353h4v4h-4zM2006,2409h4v4h-4zM2233,2524h4v5h-4zM2121,2563h5v4h-5zM2117,2597h4v4h-4zM2087,2623h4v4h-4zM2031,2709h5v4h-5zM2040,2713h4v4h-4z" fill="#fca636" shape-rendering="crispEdges"/>
<path d="M2186,656h4v4h-4zM1050,784h4v5h-4zM1076,784h4v5h-4zM1864,801h5v5h-5zM1864,806h9v4h-9zM1869,814h4v5h-4zM1127,819h4v4h-4zM1869,819h4v4h-4zM1873,823h4v4h-4zM1899,823h4v4h-4zM1873,836h4v4h-4zM1941,840h5v4h-5zM1183,844h4v5h-4zM1873,849h4v4h-4zM1954,849h5v4h-5zM1119,853h4v4h-4zM1869,853h4v4h-4zM1967,857h4v4h-4zM1937,861h4v5h-4zM1984,874h5v5h-5zM1127,883h4v4h-4zM1993,891h4v5h-4zM1144,896h5v4h-5zM1980,900h4v4h-4zM1826,909h13v4h-13zM1847,909h4v4h-4zM1817,913h13v4h-13zM1834,913h5v4h-5zM1851,913h5v4h-5zM1873,913h4v4h-4zM1886,913h4v4h-4zM2006,913h4v4h-4zM1804,917h13v4h-13zM1894,917h5v4h-5zM1791,921h48v5h-48zM1864,921h5v5h-5zM1881,921h5v5h-5zM1894,921h5v5h-5zM1907,921h4v5h-4zM2027,921h4v5h-4zM1787,926h26v4h-26zM1817,926h13v4h-13zM1860,926h4v4h-4zM1869,926h4v4h-4zM1877,926h26v4h-26zM1920,926h4v4h-4zM1787,930h34v4h-34zM1839,930h4v4h-4zM1851,930h5v4h-5zM1869,930h4v4h-4zM1881,930h5v4h-5zM1890,930h13v4h-13zM1907,930h4v4h-4zM1916,930h4v4h-4zM1937,930h4v4h-4zM1774,934h17v5h-17zM1796,934h17v5h-17zM1860,934h4v5h-4zM1877,934h22v5h-22zM1903,934h17v5h-17zM1941,934h5v5h-5zM1774,939h26v4h-26zM1804,939h5v4h-5zM1817,939h4v4h-4zM1839,939h4v4h-4zM1869,939h4v4h-4zM1886,939h8v4h-8zM1899,939h4v4h-4zM1907,939h9v4h-9zM1924,939h5v4h-5zM2066,939h4v4h-4zM2079,939h4v4h-4zM1766,943h25v4h-25zM1813,943h17v4h-17zM1894,943h5v4h-5zM1903,943h4v4h-4zM1911,943h13v4h-13zM1929,943h4v4h-4zM1941,943h5v4h-5zM1950,943h4v4h-4zM1766,947h21v4h-21zM1813,947h17v4h-17zM1899,947h4v4h-4zM1907,947h17v4h-17zM1946,947h4v4h-4zM1813,951h17v5h-17zM1916,951h4v5h-4zM1959,951h4v5h-4zM1817,956h9v4h-9zM1976,956h8v4h-8zM1933,960h4v4h-4zM1946,960h4v4h-4zM1963,960h4v4h-4zM1971,960h9v4h-9zM1984,960h13v4h-13zM1971,964h26v5h-26zM2001,964h9v5h-9zM1941,969h5v4h-5zM1950,969h4v4h-4zM2006,969h4v4h-4zM1967,973h4v4h-4zM1976,973h13v4h-13zM1963,977h4v4h-4zM1980,977h4v4h-4zM2019,977h4v4h-4zM1971,981h5v5h-5zM2001,981h5v5h-5zM2014,981h9v5h-9zM2031,981h5v5h-5zM1946,986h4v4h-4zM1976,986h4v4h-4zM2006,986h4v4h-4zM2070,986h4v4h-4zM2104,986h5v4h-5zM2113,986h4v4h-4zM1946,990h4v4h-4zM1967,990h4v4h-4zM2006,990h4v4h-4zM2057,990h4v4h-4zM2117,990h22v4h-22zM1710,994h4v5h-4zM1719,994h4v5h-4zM1946,994h4v5h-4zM2070,994h4v5h-4zM2113,994h4v5h-4zM2121,994h9v5h-9zM1714,999h5v4h-5zM2074,999h5v4h-5zM2117,999h17v4h-17zM2143,999h4v4h-4zM2151,999h5v4h-5zM1714,1003h5v4h-5zM2126,1003h4v4h-4zM2134,1003h17v4h-17zM2156,1003h4v4h-4zM2087,1007h4v4h-4zM2147,1007h4v4h-4zM2160,1007h4v4h-4zM1710,1011h4v5h-4zM2109,1011h4v5h-4zM2117,1011h4v5h-4zM2151,1011h9v5h-9zM2220,1011h4v5h-4zM1706,1016h8v4h-8zM2211,1016h9v4h-9zM2224,1016h5v4h-5zM2233,1016h8v4h-8zM1701,1020h13v4h-13zM2147,1020h4v4h-4zM2199,1020h8v4h-8zM2229,1020h17v4h-17zM1693,1024h8v5h-8zM1706,1024h8v5h-8zM2036,1024h4v5h-4zM2087,1024h4v5h-4zM2121,1024h5v5h-5zM2160,1024h4v5h-4zM2229,1024h4v5h-4zM1693,1029h4v4h-4zM1706,1029h4v4h-4zM2031,1029h5v4h-5zM2083,1029h4v4h-4zM2113,1029h4v4h-4zM2220,1029h9v4h-9zM1693,1033h8v4h-8zM1706,1033h4v4h-4zM2031,1033h13v4h-13zM2049,1033h8v4h-8zM2331,1033h5v4h-5zM1693,1037h13v4h-13zM1693,1041h4v5h-4zM1693,1046h4v4h-4zM2104,1046h5v4h-5zM1689,1050h8v4h-8zM1689,1054h12v5h-12zM1693,1059h4v4h-4zM1701,1059h5v4h-5zM1697,1063h4v4h-4zM1697,1067h4v4h-4zM2336,1067h4v4h-4zM1693,1071h8v5h-8zM1693,1076h4v4h-4zM1689,1080h4v4h-4zM1689,1089h4v4h-4zM1701,1097h9v4h-9zM1719,1097h8v4h-8zM1731,1097h5v4h-5zM1766,1097h4v4h-4zM1779,1097h4v4h-4zM1701,1101h5v5h-5zM1796,1101h4v5h-4zM1599,1131h4v5h-4zM1616,1144h4v5h-4zM2357,1144h4v5h-4zM1633,1149h4v4h-4zM1689,1166h4v4h-4zM2353,1179h4v4h-4zM2151,1183h5v4h-5zM2164,1204h13v5h-13zM2181,1204h5v5h-5zM2164,1209h13v4h-13zM2164,1213h17v4h-17zM2344,1217h5v4h-5zM2327,1221h4v5h-4zM1766,1243h13v4h-13zM1774,1247h5v4h-5zM1783,1247h4v4h-4zM1774,1251h5v5h-5zM1783,1251h4v5h-4zM1834,1251h5v5h-5zM1779,1256h4v4h-4zM1779,1260h4v4h-4zM1843,1260h8v4h-8zM1847,1264h9v5h-9zM1907,1264h4v5h-4zM1817,1273h4v4h-4zM2404,1277h5v4h-5zM2409,1290h8v4h-8zM2417,1294h4v5h-4zM1839,1299h4v4h-4zM1899,1307h4v4h-4zM1899,1311h4v5h-4zM2276,1346h4v4h-4zM2289,1346h4v4h-4zM2271,1350h26v4h-26zM2271,1354h9v5h-9zM2284,1354h9v5h-9zM2254,1359h5v4h-5zM2263,1359h4v4h-4zM2276,1359h17v4h-17zM2246,1363h4v4h-4zM2254,1363h39v4h-39zM2301,1363h5v4h-5zM2259,1367h47v4h-47zM2250,1371h64v5h-64zM2254,1376h60v4h-60zM2409,1376h4v4h-4zM2254,1380h60v4h-60zM2160,1384h4v5h-4zM2169,1384h4v5h-4zM2181,1384h5v5h-5zM2241,1384h9v5h-9zM2254,1384h65v5h-65zM2409,1384h4v5h-4zM2160,1389h21v4h-21zM2250,1389h73v4h-73zM2396,1389h4v4h-4zM2143,1393h4v4h-4zM2151,1393h5v4h-5zM2160,1393h4v4h-4zM2173,1393h4v4h-4zM2190,1393h4v4h-4zM2246,1393h77v4h-77zM2383,1393h4v4h-4zM2139,1397h12v4h-12zM2156,1397h30v4h-30zM2246,1397h4v4h-4zM2259,1397h64v4h-64zM2117,1401h9v5h-9zM2130,1401h47v5h-47zM2181,1401h5v5h-5zM2250,1401h77v5h-77zM2100,1406h9v4h-9zM2117,1406h4v4h-4zM2130,1406h4v4h-4zM2139,1406h34v4h-34zM2177,1406h9v4h-9zM2190,1406h4v4h-4zM2254,1406h69v4h-69zM2100,1410h4v4h-4zM2113,1410h8v4h-8zM2130,1410h4v4h-4zM2139,1410h34v4h-34zM2177,1410h4v4h-4zM2254,1410h73v4h-73zM2109,1414h4v5h-4zM2121,1414h26v5h-26zM2151,1414h30v5h-30zM2186,1414h4v5h-4zM2259,1414h64v5h-64zM2327,1414h4v5h-4zM2079,1419h4v4h-4zM2096,1419h4v4h-4zM2109,1419h21v4h-21zM2134,1419h35v4h-35zM2173,1419h17v4h-17zM2259,1419h72v4h-72zM2079,1423h8v4h-8zM2091,1423h39v4h-39zM2134,1423h35v4h-35zM2181,1423h5v4h-5zM2190,1423h4v4h-4zM2254,1423h5v4h-5zM2263,1423h68v4h-68zM2083,1427h4v4h-4zM2091,1427h5v4h-5zM2100,1427h21v4h-21zM2130,1427h21v4h-21zM2156,1427h4v4h-4zM2164,1427h5v4h-5zM2173,1427h8v4h-8zM2186,1427h4v4h-4zM2259,1427h68v4h-68zM2087,1431h4v5h-4zM2096,1431h17v5h-17zM2117,1431h9v5h-9zM2130,1431h4v5h-4zM2139,1431h25v5h-25zM2169,1431h12v5h-12zM2267,1431h64v5h-64zM2083,1436h4v4h-4zM2091,1436h13v4h-13zM2109,1436h4v4h-4zM2117,1436h22v4h-22zM2143,1436h4v4h-4zM2156,1436h4v4h-4zM2164,1436h9v4h-9zM2259,1436h68v4h-68zM2091,1440h5v4h-5zM2100,1440h4v4h-4zM2109,1440h21v4h-21zM2134,1440h13v4h-13zM2151,1440h5v4h-5zM2263,1440h64v4h-64zM2091,1444h60v5h-60zM2276,1444h30v5h-30zM2310,1444h17v5h-17zM2057,1449h9v4h-9zM2087,1449h34v4h-34zM2126,1449h4v4h-4zM2139,1449h4v4h-4zM2151,1449h5v4h-5zM2263,1449h4v4h-4zM2271,1449h26v4h-26zM2301,1449h22v4h-22zM2031,1453h30v4h-30zM2066,1453h13v4h-13zM2083,1453h4v4h-4zM2104,1453h9v4h-9zM2117,1453h4v4h-4zM2126,1453h4v4h-4zM2134,1453h5v4h-5zM2267,1453h4v4h-4zM2276,1453h30v4h-30zM2314,1453h9v4h-9zM2031,1457h5v4h-5zM2049,1457h4v4h-4zM2057,1457h30v4h-30zM2091,1457h22v4h-22zM2276,1457h25v4h-25zM2306,1457h21v4h-21zM2023,1461h4v5h-4zM2036,1461h4v5h-4zM2049,1461h38v5h-38zM2096,1461h4v5h-4zM2109,1461h8v5h-8zM2284,1461h5v5h-5zM2293,1461h4v5h-4zM2301,1461h5v5h-5zM2310,1461h13v5h-13zM2019,1466h4v4h-4zM2031,1466h5v4h-5zM2040,1466h56v4h-56zM2104,1466h5v4h-5zM2113,1466h4v4h-4zM2284,1466h5v4h-5zM2293,1466h13v4h-13zM2314,1466h5v4h-5zM2027,1470h90v4h-90zM2121,1470h9v4h-9zM2134,1470h5v4h-5zM2284,1470h5v4h-5zM2297,1470h9v4h-9zM2014,1474h9v5h-9zM2027,1474h4v5h-4zM2036,1474h8v5h-8zM2049,1474h85v5h-85zM2297,1474h4v5h-4zM2019,1479h4v4h-4zM2031,1479h5v4h-5zM2040,1479h9v4h-9zM2053,1479h4v4h-4zM2061,1479h9v4h-9zM2074,1479h60v4h-60zM2023,1483h4v4h-4zM2040,1483h9v4h-9zM2053,1483h4v4h-4zM2061,1483h5v4h-5zM2070,1483h13v4h-13zM2087,1483h52v4h-52zM2143,1483h4v4h-4zM2053,1487h4v4h-4zM2070,1487h4v4h-4zM2083,1487h8v4h-8zM2096,1487h55v4h-55zM2066,1491h4v5h-4zM2079,1491h12v5h-12zM2100,1491h43v5h-43zM2147,1491h4v5h-4zM2327,1491h4v5h-4zM2096,1496h4v4h-4zM2109,1496h42v4h-42zM2323,1496h4v4h-4zM2091,1500h5v4h-5zM2104,1500h9v4h-9zM2117,1500h30v4h-30zM2156,1500h4v4h-4zM2293,1500h4v4h-4zM2336,1500h4v4h-4zM2100,1504h9v5h-9zM2113,1504h4v5h-4zM2126,1504h17v5h-17zM2319,1504h4v5h-4zM2117,1509h4v4h-4zM2126,1509h25v4h-25zM2156,1509h4v4h-4zM2276,1509h4v4h-4zM2139,1513h4v4h-4zM2340,1513h4v4h-4zM2636,1513h4v4h-4zM2263,1517h4v4h-4zM2340,1517h9v4h-9zM2259,1521h4v5h-4zM2336,1521h4v5h-4zM2344,1521h5v5h-5zM2631,1521h5v5h-5zM2293,1526h4v4h-4zM2636,1526h4v4h-4zM2216,1530h4v4h-4zM2319,1530h4v4h-4zM2336,1530h4v4h-4zM2631,1530h5v4h-5zM2640,1530h9v4h-9zM2237,1534h4v5h-4zM2263,1534h4v5h-4zM2327,1534h4v5h-4zM2344,1534h5v5h-5zM2211,1539h5v4h-5zM2220,1539h4v4h-4zM2241,1539h5v4h-5zM2331,1539h5v4h-5zM2640,1539h4v4h-4zM2259,1543h4v4h-4zM2276,1543h4v4h-4zM2267,1547h4v4h-4zM2220,1551h4v5h-4zM2177,1556h4v4h-4zM2216,1556h4v4h-4zM2199,1560h4v4h-4zM2220,1560h4v4h-4zM2370,1560h4v4h-4zM2216,1564h4v5h-4zM2344,1564h5v5h-5zM2224,1569h5v4h-5zM2357,1569h4v4h-4zM2186,1573h4v4h-4zM2220,1573h4v4h-4zM2306,1573h4v4h-4zM2216,1577h4v4h-4zM2229,1581h4v5h-4zM2319,1581h4v5h-4zM2186,1586h4v4h-4zM2199,1586h4v4h-4zM2306,1586h4v4h-4zM2336,1586h4v4h-4zM2361,1586h5v4h-5zM2374,1586h5v4h-5zM2396,1586h4v4h-4zM2456,1586h4v4h-4zM2233,1590h4v4h-4zM2250,1590h4v4h-4zM2203,1594h4v5h-4zM2224,1594h5v5h-5zM2254,1594h5v5h-5zM2353,1594h4v5h-4zM2417,1594h4v5h-4zM2220,1599h4v4h-4zM2310,1599h4v4h-4zM2396,1599h4v4h-4zM2173,1603h4v4h-4zM2310,1603h4v4h-4zM2396,1603h4v4h-4zM2409,1603h4v4h-4zM2421,1603h5v4h-5zM2443,1603h4v4h-4zM2293,1607h4v4h-4zM2361,1607h5v4h-5zM2387,1607h4v4h-4zM2177,1611h4v5h-4zM2186,1611h4v5h-4zM2207,1611h4v5h-4zM2327,1611h4v5h-4zM2383,1611h4v5h-4zM2186,1616h4v4h-4zM2207,1616h4v4h-4zM2250,1616h4v4h-4zM2259,1616h4v4h-4zM2357,1616h9v4h-9zM2421,1616h5v4h-5zM2897,1616h4v4h-4zM2336,1620h4v4h-4zM2194,1624h5v5h-5zM2314,1624h5v5h-5zM2181,1629h5v4h-5zM2267,1629h4v4h-4zM2336,1629h4v4h-4zM2417,1629h4v4h-4zM2237,1633h4v4h-4zM2289,1633h4v4h-4zM2306,1633h4v4h-4zM2374,1633h5v4h-5zM2207,1637h4v4h-4zM2246,1641h4v5h-4zM2289,1641h4v5h-4zM2301,1641h5v5h-5zM2323,1641h4v5h-4zM2336,1641h4v5h-4zM2357,1641h4v5h-4zM2370,1641h4v5h-4zM2387,1641h4v5h-4zM2276,1646h4v4h-4zM2344,1646h5v4h-5zM2353,1646h4v4h-4zM2237,1650h4v4h-4zM2379,1650h4v4h-4zM2186,1654h4v5h-4zM2276,1654h4v5h-4zM2276,1659h4v4h-4zM2331,1659h5v4h-5zM2340,1659h4v4h-4zM2374,1659h5v4h-5zM2923,1659h4v4h-4zM1886,1663h4v4h-4zM1894,1663h5v4h-5zM2254,1663h5v4h-5zM2331,1663h5v4h-5zM2301,1667h5v4h-5zM2340,1667h4v4h-4zM2396,1667h4v4h-4zM2331,1671h9v5h-9zM2374,1671h5v5h-5zM2263,1676h4v4h-4zM2336,1676h4v4h-4zM2301,1680h5v4h-5zM2310,1680h4v4h-4zM2331,1680h5v4h-5zM2246,1684h4v5h-4zM2344,1684h5v5h-5zM2383,1684h4v5h-4zM2246,1693h4v4h-4zM2276,1693h4v4h-4zM2340,1693h4v4h-4zM2374,1693h5v4h-5zM2250,1697h4v4h-4zM2289,1701h4v5h-4zM2301,1701h5v5h-5zM2229,1706h4v4h-4zM2293,1706h4v4h-4zM2267,1714h4v5h-4zM2284,1714h5v5h-5zM2306,1714h4v5h-4zM2224,1719h5v4h-5zM2349,1719h4v4h-4zM2306,1723h4v4h-4zM2349,1723h4v4h-4zM2276,1727h4v4h-4zM2327,1727h4v4h-4zM2254,1731h5v5h-5zM2349,1731h4v5h-4zM2220,1736h4v4h-4zM2289,1736h4v4h-4zM2314,1736h5v4h-5zM2349,1736h4v4h-4zM2293,1740h4v4h-4zM2323,1744h4v5h-4zM2259,1749h4v4h-4zM2314,1749h5v4h-5zM2259,1753h4v4h-4zM2310,1753h4v4h-4zM2254,1830h9v4h-9zM2267,1830h4v4h-4zM2276,1830h4v4h-4zM2250,1834h21v5h-21zM2276,1834h4v5h-4zM2237,1839h4v4h-4zM2246,1839h4v4h-4zM2259,1839h12v4h-12zM2276,1839h13v4h-13zM2216,1843h4v4h-4zM2229,1843h4v4h-4zM2237,1843h4v4h-4zM2246,1843h25v4h-25zM2220,1847h26v4h-26zM2250,1847h17v4h-17zM2280,1847h4v4h-4zM2211,1851h56v5h-56zM2280,1851h9v5h-9zM2216,1856h47v4h-47zM2280,1856h13v4h-13zM2207,1860h13v4h-13zM2224,1860h35v4h-35zM2284,1860h5v4h-5zM2293,1860h4v4h-4zM2319,1860h4v4h-4zM2216,1864h25v5h-25zM2254,1864h9v5h-9zM2284,1864h5v5h-5zM2216,1869h38v4h-38zM2259,1869h4v4h-4zM2280,1869h9v4h-9zM2211,1873h5v4h-5zM2220,1873h43v4h-43zM2280,1873h9v4h-9zM2293,1873h4v4h-4zM2207,1877h9v4h-9zM2220,1877h34v4h-34zM2259,1877h4v4h-4zM2276,1877h13v4h-13zM2297,1877h4v4h-4zM2211,1881h43v5h-43zM2259,1881h25v5h-25zM2653,1881h8v5h-8zM2207,1886h43v4h-43zM2254,1886h5v4h-5zM2263,1886h17v4h-17zM2284,1886h9v4h-9zM2653,1886h8v4h-8zM2211,1890h78v4h-78zM2653,1890h4v4h-4zM2220,1894h4v5h-4zM2229,1894h55v5h-55zM2224,1899h56v4h-56zM2284,1899h5v4h-5zM2224,1903h65v4h-65zM2636,1903h4v4h-4zM2237,1907h52v4h-52zM2644,1907h5v4h-5zM2241,1911h5v5h-5zM2250,1911h34v5h-34zM2631,1911h5v5h-5zM2246,1916h43v4h-43zM2631,1916h5v4h-5zM2259,1920h12v4h-12zM2276,1920h4v4h-4zM2284,1920h5v4h-5zM2263,1924h13v5h-13zM2263,1929h4v4h-4zM2276,1929h4v4h-4zM2421,1933h9v4h-9zM2400,1937h13v4h-13zM2417,1937h4v4h-4zM2464,1937h9v4h-9zM2413,1941h17v5h-17zM2434,1941h5v5h-5zM2456,1941h17v5h-17zM2477,1941h4v5h-4zM2391,1946h5v4h-5zM2404,1946h22v4h-22zM2430,1946h4v4h-4zM2439,1946h8v4h-8zM2456,1946h17v4h-17zM2391,1950h13v4h-13zM2413,1950h68v4h-68zM2486,1950h4v4h-4zM2391,1954h5v5h-5zM2400,1954h86v5h-86zM2314,1959h9v4h-9zM2331,1959h5v4h-5zM2396,1959h30v4h-30zM2430,1959h4v4h-4zM2439,1959h55v4h-55zM2314,1963h26v4h-26zM2391,1963h35v4h-35zM2430,1963h60v4h-60zM2314,1967h26v4h-26zM2404,1967h26v4h-26zM2439,1967h55v4h-55zM2310,1971h51v5h-51zM2409,1971h21v5h-21zM2443,1971h47v5h-47zM2314,1976h47v4h-47zM2417,1976h73v4h-73zM2319,1980h8v4h-8zM2331,1980h26v4h-26zM2426,1980h4v4h-4zM2443,1980h43v4h-43zM2323,1984h30v5h-30zM2447,1984h43v5h-43zM2323,1989h26v4h-26zM2451,1989h35v4h-35zM2323,1993h34v4h-34zM2447,1993h4v4h-4zM2456,1993h30v4h-30zM2323,1997h30v4h-30zM2361,1997h13v4h-13zM2460,1997h26v4h-26zM2319,2001h12v5h-12zM2344,2001h5v5h-5zM2361,2001h18v5h-18zM2383,2001h4v5h-4zM2404,2001h5v5h-5zM2464,2001h22v5h-22zM2297,2006h17v4h-17zM2340,2006h9v4h-9zM2361,2006h26v4h-26zM2391,2006h9v4h-9zM2404,2006h5v4h-5zM2464,2006h22v4h-22zM2297,2010h17v4h-17zM2319,2010h4v4h-4zM2353,2010h64v4h-64zM2464,2010h17v4h-17zM2289,2014h4v5h-4zM2297,2014h22v5h-22zM2344,2014h69v5h-69zM2469,2014h4v5h-4zM2297,2019h26v4h-26zM2349,2019h4v4h-4zM2357,2019h13v4h-13zM2374,2019h39v4h-39zM2469,2019h4v4h-4zM2293,2023h34v4h-34zM2331,2023h18v4h-18zM2353,2023h8v4h-8zM2366,2023h13v4h-13zM2383,2023h26v4h-26zM2289,2027h34v4h-34zM2336,2027h25v4h-25zM2366,2027h4v4h-4zM2379,2027h17v4h-17zM2404,2027h9v4h-9zM2289,2031h72v5h-72zM2370,2031h4v5h-4zM2379,2031h4v5h-4zM2387,2031h9v5h-9zM2400,2031h13v5h-13zM2293,2036h68v4h-68zM2366,2036h8v4h-8zM2383,2036h4v4h-4zM2396,2036h4v4h-4zM2297,2040h69v4h-69zM2370,2040h9v4h-9zM2383,2040h4v4h-4zM2391,2040h9v4h-9zM2293,2044h73v5h-73zM2374,2044h9v5h-9zM2387,2044h4v5h-4zM2396,2044h4v5h-4zM2293,2049h73v4h-73zM2374,2049h5v4h-5zM2383,2049h17v4h-17zM2293,2053h73v4h-73zM2391,2053h13v4h-13zM2293,2057h68v4h-68zM2391,2057h5v4h-5zM2293,2061h51v5h-51zM2349,2061h4v5h-4zM2293,2066h38v4h-38zM2336,2066h4v4h-4zM2289,2070h47v4h-47zM2293,2074h34v5h-34zM2289,2079h34v4h-34zM2293,2083h30v4h-30zM2267,2087h13v4h-13zM2289,2087h30v4h-30zM2271,2091h9v5h-9zM2284,2091h30v5h-30zM2529,2091h4v5h-4zM2267,2096h43v4h-43zM2524,2096h5v4h-5zM2267,2100h26v4h-26zM2297,2100h13v4h-13zM2263,2104h34v5h-34zM2520,2104h4v5h-4zM2259,2109h42v4h-42zM2520,2109h4v4h-4zM2259,2113h42v4h-42zM2254,2117h43v4h-43zM2254,2121h47v5h-47zM2263,2126h34v4h-34zM2259,2130h42v4h-42zM2259,2134h21v5h-21zM2284,2134h9v5h-9zM2606,2134h4v5h-4zM2259,2139h12v4h-12zM2276,2139h4v4h-4zM2271,2143h13v4h-13zM2259,2147h17v4h-17zM2284,2147h5v4h-5zM2254,2151h22v5h-22zM2280,2151h4v5h-4zM2246,2156h38v4h-38zM2246,2160h34v4h-34zM2250,2164h30v5h-30zM2237,2169h52v4h-52zM2241,2173h43v4h-43zM2237,2177h56v4h-56zM2237,2181h43v5h-43zM2284,2181h5v5h-5zM2241,2186h18v4h-18zM2276,2186h8v4h-8zM2237,2190h4v4h-4zM2246,2190h8v4h-8zM2280,2190h4v4h-4zM2237,2194h9v5h-9zM2250,2194h9v5h-9zM2451,2194h5v5h-5zM2250,2199h4v4h-4zM2567,2237h4v4h-4zM2340,2323h4v4h-4zM2297,2327h4v4h-4zM2477,2331h4v5h-4zM2271,2349h5v4h-5zM2469,2349h4v4h-4zM2271,2353h5v4h-5zM2477,2357h4v4h-4zM2173,2546h4v4h-4zM1959,2563h4v4h-4zM2130,2571h13v5h-13zM2109,2614h4v5h-4zM2083,2627h4v4h-4z" fill="#f2844b" shape-rendering="crispEdges"/>
<path d="M1856,780h4v4h-4zM1851,784h9v5h-9zM1054,789h5v4h-5zM1851,789h13v4h-13zM1856,793h4v4h-4zM1864,793h5v4h-5zM1067,797h4v4h-4zM1110,797h4v4h-4zM1860,797h9v4h-9zM1860,801h4v5h-4zM1869,801h4v5h-4zM1063,806h4v4h-4zM1869,810h4v4h-4zM1903,819h4v4h-4zM1821,823h5v4h-5zM1877,823h4v4h-4zM1826,827h8v4h-8zM1877,827h4v4h-4zM1826,831h4v5h-4zM1877,831h4v5h-4zM1830,836h4v4h-4zM1839,836h4v4h-4zM1877,836h4v4h-4zM1834,840h5v4h-5zM1877,840h4v4h-4zM1834,844h5v5h-5zM1873,844h4v5h-4zM1843,849h8v4h-8zM1877,849h4v4h-4zM1847,853h4v4h-4zM1877,853h4v4h-4zM1963,853h4v4h-4zM1843,857h17v4h-17zM1869,857h8v4h-8zM1114,861h5v5h-5zM1196,861h4v5h-4zM1869,861h8v5h-8zM1967,861h4v5h-4zM1114,866h5v4h-5zM1869,866h4v4h-4zM1924,866h5v4h-5zM1967,866h4v4h-4zM1209,870h8v4h-8zM1213,874h4v5h-4zM1123,879h4v4h-4zM1213,879h4v4h-4zM2010,883h4v4h-4zM1157,887h4v4h-4zM1170,887h4v4h-4zM1221,887h5v4h-5zM1461,887h5v4h-5zM1976,896h4v4h-4zM1839,913h12v4h-12zM1856,913h17v4h-17zM1877,913h9v4h-9zM1890,913h4v4h-4zM1826,917h4v4h-4zM1834,917h43v4h-43zM1881,917h9v4h-9zM1839,921h25v5h-25zM1869,921h12v5h-12zM1886,921h4v5h-4zM1903,921h4v5h-4zM1911,921h18v5h-18zM1813,926h4v4h-4zM1834,926h5v4h-5zM1843,926h17v4h-17zM1864,926h5v4h-5zM1873,926h4v4h-4zM1903,926h4v4h-4zM1911,926h5v4h-5zM1929,926h8v4h-8zM1783,930h4v4h-4zM1843,930h8v4h-8zM1856,930h13v4h-13zM1873,930h8v4h-8zM1886,930h4v4h-4zM1903,930h4v4h-4zM1911,930h5v4h-5zM1920,930h17v4h-17zM1791,934h5v5h-5zM1834,934h26v5h-26zM1864,934h13v5h-13zM1899,934h4v5h-4zM1920,934h21v5h-21zM1770,939h4v4h-4zM1800,939h4v4h-4zM1847,939h13v4h-13zM1873,939h13v4h-13zM1894,939h5v4h-5zM1903,939h4v4h-4zM1916,939h8v4h-8zM1929,939h21v4h-21zM2074,939h5v4h-5zM1881,943h13v4h-13zM1899,943h4v4h-4zM1907,943h4v4h-4zM1924,943h5v4h-5zM1933,943h8v4h-8zM1946,943h4v4h-4zM1886,947h13v4h-13zM1924,947h22v4h-22zM1950,947h13v4h-13zM1903,951h4v5h-4zM1911,951h5v5h-5zM1920,951h26v5h-26zM1950,951h9v5h-9zM1963,951h8v5h-8zM1929,956h47v4h-47zM1984,956h13v4h-13zM1251,960h5v4h-5zM1929,960h4v4h-4zM1937,960h9v4h-9zM1950,960h13v4h-13zM1967,960h4v4h-4zM1997,960h4v4h-4zM1929,964h42v5h-42zM1997,964h4v5h-4zM2010,964h4v5h-4zM1933,969h8v4h-8zM1946,969h4v4h-4zM1954,969h52v4h-52zM2010,969h9v4h-9zM1273,973h4v4h-4zM1946,973h21v4h-21zM1971,973h5v4h-5zM1989,973h17v4h-17zM2010,973h13v4h-13zM1959,977h4v4h-4zM1967,977h13v4h-13zM1984,977h35v4h-35zM2023,977h8v4h-8zM1954,981h17v5h-17zM1976,981h25v5h-25zM2006,981h8v5h-8zM1950,986h26v4h-26zM1980,986h26v4h-26zM2010,986h13v4h-13zM1269,990h4v4h-4zM1950,990h17v4h-17zM1997,990h4v4h-4zM1714,994h5v5h-5zM1710,999h4v4h-4zM1710,1003h4v4h-4zM2151,1003h5v4h-5zM1710,1007h9v4h-9zM1860,1007h4v4h-4zM2134,1007h13v4h-13zM2151,1007h9v4h-9zM2164,1007h5v4h-5zM2130,1011h21v5h-21zM2160,1011h13v5h-13zM2130,1016h43v4h-43zM2207,1016h4v4h-4zM2229,1016h4v4h-4zM2259,1016h4v4h-4zM2143,1020h4v4h-4zM2151,1020h5v4h-5zM2160,1020h13v4h-13zM1307,1024h4v5h-4zM1701,1024h5v5h-5zM1937,1024h4v5h-4zM1950,1024h9v5h-9zM2233,1024h8v5h-8zM1697,1029h9v4h-9zM1954,1029h22v4h-22zM2216,1029h4v4h-4zM1701,1033h5v4h-5zM1941,1033h5v4h-5zM1954,1033h17v4h-17zM2203,1033h4v4h-4zM2259,1033h8v4h-8zM2297,1033h4v4h-4zM1954,1037h26v4h-26zM1984,1037h9v4h-9zM1697,1041h13v5h-13zM1946,1041h25v5h-25zM1976,1041h13v5h-13zM1697,1046h13v4h-13zM1959,1046h4v4h-4zM1697,1050h4v4h-4zM1706,1050h4v4h-4zM1701,1054h5v5h-5zM2323,1054h4v5h-4zM2344,1063h5v4h-5zM2340,1071h4v5h-4zM2349,1071h4v5h-4zM2340,1076h4v4h-4zM2349,1076h4v4h-4zM1744,1084h5v5h-5zM1736,1089h4v4h-4zM1749,1093h4v4h-4zM1774,1093h5v4h-5zM1556,1097h4v4h-4zM1791,1097h9v4h-9zM1564,1101h5v5h-5zM1800,1101h4v5h-4zM1491,1106h5v4h-5zM1804,1106h5v4h-5zM2357,1106h4v4h-4zM1809,1110h8v4h-8zM1817,1119h13v4h-13zM1821,1123h5v4h-5zM1826,1127h4v4h-4zM1826,1136h4v4h-4zM1607,1140h4v4h-4zM1821,1140h5v4h-5zM1817,1153h4v4h-4zM1817,1161h4v5h-4zM1710,1166h4v4h-4zM1817,1166h4v4h-4zM1723,1170h4v4h-4zM1821,1174h5v5h-5zM1817,1179h9v4h-9zM2177,1183h4v4h-4zM1817,1187h4v4h-4zM1817,1191h4v5h-4zM1817,1200h4v4h-4zM2374,1200h5v4h-5zM1813,1204h8v5h-8zM1813,1209h8v4h-8zM2263,1209h8v4h-8zM2297,1213h9v4h-9zM1813,1226h4v4h-4zM1821,1230h5v4h-5zM1817,1234h4v5h-4zM1826,1239h4v4h-4zM1843,1251h4v5h-4zM1916,1256h8v4h-8zM1929,1256h4v4h-4zM1946,1256h4v4h-4zM1916,1260h38v4h-38zM1804,1264h5v5h-5zM1916,1264h47v5h-47zM1851,1269h5v4h-5zM1860,1269h4v4h-4zM1924,1269h47v4h-47zM2374,1269h5v4h-5zM2391,1269h5v4h-5zM1864,1273h9v4h-9zM1933,1273h26v4h-26zM1963,1273h13v4h-13zM2370,1273h17v4h-17zM2391,1273h13v4h-13zM1869,1277h8v4h-8zM1941,1277h18v4h-18zM1963,1277h8v4h-8zM2379,1277h8v4h-8zM2400,1277h4v4h-4zM1941,1281h18v5h-18zM1967,1281h4v5h-4zM1980,1281h4v5h-4zM2391,1281h5v5h-5zM2413,1281h8v5h-8zM1950,1286h17v4h-17zM1971,1286h5v4h-5zM1843,1290h4v4h-4zM1950,1290h9v4h-9zM1971,1290h9v4h-9zM2417,1290h4v4h-4zM1851,1294h5v5h-5zM1950,1294h9v5h-9zM2113,1294h4v5h-4zM2121,1294h5v5h-5zM2134,1294h5v5h-5zM2143,1294h4v5h-4zM1856,1299h8v4h-8zM1950,1299h21v4h-21zM1980,1299h4v4h-4zM2121,1299h5v4h-5zM2134,1299h5v4h-5zM1954,1303h13v4h-13zM1980,1303h9v4h-9zM2121,1303h5v4h-5zM2143,1303h4v4h-4zM1907,1307h9v4h-9zM1959,1307h12v4h-12zM1980,1307h4v4h-4zM2036,1307h25v4h-25zM2074,1307h5v4h-5zM2113,1307h4v4h-4zM2121,1307h13v4h-13zM1903,1311h13v5h-13zM1959,1311h4v5h-4zM1967,1311h4v5h-4zM2044,1311h5v5h-5zM2053,1311h4v5h-4zM2061,1311h9v5h-9zM2074,1311h5v5h-5zM2121,1311h5v5h-5zM2147,1311h4v5h-4zM1980,1316h4v4h-4zM2040,1316h30v4h-30zM2079,1316h4v4h-4zM2117,1316h4v4h-4zM1971,1320h5v4h-5zM1984,1320h5v4h-5zM2040,1320h17v4h-17zM2070,1320h9v4h-9zM1971,1324h9v5h-9zM1984,1324h5v5h-5zM2044,1324h17v5h-17zM2066,1324h4v5h-4zM2079,1324h8v5h-8zM1976,1329h4v4h-4zM2044,1329h5v4h-5zM2053,1329h34v4h-34zM2044,1333h39v4h-39zM2044,1337h39v4h-39zM1980,1341h4v5h-4zM1989,1341h4v5h-4zM2053,1341h17v5h-17zM1997,1346h9v4h-9zM2057,1346h4v4h-4zM1980,1350h4v4h-4zM1989,1350h4v4h-4zM2473,1350h4v4h-4zM1976,1354h4v5h-4zM2469,1354h4v5h-4zM1980,1359h4v4h-4zM1989,1359h8v4h-8zM2001,1359h5v4h-5zM1980,1363h4v4h-4zM1989,1363h4v4h-4zM1997,1363h9v4h-9zM2473,1363h4v4h-4zM2524,1363h5v4h-5zM1976,1367h8v4h-8zM1989,1367h4v4h-4zM2434,1367h5v4h-5zM2524,1367h5v4h-5zM1997,1371h4v5h-4zM2434,1371h5v5h-5zM2524,1371h5v5h-5zM1980,1376h9v4h-9zM2434,1376h5v4h-5zM2516,1376h4v4h-4zM2529,1376h4v4h-4zM1984,1380h5v4h-5zM1993,1380h8v4h-8zM2434,1380h9v4h-9zM2516,1380h4v4h-4zM1976,1384h4v5h-4zM1984,1384h17v5h-17zM2439,1384h4v5h-4zM1980,1389h21v4h-21zM1976,1393h21v4h-21zM1976,1397h21v4h-21zM2203,1397h4v4h-4zM1980,1401h9v5h-9zM2203,1401h4v5h-4zM2211,1401h5v5h-5zM1980,1406h9v4h-9zM2203,1406h4v4h-4zM2216,1406h4v4h-4zM1980,1410h13v4h-13zM2203,1410h4v4h-4zM2211,1410h9v4h-9zM1980,1414h4v5h-4zM1989,1414h4v5h-4zM2203,1414h17v5h-17zM1976,1419h13v4h-13zM1971,1427h9v4h-9zM2121,1427h9v4h-9zM1967,1431h9v5h-9zM2113,1431h4v5h-4zM2126,1431h4v5h-4zM2134,1431h5v5h-5zM1963,1436h13v4h-13zM1950,1440h4v4h-4zM1959,1440h12v4h-12zM1976,1440h4v4h-4zM1946,1444h25v5h-25zM2306,1444h4v5h-4zM1946,1449h4v4h-4zM1954,1449h13v4h-13zM2297,1449h4v4h-4zM1946,1453h21v4h-21zM2306,1453h8v4h-8zM1946,1457h17v4h-17zM2301,1457h5v4h-5zM1946,1461h13v5h-13zM2297,1461h4v5h-4zM2306,1461h4v5h-4zM2306,1466h4v4h-4zM1929,1474h4v5h-4zM1916,1479h8v4h-8zM1929,1479h21v4h-21zM1911,1483h9v4h-9zM1924,1483h5v4h-5zM1933,1483h4v4h-4zM1941,1483h5v4h-5zM1920,1487h4v4h-4zM1933,1487h8v4h-8zM1911,1491h9v5h-9zM1924,1491h13v5h-13zM1911,1496h9v4h-9zM1933,1496h8v4h-8zM1907,1500h13v4h-13zM1924,1500h13v4h-13zM1941,1500h5v4h-5zM1911,1504h9v5h-9zM1924,1504h5v5h-5zM1933,1504h8v5h-8zM1907,1509h13v4h-13zM1933,1509h4v4h-4zM1903,1513h17v4h-17zM1929,1513h8v4h-8zM1907,1517h30v4h-30zM1903,1521h30v5h-30zM1894,1526h26v4h-26zM1929,1526h8v4h-8zM1890,1530h4v4h-4zM1899,1530h4v4h-4zM1916,1530h4v4h-4zM1933,1530h4v4h-4zM1894,1534h22v5h-22zM1894,1539h5v4h-5zM1903,1539h4v4h-4zM2400,1539h4v4h-4zM2409,1539h12v4h-12zM2486,1539h13v4h-13zM1894,1543h5v4h-5zM2417,1543h4v4h-4zM2490,1543h4v4h-4zM1894,1547h5v4h-5zM2413,1547h13v4h-13zM2494,1547h5v4h-5zM2580,1547h4v4h-4zM2417,1551h9v5h-9zM2494,1551h5v5h-5zM2421,1556h9v4h-9zM1890,1560h4v4h-4zM2430,1560h9v4h-9zM2529,1560h4v4h-4zM2559,1560h4v4h-4zM1890,1564h4v5h-4zM2430,1564h9v5h-9zM2494,1564h5v5h-5zM2546,1564h4v5h-4zM2554,1564h5v5h-5zM2434,1569h9v4h-9zM2447,1569h4v4h-4zM2494,1569h9v4h-9zM2524,1569h5v4h-5zM2546,1569h4v4h-4zM1903,1573h8v4h-8zM2447,1573h4v4h-4zM2464,1573h5v4h-5zM2524,1573h5v4h-5zM1903,1577h8v4h-8zM2524,1577h5v4h-5zM2520,1581h9v5h-9zM1920,1586h4v4h-4zM2520,1586h9v4h-9zM1920,1590h4v4h-4zM2520,1590h9v4h-9zM2520,1594h9v5h-9zM2589,1594h4v5h-4zM2516,1599h8v4h-8zM2597,1599h4v4h-4zM2511,1603h9v4h-9zM2507,1607h13v4h-13zM2507,1611h9v5h-9zM2649,1611h4v5h-4zM2859,1611h4v5h-4zM2503,1616h8v4h-8zM2499,1620h8v4h-8zM2499,1624h4v5h-4zM2490,1629h13v4h-13zM2490,1633h4v4h-4zM2486,1637h8v4h-8zM2486,1641h4v5h-4zM1890,1646h4v4h-4zM1980,1817h4v4h-4zM2271,1843h9v4h-9zM2267,1847h13v4h-13zM2267,1851h13v5h-13zM2301,1851h18v5h-18zM2263,1856h17v4h-17zM2297,1856h4v4h-4zM2306,1856h8v4h-8zM2259,1860h25v4h-25zM2301,1860h18v4h-18zM2241,1864h13v5h-13zM2263,1864h21v5h-21zM2297,1864h9v5h-9zM2310,1864h4v5h-4zM2254,1869h5v4h-5zM2263,1869h17v4h-17zM2297,1869h9v4h-9zM2310,1869h9v4h-9zM2263,1873h17v4h-17zM2254,1877h5v4h-5zM2263,1877h13v4h-13zM2254,1881h5v5h-5zM2250,1886h4v4h-4zM2259,1886h4v4h-4zM2404,1941h9v5h-9zM2396,1946h8v4h-8zM2404,1950h9v4h-9zM2426,1959h4v4h-4zM2434,1959h5v4h-5zM2426,1963h4v4h-4zM2430,1967h9v4h-9zM2430,1971h13v5h-13zM2430,1980h4v4h-4zM2777,2104h4v5h-4zM2593,2117h4v4h-4zM2610,2190h4v4h-4zM2593,2203h4v4h-4zM2524,2306h5v4h-5zM2344,2319h5v4h-5zM2511,2319h5v4h-5zM2503,2327h4v4h-4zM2289,2336h4v4h-4zM2336,2340h4v4h-4zM2494,2340h5v4h-5zM2473,2344h4v5h-4zM2473,2361h4v5h-4zM2443,2379h8v4h-8zM1997,2417h4v4h-4zM2293,2499h4v4h-4zM2181,2520h9v4h-9zM2203,2524h4v5h-4zM1950,2584h4v5h-4zM2109,2597h8v4h-8zM2104,2606h9v4h-9zM2121,2610h5v4h-5zM2104,2614h5v5h-5zM2096,2619h4v4h-4z" fill="#e16462" shape-rendering="crispEdges"/>
<path d="M969,656h4v4h-4zM994,656h5v4h-5zM981,759h5v4h-5zM981,763h5v4h-5zM1920,814h4v5h-4zM1894,819h5v4h-5zM1916,823h4v4h-4zM1924,823h5v4h-5zM1946,827h4v4h-4zM1950,844h4v5h-4zM1187,857h4v4h-4zM1864,866h5v4h-5zM1963,866h4v4h-4zM1976,866h4v4h-4zM1843,870h4v4h-4zM1851,870h9v4h-9zM1916,870h13v4h-13zM1980,870h4v4h-4zM1839,874h8v5h-8zM1929,874h4v5h-4zM1933,891h4v5h-4zM1976,891h4v5h-4zM1937,896h4v4h-4zM1989,900h4v4h-4zM1830,913h4v4h-4zM1817,917h9v4h-9zM1830,917h4v4h-4zM1877,917h4v4h-4zM1890,921h4v5h-4zM1899,921h4v5h-4zM1791,943h5v4h-5zM1787,947h4v4h-4zM1903,947h4v4h-4zM1946,951h4v5h-4zM1924,956h5v4h-5zM1980,960h4v4h-4zM2006,973h4v4h-4zM1727,977h9v4h-9zM1719,981h12v5h-12zM2096,981h4v5h-4zM2109,981h4v5h-4zM1950,994h4v5h-4zM1890,999h4v4h-4zM2040,1016h4v4h-4zM2250,1016h9v4h-9zM2297,1020h4v4h-4zM1941,1024h9v5h-9zM2027,1024h4v5h-4zM2164,1024h5v5h-5zM2186,1024h4v5h-4zM2306,1024h4v5h-4zM1933,1029h21v4h-21zM1933,1033h8v4h-8zM1946,1033h8v4h-8zM1971,1033h18v4h-18zM1937,1037h17v4h-17zM1980,1037h4v4h-4zM2104,1037h5v4h-5zM2306,1037h4v4h-4zM1971,1041h5v5h-5zM2336,1046h4v4h-4zM1706,1054h4v5h-4zM1697,1059h4v4h-4zM1706,1059h4v4h-4zM1701,1063h5v4h-5zM1701,1067h5v4h-5zM1753,1080h4v4h-4zM2357,1101h4v5h-4zM2357,1110h4v4h-4zM1603,1136h4v4h-4zM2147,1174h9v5h-9zM1813,1183h8v4h-8zM2117,1183h4v4h-4zM2147,1183h4v4h-4zM2173,1183h4v4h-4zM1813,1187h4v4h-4zM2096,1187h8v4h-8zM2181,1187h5v4h-5zM1813,1191h4v5h-4zM1817,1196h4v4h-4zM2143,1196h4v4h-4zM2156,1196h4v4h-4zM1813,1200h4v4h-4zM2143,1200h13v4h-13zM2160,1200h21v4h-21zM2053,1204h4v5h-4zM2066,1204h8v5h-8zM2087,1204h4v5h-4zM2096,1204h4v5h-4zM2109,1204h4v5h-4zM2143,1204h17v5h-17zM2177,1204h4v5h-4zM2186,1204h4v5h-4zM2053,1209h13v4h-13zM2087,1209h4v4h-4zM2104,1209h9v4h-9zM2130,1209h9v4h-9zM2147,1209h4v4h-4zM2289,1209h4v4h-4zM2297,1209h4v4h-4zM2074,1213h9v4h-9zM2087,1213h4v4h-4zM2109,1213h4v4h-4zM2126,1213h4v4h-4zM2139,1213h4v4h-4zM2190,1213h4v4h-4zM2263,1213h8v4h-8zM2289,1213h4v4h-4zM2113,1217h4v4h-4zM2130,1217h4v4h-4zM2194,1217h9v4h-9zM2297,1217h13v4h-13zM2314,1217h5v4h-5zM2083,1221h4v5h-4zM2100,1221h4v5h-4zM2109,1221h8v5h-8zM2121,1221h5v5h-5zM2289,1221h4v5h-4zM2306,1221h4v5h-4zM2331,1221h9v5h-9zM2083,1226h4v4h-4zM2100,1226h4v4h-4zM2121,1226h5v4h-5zM2284,1226h13v4h-13zM2327,1226h9v4h-9zM1826,1230h4v4h-4zM2057,1230h4v4h-4zM2254,1230h5v4h-5zM2284,1230h5v4h-5zM2336,1230h4v4h-4zM1826,1234h4v5h-4zM2019,1234h4v5h-4zM2091,1234h5v5h-5zM2100,1234h4v5h-4zM2109,1234h4v5h-4zM2130,1234h4v5h-4zM2263,1234h4v5h-4zM2271,1234h9v5h-9zM2340,1234h9v5h-9zM2357,1234h4v5h-4zM1821,1239h5v4h-5zM2074,1239h5v4h-5zM2096,1239h4v4h-4zM2349,1239h4v4h-4zM2366,1239h4v4h-4zM1830,1243h9v4h-9zM2083,1243h4v4h-4zM2357,1247h4v4h-4zM1839,1251h4v5h-4zM1847,1251h4v5h-4zM2083,1251h4v5h-4zM2130,1251h4v5h-4zM2366,1251h4v5h-4zM1834,1256h5v4h-5zM1851,1256h5v4h-5zM1924,1256h5v4h-5zM1933,1256h4v4h-4zM2130,1256h4v4h-4zM2361,1256h5v4h-5zM2379,1256h4v4h-4zM1839,1260h4v4h-4zM1851,1260h9v4h-9zM2361,1260h9v4h-9zM1843,1264h4v5h-4zM1856,1264h4v5h-4zM1864,1264h5v5h-5zM1963,1264h4v5h-4zM1847,1269h4v4h-4zM1856,1269h4v4h-4zM1873,1269h4v4h-4zM1881,1269h5v4h-5zM1916,1269h8v4h-8zM2079,1269h4v4h-4zM2126,1269h4v4h-4zM1860,1273h4v4h-4zM1873,1273h4v4h-4zM1881,1273h13v4h-13zM1959,1273h4v4h-4zM2079,1273h4v4h-4zM1890,1277h4v4h-4zM1959,1277h4v4h-4zM1971,1277h13v4h-13zM1959,1281h8v5h-8zM1971,1281h9v5h-9zM1984,1281h5v5h-5zM2079,1281h4v5h-4zM2091,1281h5v5h-5zM1933,1286h8v4h-8zM1967,1286h4v4h-4zM1976,1286h8v4h-8zM1989,1286h8v4h-8zM2006,1286h4v4h-4zM2040,1286h4v4h-4zM2109,1286h4v4h-4zM1937,1290h4v4h-4zM1959,1290h12v4h-12zM1980,1290h9v4h-9zM2001,1290h5v4h-5zM2079,1290h4v4h-4zM1856,1294h8v5h-8zM1959,1294h30v5h-30zM2010,1294h13v5h-13zM2027,1294h4v5h-4zM2057,1294h4v5h-4zM1864,1299h9v4h-9zM1971,1299h9v4h-9zM1993,1299h4v4h-4zM2027,1299h4v4h-4zM2040,1299h9v4h-9zM2057,1299h4v4h-4zM1873,1303h13v4h-13zM1967,1303h13v4h-13zM2006,1303h4v4h-4zM2023,1303h4v4h-4zM2053,1303h8v4h-8zM2070,1303h4v4h-4zM1881,1307h5v4h-5zM1971,1307h9v4h-9zM1984,1307h5v4h-5zM2006,1307h4v4h-4zM2031,1307h5v4h-5zM1963,1311h4v5h-4zM1971,1311h22v5h-22zM1967,1316h13v4h-13zM1984,1316h9v4h-9zM2074,1316h5v4h-5zM1967,1320h4v4h-4zM1976,1320h8v4h-8zM1989,1320h4v4h-4zM1980,1324h4v5h-4zM1989,1324h4v5h-4zM1971,1329h5v4h-5zM1980,1329h9v4h-9zM1993,1329h4v4h-4zM1976,1333h17v4h-17zM1980,1337h13v4h-13zM1976,1341h4v5h-4zM1984,1341h5v5h-5zM1993,1341h8v5h-8zM1976,1346h21v4h-21zM2160,1346h4v4h-4zM1976,1350h4v4h-4zM1984,1350h5v4h-5zM1993,1350h13v4h-13zM1980,1354h21v5h-21zM2156,1354h4v5h-4zM1976,1359h4v4h-4zM1984,1359h5v4h-5zM1997,1359h4v4h-4zM2147,1359h9v4h-9zM1976,1363h4v4h-4zM1984,1363h5v4h-5zM1993,1363h4v4h-4zM2147,1363h4v4h-4zM1984,1367h5v4h-5zM1993,1367h13v4h-13zM2139,1367h8v4h-8zM1980,1371h17v5h-17zM2001,1371h5v5h-5zM1989,1376h12v4h-12zM2134,1376h5v4h-5zM1980,1380h4v4h-4zM1989,1380h4v4h-4zM2126,1380h4v4h-4zM1980,1384h4v5h-4zM2121,1384h5v5h-5zM2109,1389h8v4h-8zM1920,1483h4v4h-4zM1929,1483h4v4h-4zM1916,1487h4v4h-4zM1924,1487h9v4h-9zM1920,1491h4v5h-4zM1920,1496h13v4h-13zM1920,1500h4v4h-4zM1920,1504h4v5h-4zM1929,1504h4v5h-4zM1920,1509h13v4h-13zM1920,1513h9v4h-9zM2606,1517h4v4h-4zM2601,1526h9v4h-9zM2601,1530h5v4h-5zM2601,1534h5v5h-5zM2614,1534h5v5h-5zM2503,1539h4v4h-4zM2404,1543h5v4h-5zM2413,1543h4v4h-4zM2499,1543h8v4h-8zM2597,1543h4v4h-4zM2409,1547h4v4h-4zM2499,1547h8v4h-8zM2593,1547h13v4h-13zM2499,1551h8v5h-8zM2571,1551h9v5h-9zM2443,1556h4v4h-4zM2490,1556h21v4h-21zM2559,1556h21v4h-21zM2589,1556h4v4h-4zM2443,1560h8v4h-8zM2490,1560h39v4h-39zM2533,1560h4v4h-4zM2554,1560h5v4h-5zM2563,1560h4v4h-4zM2439,1564h8v5h-8zM2481,1564h13v5h-13zM2499,1564h47v5h-47zM2550,1564h4v5h-4zM2443,1569h4v4h-4zM2451,1569h43v4h-43zM2533,1569h13v4h-13zM1924,1573h5v4h-5zM2451,1573h13v4h-13zM2469,1573h25v4h-25zM2451,1577h35v4h-35zM1920,1581h4v5h-4zM2443,1590h4v4h-4zM2601,1590h5v4h-5zM2593,1594h4v5h-4zM1894,1599h9v4h-9zM2430,1599h4v4h-4zM2439,1599h4v4h-4zM2426,1603h4v4h-4zM2434,1603h5v4h-5zM1886,1607h4v4h-4zM2426,1607h8v4h-8zM2417,1611h4v5h-4zM1881,1616h5v4h-5zM2417,1616h4v4h-4zM1877,1620h4v4h-4zM2413,1620h4v4h-4zM2404,1624h5v5h-5zM1881,1629h5v4h-5zM2404,1629h5v4h-5zM1886,1633h4v4h-4zM2400,1633h4v4h-4zM1886,1637h4v4h-4zM2400,1637h4v4h-4zM1886,1641h8v5h-8zM2473,1650h4v4h-4zM1886,1654h8v5h-8zM2473,1654h4v5h-4zM2443,1680h8v4h-8zM2704,2156h5v4h-5zM2717,2156h4v4h-4zM2559,2259h4v4h-4zM2366,2301h4v5h-4zM2529,2301h4v5h-4zM2520,2310h4v4h-4zM2031,2370h5v4h-5zM1980,2447h4v4h-4zM2310,2451h4v5h-4zM2310,2456h4v4h-4zM2306,2464h4v5h-4zM2306,2469h8v4h-8zM1967,2473h4v4h-4zM2310,2473h4v4h-4zM2181,2516h5v4h-5zM1954,2520h5v4h-5zM2207,2524h17v5h-17zM2177,2529h4v4h-4zM2181,2533h5v4h-5zM2177,2541h4v5h-4zM2169,2550h4v4h-4zM2169,2559h4v4h-4zM2104,2597h5v4h-5zM2104,2601h9v5h-9zM2091,2610h5v4h-5z" fill="#cc4778" shape-rendering="crispEdges"/>
<path d="M981,767h5v4h-5zM1993,883h4v4h-4zM2023,917h4v4h-4zM2049,921h8v5h-8zM2049,926h4v4h-4zM2057,926h4v4h-4zM2057,947h4v4h-4zM1976,951h4v5h-4zM2061,977h9v4h-9zM2066,981h4v5h-4zM2091,981h5v5h-5zM1894,994h9v5h-9zM2139,994h4v5h-4zM2147,994h4v5h-4zM2057,1011h4v5h-4zM2066,1016h4v4h-4zM2079,1016h4v4h-4zM2156,1020h4v4h-4zM2057,1029h4v4h-4zM2100,1041h9v5h-9zM2353,1101h4v5h-4zM2366,1131h4v5h-4zM2357,1161h4v5h-4zM2100,1179h4v4h-4zM2113,1179h13v4h-13zM2169,1179h8v4h-8zM2190,1179h4v4h-4zM2100,1183h17v4h-17zM2121,1183h5v4h-5zM2190,1183h4v4h-4zM2104,1187h5v4h-5zM2113,1187h13v4h-13zM2143,1187h4v4h-4zM2091,1191h5v5h-5zM2100,1191h26v5h-26zM2083,1196h38v4h-38zM2147,1196h4v4h-4zM2074,1200h5v4h-5zM2083,1200h26v4h-26zM2057,1204h9v5h-9zM2079,1204h8v5h-8zM2091,1204h5v5h-5zM2100,1204h9v5h-9zM2139,1204h4v5h-4zM2374,1204h5v5h-5zM2066,1209h21v4h-21zM2091,1209h13v4h-13zM2139,1209h4v4h-4zM2053,1213h21v4h-21zM2083,1213h4v4h-4zM2091,1213h18v4h-18zM2130,1213h9v4h-9zM2079,1217h17v4h-17zM2100,1217h13v4h-13zM2121,1217h9v4h-9zM2134,1217h9v4h-9zM2340,1217h4v4h-4zM2349,1217h4v4h-4zM2053,1221h4v5h-4zM2079,1221h4v5h-4zM2087,1221h13v5h-13zM2104,1221h5v5h-5zM2117,1221h4v5h-4zM2126,1221h13v5h-13zM2220,1221h13v5h-13zM2237,1221h22v5h-22zM2293,1221h8v5h-8zM2349,1221h8v5h-8zM2053,1226h4v4h-4zM2079,1226h4v4h-4zM2087,1226h13v4h-13zM2104,1226h17v4h-17zM2126,1226h13v4h-13zM2199,1226h12v4h-12zM2216,1226h4v4h-4zM2250,1226h9v4h-9zM2301,1226h5v4h-5zM2336,1226h4v4h-4zM2344,1226h5v4h-5zM2353,1226h17v4h-17zM2053,1230h4v4h-4zM2079,1230h34v4h-34zM2126,1230h13v4h-13zM2259,1230h4v4h-4zM2267,1230h17v4h-17zM2344,1230h5v4h-5zM2070,1234h4v5h-4zM2079,1234h12v5h-12zM2096,1234h4v5h-4zM2104,1234h5v5h-5zM2134,1234h9v5h-9zM2259,1234h4v5h-4zM2267,1234h4v5h-4zM2280,1234h4v5h-4zM2019,1239h4v4h-4zM2079,1239h17v4h-17zM2100,1239h9v4h-9zM2130,1239h4v4h-4zM2340,1239h9v4h-9zM2353,1239h13v4h-13zM2079,1243h4v4h-4zM2104,1243h5v4h-5zM2130,1243h9v4h-9zM2023,1247h4v4h-4zM2074,1247h13v4h-13zM2130,1247h4v4h-4zM2079,1251h4v5h-4zM2010,1256h4v4h-4zM2079,1256h4v4h-4zM2109,1256h8v4h-8zM2006,1260h8v4h-8zM2079,1260h4v4h-4zM2109,1260h21v4h-21zM2006,1264h4v5h-4zM2083,1264h4v5h-4zM2006,1269h4v4h-4zM2087,1269h4v4h-4zM1997,1273h9v4h-9zM2121,1273h9v4h-9zM1993,1277h13v4h-13zM2091,1277h5v4h-5zM1989,1281h17v5h-17zM2010,1281h4v5h-4zM2019,1281h4v5h-4zM2074,1281h5v5h-5zM2117,1281h4v5h-4zM1997,1286h9v4h-9zM2014,1286h9v4h-9zM2027,1286h9v4h-9zM2079,1286h4v4h-4zM2096,1286h4v4h-4zM2113,1286h4v4h-4zM1989,1290h12v4h-12zM2006,1290h38v4h-38zM2049,1290h4v4h-4zM1989,1294h21v5h-21zM2023,1294h4v5h-4zM2031,1294h22v5h-22zM1989,1299h4v4h-4zM1997,1299h30v4h-30zM2031,1299h9v4h-9zM2049,1299h8v4h-8zM2061,1299h13v4h-13zM1989,1303h17v4h-17zM2019,1303h4v4h-4zM2027,1303h9v4h-9zM2040,1303h13v4h-13zM2061,1303h5v4h-5zM2079,1303h4v4h-4zM1989,1307h17v4h-17zM2010,1307h4v4h-4zM2061,1307h5v4h-5zM1993,1311h13v5h-13zM2049,1311h4v5h-4zM2057,1311h4v5h-4zM1997,1316h9v4h-9zM2070,1316h4v4h-4zM1993,1320h8v4h-8zM2057,1320h9v4h-9zM1993,1324h13v5h-13zM2061,1324h5v5h-5zM1989,1329h4v4h-4zM1993,1333h8v4h-8zM1881,1611h5v5h-5zM2023,2379h4v4h-4zM2366,2443h4v4h-4z" fill="#b12a90" shape-rendering="crispEdges"/>
<path d="M2357,1166h4v4h-4zM2194,1183h5v4h-5zM2036,1213h4v4h-4zM2049,1213h4v4h-4zM2027,1217h30v4h-30zM2027,1221h26v5h-26zM2301,1221h5v5h-5zM2023,1226h30v4h-30zM2057,1226h4v4h-4zM2023,1230h30v4h-30zM2349,1230h12v4h-12zM2366,1230h8v4h-8zM2023,1234h47v5h-47zM2074,1234h5v5h-5zM2349,1234h8v5h-8zM2014,1239h5v4h-5zM2023,1239h51v4h-51zM2014,1243h26v4h-26zM2044,1243h5v4h-5zM2057,1243h4v4h-4zM2066,1243h13v4h-13zM2096,1243h4v4h-4zM2019,1247h4v4h-4zM2027,1247h26v4h-26zM2057,1247h4v4h-4zM2066,1247h8v4h-8zM2104,1247h5v4h-5zM2019,1251h34v5h-34zM2061,1251h5v5h-5zM2070,1251h9v5h-9zM2104,1251h5v5h-5zM2014,1256h30v4h-30zM2049,1256h8v4h-8zM2074,1256h5v4h-5zM2083,1256h4v4h-4zM2014,1260h39v4h-39zM2070,1260h4v4h-4zM2083,1260h4v4h-4zM2096,1260h4v4h-4zM2001,1264h5v5h-5zM2010,1264h39v5h-39zM2057,1264h4v5h-4zM2066,1264h8v5h-8zM2079,1264h4v5h-4zM2087,1264h4v5h-4zM2096,1264h4v5h-4zM2117,1264h4v5h-4zM2001,1269h5v4h-5zM2010,1269h56v4h-56zM2074,1269h5v4h-5zM2100,1269h4v4h-4zM2117,1269h4v4h-4zM2006,1273h51v4h-51zM2066,1273h4v4h-4zM2074,1273h5v4h-5zM2091,1273h9v4h-9zM2109,1273h12v4h-12zM2006,1277h51v4h-51zM2074,1277h5v4h-5zM2100,1277h4v4h-4zM2109,1277h8v4h-8zM2006,1281h4v5h-4zM2014,1281h5v5h-5zM2023,1281h34v5h-34zM2061,1281h9v5h-9zM2096,1281h4v5h-4zM2109,1281h8v5h-8zM2010,1286h4v4h-4zM2023,1286h4v4h-4zM2036,1286h4v4h-4zM2044,1286h17v4h-17zM2066,1286h4v4h-4zM2100,1286h9v4h-9zM2044,1290h5v4h-5zM2053,1290h8v4h-8zM2066,1290h8v4h-8zM2053,1294h4v5h-4zM2070,1294h9v5h-9zM2070,1307h4v4h-4zM1989,2439h4v4h-4z" fill="#8f0da4" shape-rendering="crispEdges"/>
<path d="M2361,1234h13v5h-13zM2040,1243h4v4h-4zM2049,1243h8v4h-8zM2061,1243h5v4h-5zM2087,1243h4v4h-4zM2100,1243h4v4h-4zM2053,1247h4v4h-4zM2061,1247h5v4h-5zM2087,1247h4v4h-4zM2053,1251h4v5h-4zM2066,1251h4v5h-4zM2087,1251h4v5h-4zM2044,1256h5v4h-5zM2066,1256h4v4h-4zM2096,1256h4v4h-4zM2053,1260h4v4h-4zM2061,1260h5v4h-5zM2074,1260h5v4h-5zM2104,1260h5v4h-5zM2049,1264h8v5h-8zM2061,1264h5v5h-5zM2074,1264h5v5h-5zM2100,1264h4v5h-4zM2109,1264h8v5h-8zM2066,1269h8v4h-8zM2091,1269h9v4h-9zM2104,1269h13v4h-13zM2057,1273h9v4h-9zM2070,1273h4v4h-4zM2100,1273h9v4h-9zM2057,1277h9v4h-9zM2070,1277h4v4h-4zM2096,1277h4v4h-4zM2104,1277h5v4h-5zM2117,1277h4v4h-4zM2057,1281h4v5h-4zM2100,1281h4v5h-4zM2061,1286h5v4h-5zM2070,1286h9v4h-9zM2061,1290h5v4h-5zM2074,1290h5v4h-5zM2061,1294h9v5h-9zM2074,1299h5v4h-5zM2066,1303h4v4h-4zM2074,1303h5v4h-5zM2066,1307h4v4h-4zM2289,2503h4v4h-4z" fill="#6a00a8" shape-rendering="crispEdges"/>
<path d="M2263,1011h4v5h-4zM2173,1016h4v4h-4zM2379,1200h4v4h-4zM2379,1204h4v5h-4zM2091,1243h5v4h-5zM2100,1247h4v4h-4zM2057,1251h4v5h-4zM2100,1251h4v5h-4zM2057,1256h9v4h-9zM2070,1256h4v4h-4zM2104,1256h5v4h-5zM2066,1260h4v4h-4zM2087,1260h9v4h-9zM2100,1260h4v4h-4zM2091,1264h5v5h-5zM2104,1264h5v5h-5zM2066,1277h4v4h-4zM2070,1281h4v5h-4zM2601,1543h5v4h-5z" fill="#41049d" shape-rendering="crispEdges"/>
<path d="M2053,947h4v4h-4zM2057,951h4v5h-4zM2019,969h4v4h-4zM2023,973h4v4h-4zM2023,981h8v5h-8zM2229,1011h4v5h-4zM2297,1011h4v5h-4zM2293,1016h4v4h-4zM2310,1037h4v4h-4zM2310,1041h4v5h-4zM2331,1041h5v5h-5zM2314,1046h5v4h-5zM2344,1084h5v5h-5zM2353,1093h4v4h-4zM2357,1114h13v5h-13zM2404,1149h5v4h-5zM2361,1153h5v4h-5zM2349,1183h4v4h-4zM2109,1187h4v4h-4zM2147,1191h4v5h-4zM2379,1196h4v4h-4zM2096,1217h4v4h-4zM2126,1234h4v5h-4zM2091,1247h9v4h-9zM2134,1247h5v4h-5zM2091,1251h9v5h-9zM2087,1256h9v4h-9zM2100,1256h4v4h-4zM2057,1260h4v4h-4zM2121,1264h5v5h-5zM2121,1269h5v4h-5zM2104,1281h5v5h-5zM2614,1521h5v5h-5z" fill="#0d0887" shape-rendering="crispEdges"/>
<path d="M1920,810h9v4h-9zM1929,814h8v5h-8zM1899,819h4v4h-4zM1907,819h9v4h-9zM1920,819h4v4h-4zM1937,819h4v4h-4zM1937,827h4v4h-4zM1937,831h4v5h-4zM1920,857h4v4h-4zM34,861h13v5h-13zM21,866h9v4h-9zM34,866h17v4h-17zM21,870h9v4h-9zM34,870h13v4h-13zM1929,870h4v4h-4zM1916,874h8v5h-8zM1933,874h4v5h-4zM1924,879h9v4h-9zM60,883h9v4h-9zM1937,883h4v4h-4zM69,887h4v4h-4zM64,891h13v5h-13zM81,896h9v4h-9zM81,900h13v4h-13zM86,904h17v5h-17zM1997,904h4v5h-4zM86,909h17v4h-17zM2001,909h5v4h-5zM90,913h13v4h-13zM90,917h13v4h-13zM2027,917h4v4h-4zM2023,921h4v5h-4zM103,926h8v4h-8zM2023,926h4v4h-4zM103,930h8v4h-8zM2023,930h4v4h-4zM99,934h17v5h-17zM2074,934h5v5h-5zM94,939h26v4h-26zM2083,939h4v4h-4zM94,943h13v4h-13zM94,947h13v4h-13zM120,947h4v4h-4zM94,951h5v5h-5zM120,951h4v5h-4zM94,956h5v4h-5zM107,956h4v4h-4zM2040,956h4v4h-4zM94,960h9v4h-9zM99,964h4v5h-4zM2096,999h17v4h-17zM2096,1003h4v4h-4zM2109,1003h8v4h-8zM2121,1003h5v4h-5zM2091,1007h5v4h-5zM2104,1007h26v4h-26zM2091,1011h18v5h-18zM2113,1011h4v5h-4zM2121,1011h9v5h-9zM2091,1016h39v4h-39zM2091,1020h5v4h-5zM2100,1020h9v4h-9zM2113,1020h4v4h-4zM2091,1024h30v5h-30zM2096,1029h17v4h-17zM2100,1033h9v4h-9zM2100,1037h4v4h-4zM2109,1037h4v4h-4zM2057,1217h13v4h-13zM2074,1217h5v4h-5zM2057,1221h13v5h-13zM2074,1221h5v5h-5zM2061,1226h9v4h-9zM2074,1226h5v4h-5zM2074,1230h5v4h-5zM2006,1311h8v5h-8zM2019,1311h17v5h-17zM2006,1316h25v4h-25zM2036,1316h4v4h-4zM2006,1320h21v4h-21zM2036,1320h4v4h-4zM2006,1324h30v5h-30zM2014,1329h26v4h-26zM2006,1333h30v4h-30zM2001,1337h5v4h-5zM2010,1337h17v4h-17zM2010,1341h4v5h-4zM2019,1341h4v5h-4z" fill="#e6e6e6" shape-rendering="crispEdges"/>
<path d="M64,887h5v4h-5zM107,943h13v4h-13zM107,947h13v4h-13zM99,951h21v5h-21zM99,956h8v4h-8zM1933,1577h4v4h-4zM2053,1886h8v4h-8zM2164,1890h5v4h-5zM2057,1894h4v5h-4zM2066,1894h8v5h-8zM2096,1894h4v5h-4zM2091,1899h9v4h-9zM2053,1903h4v4h-4zM2061,1903h5v4h-5zM2091,1903h5v4h-5zM2057,1907h4v4h-4zM2091,1907h5v4h-5zM2100,1907h4v4h-4zM2057,1911h9v5h-9zM2083,1911h4v5h-4zM2091,1911h5v5h-5zM2100,1911h4v5h-4zM2113,1920h4v4h-4zM2130,1920h9v4h-9zM2143,1920h4v4h-4zM2117,1924h4v5h-4zM2130,1924h4v5h-4zM2113,1929h4v4h-4zM2139,1929h4v4h-4zM2113,1933h8v4h-8zM2130,1933h4v4h-4zM2143,1933h4v4h-4zM2113,1937h13v4h-13zM2130,1937h9v4h-9zM2134,1941h5v5h-5zM2147,1941h4v5h-4zM2130,1946h9v4h-9zM2121,1954h5v5h-5zM2130,1959h4v4h-4zM2147,1959h4v4h-4zM2130,1963h4v4h-4zM2139,1963h4v4h-4zM2147,1971h4v5h-4zM2156,1976h4v4h-4zM2151,2001h5v5h-5zM2169,2057h4v4h-4zM2160,2061h17v5h-17zM2164,2066h9v4h-9zM2151,2070h5v4h-5zM2181,2070h5v4h-5zM2160,2074h4v5h-4zM2181,2074h5v5h-5zM2151,2079h5v4h-5zM2169,2083h4v4h-4zM2181,2083h5v4h-5zM2156,2087h4v4h-4zM2164,2087h9v4h-9zM2151,2091h13v5h-13zM2173,2091h4v5h-4zM2164,2096h9v4h-9zM2177,2096h4v4h-4zM2160,2100h4v4h-4zM2173,2100h13v4h-13zM2169,2113h4v4h-4zM2169,2130h4v4h-4z" fill="#d0d0d0" shape-rendering="crispEdges"/>
<g fill="none" stroke="#fff" stroke-opacity="0.3" stroke-width="3" stroke-linejoin="round" stroke-linecap="round">
<path d="M2089.9,1584.8 2131.3,1595.1 2162.3,1590 2193.4,1574.4 2245.1,1569.3 2281.4,1558.9 2317.6,1584.8 2369.4,1590 2421.1,1600.3 2462.5,1579.6 2493.6,1564.1 2535,1564.1 2576.4,1548.6"/>
<path d="M2237.4,1481.3 2265.8,1512.3 2317.6,1522.7 2359,1543.4 2395.2,1574.4 2421.1,1595.1"/>
<path d="M2421.1,1600.3 2379.7,1641.7 2338.3,1683.1 2322.8,1719.4 2276.2,1755.6 2265.8,1765.9"/>
<path d="M2017.4,1481.3 2069.2,1502 2110.6,1522.7 2162.3,1543.4 2214.1,1553.7 2255.5,1543.4 2281.4,1558.9"/>
<path d="M2369.4,1590 2338.3,1615.8 2296.9,1646.9 2255.5,1667.6 2229.6,1709 2203.7,1724.5"/>
<path d="M2027.7,1636.5 2043.3,1693.5 2058.8,1745.2 2053.6,1797"/>
<path d="M2265.8,1765.9 2265.8,1822.9 2260.7,1874.6 2291.7,1926.4"/>
<path d="M2498.8,1564.1 2503.9,1615.8 2524.6,1667.6 2535,1719.4"/>
<path d="M2648.9,1615.8 2679.9,1657.2 2628.2,1771.1 2607.5,1848.8 2576.4,1926.4"/>
</g>
<g fill="none" stroke="#fff" stroke-opacity="0.55" stroke-width="1.6" stroke-linejoin="round">
<path d="M936.3,0 1021.7,15.5 1113,29.1 1258.5,38.8 1375,42.7 1500,40.8"/>
<path d="M1113,31.1 1070.3,168.9 1099.4,205.7 1138.2,248.4 1146,285.3"/>
<path d="M1258.5,38.8 1222.8,290.4"/>
<path d="M1376.9,0 1382,293.9"/>
<path d="M967.4,341.6 971.3,355.2 1021.7,351.3 1080,353.3"/>
<path d="M1093.6,285.3 1081.9,351.3"/>
<path d="M1111,285.3 1107.1,310.6 1132.4,341.6 1126.6,366.8 1151.8,396 1188.7,392.1"/>
<path d="M1081.9,351.3 1087.7,363 1068.3,392.1 1060.6,448.4"/>
<path d="M912.3,437.9 1060.6,448.4 1180.1,454.2"/>
<path d="M1190.6,383.5 1328.4,386.3"/>
<path d="M1332.3,293.9 1329.6,364.9 1328.4,386.3 1323.8,481.4"/>
<path d="M1190.6,383.5 1180.1,479.4 1365.3,482.5"/>
<path d="M1329.6,364.9 1472,364.9"/>
<path d="M1325.7,434.8 1448.8,436.7 1475.9,442.5"/>
<path d="M1365.3,482.5 1365.3,506.6 1500,506.6"/>
<path d="M1219.7,480.2 1213.9,574.5 1201.5,714.3"/>
<path d="M1105.2,572.6 1363.4,578.4 1500,579.2"/>
<path d="M1365.3,506.6 1363.4,578.4"/>
<path d="M1121.5,452.3 1105.2,572.6 1101.3,593.9 1087.7,593.9 1085.8,619.2"/>
<path d="M1002.3,446.4 986.8,516.3 1085.8,619.2 1093.6,636.6 1080,659.9 1081.9,675.5"/>
<path d="M1256.6,704.6 1338.1,700.7 1342,590.8 1406.1,590.8 1406.1,636.6 1433.2,648.3 1468.2,656.1 1500,659.9"/>
<path d="M1342,578.4 1342,590.8"/>
<path d="M1460.4,293.9 1466.2,330 1472,364.9 1477.9,407.6 1475.9,442.5 1487.6,469.7 1500,500.8"/>
<path d="M1581.5,110.6 1500,186.3"/>
<path d="M1767.9,225.2 1779.5,271.7 1791.1,314.4 1806.7,330 1830,341.6 1861,353.3 1888.2,351.3 1899.8,364.9"/>
<path d="M1977.5,176.6 2020.2,172.7 2132.8,153.3 2140.5,170.8"/>
<path d="M1500,421.2 1577.6,421.2"/>
<path d="M1500,491.1 1581.5,491.1"/>
<path d="M1597,388.2 1583.5,411.5 1577.6,421.2 1604.8,454.2 1593.2,477.5 1581.5,491.1 1597,516.3 1612.6,531.8 1616.5,547.4 1632,562.9 1639.8,574.5 1635.9,586.2 1628.1,605.6 1616.5,636.6 1604.8,659.9 1608.7,691 1597,718.2"/>
<path d="M1604.8,442.5 1666.9,440.6"/>
<path d="M1663,462 1670.8,543.5 1661.1,555.1 1639.8,574.5"/>
<path d="M1717.4,458.1 1725.2,520.2"/>
<path d="M1661.1,555.1 1686.3,547.4 1709.6,535.7 1725.2,520.2 1756.2,528 1775.6,535.7 1795,516.3 1806.7,500.8 1810.6,477.5 1802.8,446.4"/>
<path d="M1666.9,460 1748.4,454.2"/>
<path d="M1810.6,500.8 1911.5,493"/>
<path d="M1822.2,442.5 1903.7,436.7 1919.3,446.4 1915.4,465.8 1927,485.2 1911.5,493"/>
<path d="M1923.1,363 1938.7,415.4 1940.6,454.2"/>
<path d="M1958.1,357.1 1952.3,388.2 1952.3,415.4"/>
<path d="M1965.8,349.4 1985.2,403.7"/>
<path d="M1938.7,415.4 1989.1,411.5"/>
<path d="M1940.6,432.8 1981.4,427"/>
<path d="M1639.8,582.3 1717.4,580.4 1802.8,578.4"/>
<path d="M1628.1,621.1 1748.4,617.2 1752.3,611.4"/>
<path d="M1666.9,621.1 1670.8,737.6"/>
<path d="M1721.3,619.2 1740.7,691 1744.6,729.8"/>
<path d="M1767.9,625 1810.6,671.6 1841.6,698.8"/>
<path d="M1670.8,729.8 1744.6,729.8 1830,725.9"/>
<path d="M1775.6,535.7 1795,555.1 1830,543.5 1841.6,520.2 1861,498.8 1888.2,516.3 1911.5,535.7"/>
<path d="M1833.9,500.8 1861,498.8"/>
<path d="M1538.8,675.5 1604.8,675.5"/>
<path d="M1538.8,675.5 1542.7,718.2 1550.5,750"/>
<path d="M1523.3,590.1 1531.1,659.9 1538.8,675.5"/>
<path d="M1500,500.8 1519.4,524.1 1521.4,590.1 1628.1,590.1"/>
<path d="M1500,579.2 1521.4,579.2"/>
<path d="M1500,659.9 1531.1,659.9"/>
<path d="M1597,388.2 1589.3,361 1558.2,345.5"/>
<path d="M2491,1584.8 2441.8,1683.1 2436.6,1740.1 2364.2,1737.5"/>
<path d="M2493.6,1760.8 2623,1778.9"/>
<path d="M2364.2,1737.5 2361.6,1797 2390.1,1802.2 2395.2,1838.4"/>
</g>
<g fill="none" stroke="#fff" stroke-opacity="0.9" stroke-width="1" stroke-linejoin="round">
<path d="M982.9,275.6 1099.4,285.3 1223.6,290.4 1332.3,293.9 1500,293.9"/>
<path d="M1021.7,678.6 1076.1,676.2 1155.7,713.5 1221.7,714.3 1221.7,704.6 1256.6,704.6"/>
<path d="M905.3,0 905.3,23.3 932.5,108.7 920.8,116.5"/>
<path d="M1500,293.9 1550.5,293.9 1577.6,310.6 1597,314.4 1624.2,302.8 1663,322.2 1694.1,335.8 1709.6,347.4 1732.9,364.9 1748.4,392.1 1756.2,423.1 1760.1,438.7 1771.7,446.4 1822.2,425.1 1830,407.6 1864.9,397.9 1878.5,388.2 1888.2,372.7 1899.8,364.9 1958.1,357.1 1965.8,345.5 1971.7,310.6 1977.5,297 1996.9,295 2008.5,310.6 2020.2,333.9 2031.8,345.5"/>
<path d="M1297.4,750 1332.3,773.3 1340.1,757.8 1355.6,753.9 1378.9,761.6 1402.2,788.8 1417.7,812.1 1425.5,831.5 1448.8,843.2 1475.9,850.9"/>
<path d="M1630,1066.4 1630,1050.9 1674.7,1050.9"/>
<path d="M1618.4,1066.4 1630,1066.4"/>
<path d="M1618.4,1066.4 1632,1078 1643.6,1087.7 1643.6,1095.5 1608.7,1097.4 1600.9,1118.8 1604.8,1132.4"/>
<path d="M1674.7,1050.9 1674.7,1097.4 1670.8,1105.2 1682.5,1103.3 1698,1101.3"/>
<path d="M1674.7,1050.9 1690.2,1035.3 1701.9,1039.2"/>
<path d="M1682.5,1103.3 1676.6,1122.7 1670.8,1136.3 1655.3,1149.8"/>
<path d="M1670.8,1136.3 1690.2,1146 1709.6,1149.8 1713.5,1165.4 1725.2,1171.2"/>
<path d="M1713.5,1165.4 1732.9,1169.3 1738.7,1153.7 1771.7,1134.3 1795,1124.6 1822.2,1118.8"/>
<path d="M1767.9,1219.7 1795,1221.7 1814.4,1239.1"/>
<path d="M1837.7,1258.5 1841.6,1274.1 1837.7,1293.5"/>
<path d="M1974.1,1280.5 1981.9,1296 1978,1305.1 1970.2,1308.9 1967.6,1305.1 1965,1315.4"/>
<path d="M2115.7,1212.1 2095,1227.6 2082.1,1253.5 2082.1,1284.6 2100.2,1305.3 2110.6,1320.8 2131.3,1320.8 2162.3,1326 2193.4,1341.5 2219.3,1341.5 2229.6,1351.9 2219.3,1382.9 2234.8,1419.2 2232.2,1439.9 2240,1460.6 2237.4,1476.1"/>
<path d="M2237.4,1476.1 2255.5,1486.4 2276.2,1470.9 2309.8,1455.4 2322.8,1442.4 2312.4,1419.2 2291.7,1393.3 2317.6,1403.6 2338.3,1398.4 2359,1382.9 2384.9,1372.6 2387.5,1320.8 2374.5,1310.5"/>
<path d="M2384.9,1372.6 2395.2,1357 2384.9,1326 2392.7,1300.1 2421.1,1289.8"/>
<path d="M2237.4,1476.1 2234.8,1491.6 2172.7,1460.6 2170.1,1481.3 2185.6,1486.4 2170.1,1502 2172.7,1538.2 2167.5,1615.8 2157.1,1613.3"/>
<path d="M1950.1,1481.3 1970.8,1491.6 2001.9,1502 2027.7,1507.1"/>
<path d="M2027.7,1507.1 2053.6,1512.3 2079.5,1543.4 2110.6,1564.1 2157.1,1558.9 2162.3,1579.6 2136.4,1600.3 2157.1,1613.3"/>
<path d="M2027.7,1507.1 2032.9,1533 2017.4,1558.9 1970.8,1584.8 1955.3,1615.8 1934.6,1631.4 1908.7,1615.8 1903.5,1605.5"/>
<path d="M2157.1,1613.3 2131.3,1615.8 2089.9,1636.5 2069.2,1667.6 2064,1693.5 2079.5,1719.4 2084.7,1745.2 2105.4,1750.4 2105.4,1765.9 2136.4,1765.9 2141.6,1786.6 2162.3,1791.8 2188.2,1797 2214.1,1776.3 2255.5,1763.4 2268.4,1763.4"/>
<path d="M2164.9,1791.8 2180.4,1833.2 2172.7,1864.3 2162.3,1890.2 2152,1910.9 2146.8,1936.7 2157.1,1957.5 2157.1,1978.2"/>
<path d="M2268.4,1763.4 2265.8,1791.8 2276.2,1822.9 2317.6,1848.8 2348.7,1864.3 2369.4,1869.5 2374.5,1895.3 2369.4,1926.4 2410.8,1941.9 2421.1,1978.2 2436.6,1998.9 2421.1,2029.9 2405.6,2045.4"/>
<path d="M2405.6,2045.4 2379.7,2024.7 2317.6,2029.9 2296.9,2061 2286.5,2097.2"/>
<path d="M2286.5,2097.2 2265.8,2097.2 2250.3,2112.7 2214.1,2107.6 2198.6,2081.7 2183,2097.2"/>
<path d="M2131.3,1957.5 2157.1,1957.5 2157.1,1978.2 2162.3,2029.9 2172.7,2061 2183,2097.2 2177.8,2150"/>
<path d="M2405.6,2045.4 2410.8,2076.5 2431.5,2076.5 2462.5,2097.2 2472.9,2123.1 2467.7,2150"/>
<path d="M2286.5,2097.2 2317.6,2133.4 2348.7,2150"/>
<path d="M2387.5,1320.8 2400.4,1326 2410.8,1357 2431.5,1388.1 2452.2,1393.3"/>
<path d="M2457.3,1300.1 2447,1331.2 2457.3,1367.4 2452.2,1393.3"/>
<path d="M2452.2,1393.3 2488.4,1382.9 2509.1,1393.3 2535,1377.7"/>
<path d="M2535,1310.5 2540.2,1346.7 2535,1377.7 2560.9,1382.9 2581.6,1357 2597.1,1326"/>
</g>
<path d="M1801.4,578.6 1922.9,572 1927.6,575.6 1932.4,584.5 1937.1,591.7 1938.9,602.4 1932.4,606 1925.2,610.7 1920.5,621.4 1915.7,616.7 1906.2,620.2 1900.2,623.8 1895.5,631 1892.5,641.7 1878.8,641.1 1851.4,619.6 1827.6,620.2 1822.9,613.1 1789.5,613.1 1777.6,619.6 1750.2,620.2 1749,614.3 1754.4,613.1 1756.8,607.1 1765.7,605.4 1776.4,597.6 1782.4,592.9 1786,594 1790.7,589.9 1794.3,591.1 1797.9,585.7 1801.4,583.3Z" fill="none" stroke="#000" stroke-width="3" stroke-linejoin="round"/>
<g fill="none" stroke="#000" stroke-width="4" stroke-linecap="round" stroke-linejoin="round">
<path d="M1907.4,578.6 1908.6,584.5 1913.3,586.9 1920.5,585.7"/>
<path d="M1915.7,581 1922.9,579.8 1925.2,585.7 1922.9,591.7 1927.6,595.2"/>
<path d="M1903.8,598.2 1913.3,600.6 1920.5,598.8 1926.4,597.6 1932.4,591.7"/>
<path d="M1914.5,597.6 1915.7,607.1 1922.9,606"/>
<path d="M1905,607.7 1912.1,611.9 1920.5,613.1"/>
<path d="M1922.9,572.6 1926.4,581 1931.2,588.1"/>
</g>
<rect x="179.0" y="1139.30" width="60.5" height="95.96" fill="#0d0887"/>
<rect x="179.0" y="1234.76" width="60.5" height="95.96" fill="#41049d"/>
<rect x="179.0" y="1330.22" width="60.5" height="95.96" fill="#6a00a8"/>
<rect x="179.0" y="1425.68" width="60.5" height="95.96" fill="#8f0da4"/>
<rect x="179.0" y="1521.14" width="60.5" height="95.96" fill="#b12a90"/>
<rect x="179.0" y="1616.60" width="60.5" height="95.96" fill="#cc4778"/>
<rect x="179.0" y="1712.06" width="60.5" height="95.96" fill="#e16462"/>
<rect x="179.0" y="1807.52" width="60.5" height="95.96" fill="#f2844b"/>
<rect x="179.0" y="1902.98" width="60.5" height="95.96" fill="#fca636"/>
<rect x="179.0" y="1998.44" width="60.5" height="95.96" fill="#fcce25"/>
<rect x="179.0" y="2093.90" width="60.5" height="95.96" fill="#e6e6e6"/>
<path d="M239.5,1139.3 V2189.3599999999997 H179.0" fill="none" stroke="#000" stroke-width="1.2"/>
<rect x="179.5" y="2219.4" width="60.1" height="89.8" fill="#cfcfcf" stroke="#a0a0a0" stroke-width="1"/>
<rect x="179.1" y="2339" width="60.9" height="90.8" fill="#fff" stroke="#000" stroke-width="2.2"/>

<text x="282.4" y="1208.4" font-size="54">High</text>
<text x="282.4" y="2075.9" font-size="54">Moderate</text>
<text x="282.4" y="2163.1" font-size="54">Low</text>
<text x="276.3" y="2280.5" font-size="54.5">No prediction</text>
<text x="276.9" y="2400.5" font-size="54.1" class="b">Focal state</text>
<text transform="translate(128,2121) rotate(-90)" font-size="48" class="b">Uniqueness of non-breeding connection</text>
<text x="66" y="2581.6" font-size="108.1" class="b">Shared Stewardship Uniqueness</text>
<text x="64" y="2689.5" font-size="72">North Carolina: 35 migratory species</text>

<g transform="translate(40,2760) scale(0.16563)">
<path d="M525,245 L975,240 L860,290 L800,360 L790,432 Z" fill="#ffde00"/>
<path d="M120,195 L1190,195 C1240,170 1290,152 1340,152 C1420,152 1490,190 1520,228 L1545,250 L1720,292 L1505,292 L1228,492 L1195,505 L1195,1055 L1150,1055 C950,1055 790,900 790,720 L790,430 C790,330 860,250 975,243 L220,245 C170,245 135,225 120,195 Z" fill="#2d2420"/>
<path d="M900,355 L1085,490 C1105,505 1112,520 1112,545 L1112,655 L920,520 C885,495 870,450 870,420 C870,385 885,365 900,355 Z" fill="#fff"/>
<path d="M1195,322 L1310,256 L1368,262 L1195,353 Z" fill="#fff"/>
<path d="M1522,226 L1545,250 L1265,405 C1225,440 1200,480 1196,525 L1185,480 C1190,430 1215,390 1255,362 Z" fill="#fff"/>
<path d="M1340,152 C1420,152 1490,190 1520,228 L1498,242 C1465,205 1420,185 1343,180 Z" fill="#d81e14"/>
<path d="M1543,252 L1503,295 L1305,437 L1338,395 L1420,330 Z" fill="#d81e14"/>
<circle cx="1418" cy="240" r="20" fill="#fff"/>
<rect x="1835" y="152" width="30" height="933" fill="#2d2420"/>
</g>
<text transform="translate(382.7,2901.4) scale(1.014,0.93)" font-size="122" class="b" style="fill:#36844d">e</text>
<text transform="translate(451.1,2901.4) scale(0.864,1.04)" font-size="122" class="b" style="fill:#2d2420">B</text>
<text transform="translate(523.1,2901.4) scale(0.94,0.99)" font-size="122" class="b" style="fill:#2d2420">i</text>
<text transform="translate(550.0,2901.4) scale(0.995,0.93)" font-size="122" class="b" style="fill:#2d2420">r</text>
<text transform="translate(591.5,2901.4) scale(1.038,1.04)" font-size="122" class="b" style="fill:#2d2420">d</text>


<g>
<circle cx="2805.2" cy="2850.2" r="98" fill="#c6ab72"/>
<circle cx="2805.2" cy="2850.2" r="75.5" fill="#00a18b"/>
<g fill="none" stroke="#c6ab72" stroke-width="1.3">
<path d="M2729.7,2850.2 H2880.7 M2740.7,2812.2 H2869.7 M2740.7,2888.2 H2869.7"/>
<ellipse cx="2805.2" cy="2850.2" rx="39.5" ry="75"/>
</g>
<g transform="translate(2805.2,2850.2) scale(0.10870)"><path d="M-168,-628 Q0,-662 172,-628 L96,-372 C180,-330 300,-352 412,-330 L442,-288 L420,-246 L332,-206 L232,-138 L152,-116 L84,-136 C80,-80 60,-40 0,-6 C-60,-40 -80,-80 -84,-136 L-152,-116 L-232,-138 L-332,-206 L-420,-246 L-442,-288 L-412,-330 C-300,-352 -180,-330 -96,-372 Z" fill="#050505"/>
<path d="M92,-233 L342,-228 L282,-178 L182,-156 L92,-176 Z M-92,-233 L-342,-228 L-282,-178 L-182,-156 L-92,-176 Z M72,-568 L124,-528 L77,-383 L24,-408 Z M-72,-568 L-124,-528 L-77,-383 L-24,-408 Z" fill="#e8392a"/><g transform="scale(1,-1)"><path d="M-168,-628 Q0,-662 172,-628 L96,-372 C180,-330 300,-352 412,-330 L442,-288 L420,-246 L332,-206 L232,-138 L152,-116 L84,-136 C80,-80 60,-40 0,-6 C-60,-40 -80,-80 -84,-136 L-152,-116 L-232,-138 L-332,-206 L-420,-246 L-442,-288 L-412,-330 C-300,-352 -180,-330 -96,-372 Z" fill="#050505"/>
<path d="M92,-233 L342,-228 L282,-178 L182,-156 L92,-176 Z M-92,-233 L-342,-228 L-282,-178 L-182,-156 L-92,-176 Z M72,-568 L124,-528 L77,-383 L24,-408 Z M-72,-568 L-124,-528 L-77,-383 L-24,-408 Z" fill="#e8392a"/></g></g>
<defs><path id="pifTop" d="M2738.96,2805.52 A79.9,79.9 0 0 1 2874.40,2810.25"/><path id="pifL" d="M2722.94,2812.71 A90.4,90.4 0 0 0 2798.89,2940.38"/><path id="pifR" d="M2807.57,2940.57 A90.4,90.4 0 0 0 2886.45,2810.57"/></defs>
<g font-family="'Liberation Serif',serif" font-weight="bold" font-size="16.5" fill="#111">
<text style="font-family:'Liberation Serif',serif"><textPath href="#pifTop" textLength="160" lengthAdjust="spacingAndGlyphs">PARTNERS IN FLIGHT</textPath></text>
<text style="font-family:'Liberation Serif',serif"><textPath href="#pifL" textLength="172" lengthAdjust="spacingAndGlyphs">PARTENAIRES D’ENVOL</textPath></text>
<text style="font-family:'Liberation Serif',serif"><textPath href="#pifR" textLength="178" lengthAdjust="spacingAndGlyphs">COMPAÑEROS EN VUELO</textPath></text>
</g>
<circle cx="2732.2" cy="2806.3" r="1.9" fill="#111"/><circle cx="2878.2" cy="2806.3" r="1.9" fill="#111"/><circle cx="2803.0" cy="2935.8" r="1.9" fill="#111"/>
</g>
</svg></body></html>
